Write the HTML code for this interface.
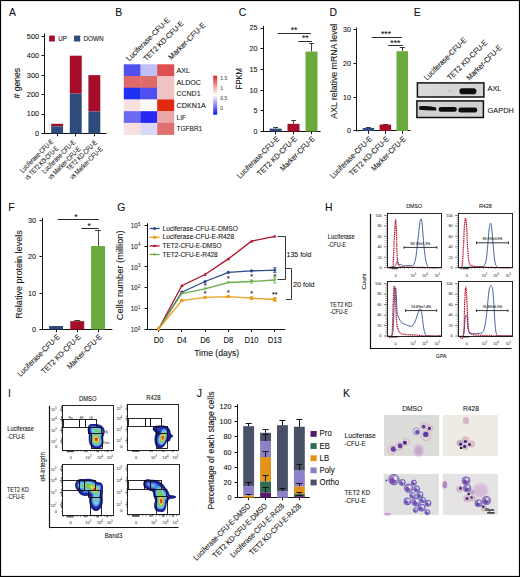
<!DOCTYPE html><html><head><meta charset="utf-8"><style>html,body{margin:0;padding:0;background:#fff;}svg{display:block;font-family:"Liberation Sans",sans-serif;}</style></head><body><svg width="520" height="577" viewBox="0 0 520 577" font-family='"Liberation Sans", sans-serif' fill="#111">
<rect x="0.00" y="0.00" width="520.00" height="577.00" fill="#ffffff"/>
<text x="8.96" y="15.70" font-size="11.2" textLength="6.95" lengthAdjust="spacingAndGlyphs" stroke="#111" stroke-width="0.1">A</text>
<line x1="44.50" y1="33.50" x2="44.50" y2="134.00" stroke="#111" stroke-width="1"/>
<line x1="41.50" y1="133.50" x2="44.50" y2="133.50" stroke="#111" stroke-width="1"/>
<text x="39.00" y="135.90" font-size="7.5" text-anchor="end" textLength="4.05" lengthAdjust="spacingAndGlyphs" stroke="#111" stroke-width="0.08">0</text>
<line x1="41.50" y1="114.50" x2="44.50" y2="114.50" stroke="#111" stroke-width="1"/>
<text x="39.00" y="116.45" font-size="7.5" text-anchor="end" textLength="12.15" lengthAdjust="spacingAndGlyphs" stroke="#111" stroke-width="0.08">100</text>
<line x1="41.50" y1="94.50" x2="44.50" y2="94.50" stroke="#111" stroke-width="1"/>
<text x="39.00" y="97.00" font-size="7.5" text-anchor="end" textLength="12.15" lengthAdjust="spacingAndGlyphs" stroke="#111" stroke-width="0.08">200</text>
<line x1="41.50" y1="75.50" x2="44.50" y2="75.50" stroke="#111" stroke-width="1"/>
<text x="39.00" y="77.55" font-size="7.5" text-anchor="end" textLength="12.15" lengthAdjust="spacingAndGlyphs" stroke="#111" stroke-width="0.08">300</text>
<line x1="41.50" y1="55.50" x2="44.50" y2="55.50" stroke="#111" stroke-width="1"/>
<text x="39.00" y="58.10" font-size="7.5" text-anchor="end" textLength="12.15" lengthAdjust="spacingAndGlyphs" stroke="#111" stroke-width="0.08">400</text>
<line x1="41.50" y1="36.50" x2="44.50" y2="36.50" stroke="#111" stroke-width="1"/>
<text x="39.00" y="38.65" font-size="7.5" text-anchor="end" textLength="12.15" lengthAdjust="spacingAndGlyphs" stroke="#111" stroke-width="0.08">500</text>
<line x1="41.80" y1="133.50" x2="106.50" y2="133.50" stroke="#111" stroke-width="1"/>
<text x="19.60" y="83.20" font-size="8.6" text-anchor="middle" transform="rotate(-90 19.60 83.20)" textLength="30.50" lengthAdjust="spacingAndGlyphs" stroke="#111" stroke-width="0.08"># genes</text>
<rect x="51.20" y="123.78" width="11.90" height="2.53" fill="#a50d2a"/>
<rect x="51.20" y="126.30" width="11.90" height="7.20" fill="#2d4b7b"/>
<line x1="57.50" y1="133.50" x2="57.50" y2="136.30" stroke="#111" stroke-width="1"/>
<rect x="69.80" y="55.70" width="11.90" height="37.93" fill="#a50d2a"/>
<rect x="69.80" y="93.63" width="11.90" height="39.87" fill="#2d4b7b"/>
<line x1="75.50" y1="133.50" x2="75.50" y2="136.30" stroke="#111" stroke-width="1"/>
<rect x="88.40" y="75.15" width="11.90" height="36.37" fill="#a50d2a"/>
<rect x="88.40" y="111.52" width="11.90" height="21.98" fill="#2d4b7b"/>
<line x1="94.50" y1="133.50" x2="94.50" y2="136.30" stroke="#111" stroke-width="1"/>
<rect x="49.10" y="35.60" width="5.70" height="5.90" fill="#a50d2a"/>
<text x="58.30" y="41.10" font-size="7.0" textLength="8.60" lengthAdjust="spacingAndGlyphs" stroke="#111" stroke-width="0.08">UP</text>
<rect x="74.10" y="35.60" width="6.10" height="5.90" fill="#2d4b7b"/>
<text x="83.40" y="41.10" font-size="7.0" textLength="20.30" lengthAdjust="spacingAndGlyphs" stroke="#111" stroke-width="0.08">DOWN</text>
<text x="53.80" y="142.10" font-size="7.2" text-anchor="end" transform="rotate(-45 53.80 142.10)" textLength="44.00" lengthAdjust="spacingAndGlyphs" stroke="#111" stroke-width="0.08">Luciferase-CFU-E</text>
<text x="59.00" y="149.00" font-size="7.2" text-anchor="end" transform="rotate(-45 59.00 149.00)" textLength="44.50" lengthAdjust="spacingAndGlyphs" stroke="#111" stroke-width="0.08">vs TET2 KD-CFU-E</text>
<text x="75.80" y="142.90" font-size="7.2" text-anchor="end" transform="rotate(-45 75.80 142.90)" textLength="44.00" lengthAdjust="spacingAndGlyphs" stroke="#111" stroke-width="0.08">Luciferase-CFU-E</text>
<text x="81.10" y="149.60" font-size="7.2" text-anchor="end" transform="rotate(-45 81.10 149.60)" textLength="43.00" lengthAdjust="spacingAndGlyphs" stroke="#111" stroke-width="0.08">vs Marker-CFU-E</text>
<text x="97.50" y="143.30" font-size="7.2" text-anchor="end" transform="rotate(-45 97.50 143.30)" textLength="39.50" lengthAdjust="spacingAndGlyphs" stroke="#111" stroke-width="0.08">TET2 KD-CFU-E</text>
<text x="103.00" y="149.60" font-size="7.2" text-anchor="end" transform="rotate(-45 103.00 149.60)" textLength="43.00" lengthAdjust="spacingAndGlyphs" stroke="#111" stroke-width="0.08">vs Marker-CFU-E</text>
<text x="115.34" y="15.70" font-size="11.2" textLength="6.95" lengthAdjust="spacingAndGlyphs" stroke="#111" stroke-width="0.1">B</text>
<rect x="123.80" y="64.30" width="17.00" height="12.02" fill="#5050f0"/>
<rect x="140.50" y="64.30" width="17.00" height="12.02" fill="#c0c0f8"/>
<rect x="157.20" y="64.30" width="17.00" height="12.02" fill="#e05050"/>
<text x="176.60" y="72.86" font-size="8.0" textLength="13.40" lengthAdjust="spacingAndGlyphs" stroke="#111" stroke-width="0.08">AXL</text>
<rect x="123.80" y="76.02" width="17.00" height="12.02" fill="#e06a6a"/>
<rect x="140.50" y="76.02" width="17.00" height="12.02" fill="#e06a6a"/>
<rect x="157.20" y="76.02" width="17.00" height="12.02" fill="#f0c4c4"/>
<text x="176.60" y="84.58" font-size="8.0" textLength="24.30" lengthAdjust="spacingAndGlyphs" stroke="#111" stroke-width="0.08">ALDOC</text>
<rect x="123.80" y="87.74" width="17.00" height="12.02" fill="#2030f2"/>
<rect x="140.50" y="87.74" width="17.00" height="12.02" fill="#5050f0"/>
<rect x="157.20" y="87.74" width="17.00" height="12.02" fill="#f0c4c4"/>
<text x="176.60" y="96.30" font-size="8.0" textLength="23.90" lengthAdjust="spacingAndGlyphs" stroke="#111" stroke-width="0.08">CCND1</text>
<rect x="123.80" y="99.46" width="17.00" height="12.02" fill="#f8e0e0"/>
<rect x="140.50" y="99.46" width="17.00" height="12.02" fill="#fafafe"/>
<rect x="157.20" y="99.46" width="17.00" height="12.02" fill="#e02a10"/>
<text x="176.60" y="108.02" font-size="8.0" textLength="29.20" lengthAdjust="spacingAndGlyphs" stroke="#111" stroke-width="0.08">CDKN1A</text>
<rect x="123.80" y="111.18" width="17.00" height="12.02" fill="#6a6af0"/>
<rect x="140.50" y="111.18" width="17.00" height="12.02" fill="#2828f0"/>
<rect x="157.20" y="111.18" width="17.00" height="12.02" fill="#eaa8a8"/>
<text x="176.60" y="119.74" font-size="8.0" textLength="9.40" lengthAdjust="spacingAndGlyphs" stroke="#111" stroke-width="0.08">LIF</text>
<rect x="123.80" y="122.90" width="17.00" height="12.02" fill="#f8e0e0"/>
<rect x="140.50" y="122.90" width="17.00" height="12.02" fill="#d8d8f8"/>
<rect x="157.20" y="122.90" width="17.00" height="12.02" fill="#e07070"/>
<text x="176.60" y="131.46" font-size="8.0" textLength="25.60" lengthAdjust="spacingAndGlyphs" stroke="#111" stroke-width="0.08">TGFBR1</text>
<text x="129.30" y="61.60" font-size="7.6" transform="rotate(-45 129.30 61.60)" textLength="58.00" lengthAdjust="spacingAndGlyphs" stroke="#111" stroke-width="0.08">Luciferase-CFU-E</text>
<text x="146.40" y="61.60" font-size="7.6" transform="rotate(-45 146.40 61.60)" textLength="53.50" lengthAdjust="spacingAndGlyphs" stroke="#111" stroke-width="0.08">TET2 KD-CFU-E</text>
<text x="171.30" y="60.30" font-size="7.6" transform="rotate(-45 171.30 60.30)" textLength="49.00" lengthAdjust="spacingAndGlyphs" stroke="#111" stroke-width="0.08">Marker-CFU-E</text>
<defs><linearGradient id="cb" x1="0" y1="0" x2="0" y2="1"><stop offset="0" stop-color="#e02820"/><stop offset="0.5" stop-color="#ffffff"/><stop offset="1" stop-color="#1010f0"/></linearGradient></defs>
<rect x="213.20" y="75.60" width="4.00" height="39.10" fill="url(#cb)"/>
<text x="220.30" y="79.70" font-size="5.2" fill="#444" textLength="6.87" lengthAdjust="spacingAndGlyphs" stroke="#444" stroke-width="0.06">1.5</text>
<text x="220.30" y="89.60" font-size="5.2" fill="#444" textLength="2.75" lengthAdjust="spacingAndGlyphs" stroke="#444" stroke-width="0.06">1</text>
<text x="220.30" y="99.60" font-size="5.2" fill="#444" textLength="6.87" lengthAdjust="spacingAndGlyphs" stroke="#444" stroke-width="0.06">0.5</text>
<text x="220.30" y="109.70" font-size="5.2" fill="#444" textLength="2.75" lengthAdjust="spacingAndGlyphs" stroke="#444" stroke-width="0.06">0</text>
<text x="238.78" y="15.90" font-size="11.2" textLength="7.52" lengthAdjust="spacingAndGlyphs" stroke="#111" stroke-width="0.1">C</text>
<line x1="263.50" y1="25.90" x2="263.50" y2="132.00" stroke="#111" stroke-width="1"/>
<line x1="260.50" y1="131.50" x2="263.50" y2="131.50" stroke="#111" stroke-width="1"/>
<text x="257.40" y="133.90" font-size="7.4" text-anchor="end" textLength="4.00" lengthAdjust="spacingAndGlyphs" stroke="#111" stroke-width="0.08">0</text>
<line x1="260.50" y1="110.50" x2="263.50" y2="110.50" stroke="#111" stroke-width="1"/>
<text x="257.40" y="113.20" font-size="7.4" text-anchor="end" textLength="4.00" lengthAdjust="spacingAndGlyphs" stroke="#111" stroke-width="0.08">5</text>
<line x1="260.50" y1="90.50" x2="263.50" y2="90.50" stroke="#111" stroke-width="1"/>
<text x="257.40" y="92.50" font-size="7.4" text-anchor="end" textLength="8.00" lengthAdjust="spacingAndGlyphs" stroke="#111" stroke-width="0.08">10</text>
<line x1="260.50" y1="69.50" x2="263.50" y2="69.50" stroke="#111" stroke-width="1"/>
<text x="257.40" y="71.80" font-size="7.4" text-anchor="end" textLength="8.00" lengthAdjust="spacingAndGlyphs" stroke="#111" stroke-width="0.08">15</text>
<line x1="260.50" y1="48.50" x2="263.50" y2="48.50" stroke="#111" stroke-width="1"/>
<text x="257.40" y="51.10" font-size="7.4" text-anchor="end" textLength="8.00" lengthAdjust="spacingAndGlyphs" stroke="#111" stroke-width="0.08">20</text>
<line x1="260.50" y1="28.50" x2="263.50" y2="28.50" stroke="#111" stroke-width="1"/>
<text x="257.40" y="30.40" font-size="7.4" text-anchor="end" textLength="8.00" lengthAdjust="spacingAndGlyphs" stroke="#111" stroke-width="0.08">25</text>
<line x1="263.00" y1="131.50" x2="320.60" y2="131.50" stroke="#111" stroke-width="1"/>
<text x="242.00" y="78.70" font-size="8.2" text-anchor="middle" transform="rotate(-90 242.00 78.70)" textLength="20.96" lengthAdjust="spacingAndGlyphs" stroke="#111" stroke-width="0.08">FPKM</text>
<line x1="275.50" y1="128.60" x2="275.50" y2="127.57" stroke="#111" stroke-width="0.8"/>
<line x1="273.10" y1="127.50" x2="278.10" y2="127.50" stroke="#111" stroke-width="0.8"/>
<rect x="269.60" y="128.60" width="12.00" height="2.90" fill="#2d4b7b"/>
<line x1="275.50" y1="131.50" x2="275.50" y2="134.30" stroke="#111" stroke-width="1"/>
<line x1="293.50" y1="123.84" x2="293.50" y2="120.74" stroke="#111" stroke-width="0.8"/>
<line x1="291.00" y1="120.50" x2="296.00" y2="120.50" stroke="#111" stroke-width="0.8"/>
<rect x="287.50" y="123.84" width="12.00" height="7.66" fill="#a50d2a"/>
<line x1="293.50" y1="131.50" x2="293.50" y2="134.30" stroke="#111" stroke-width="1"/>
<line x1="311.50" y1="51.60" x2="311.50" y2="43.32" stroke="#111" stroke-width="0.8"/>
<line x1="309.00" y1="43.50" x2="314.00" y2="43.50" stroke="#111" stroke-width="0.8"/>
<rect x="305.50" y="51.60" width="12.00" height="79.90" fill="#6aaa3c"/>
<line x1="311.50" y1="131.50" x2="311.50" y2="134.30" stroke="#111" stroke-width="1"/>
<line x1="277.70" y1="33.50" x2="310.80" y2="33.50" stroke="#111" stroke-width="0.9"/>
<text x="294.00" y="33.00" font-size="8.5" text-anchor="middle" stroke="#111" stroke-width="0.08">**</text>
<line x1="298.40" y1="41.50" x2="312.00" y2="41.50" stroke="#111" stroke-width="0.9"/>
<text x="305.30" y="41.20" font-size="8.5" text-anchor="middle" stroke="#111" stroke-width="0.08">**</text>
<text x="279.70" y="139.40" font-size="7.8" text-anchor="end" transform="rotate(-45 279.70 139.40)" textLength="56.08" lengthAdjust="spacingAndGlyphs" stroke="#111" stroke-width="0.08">Luciferase-CFU-E</text>
<text x="297.40" y="139.40" font-size="7.8" text-anchor="end" transform="rotate(-45 297.40 139.40)" textLength="52.56" lengthAdjust="spacingAndGlyphs" stroke="#111" stroke-width="0.08">TET2 KD-CFU-E</text>
<text x="315.30" y="139.40" font-size="7.8" text-anchor="end" transform="rotate(-45 315.30 139.40)" textLength="45.55" lengthAdjust="spacingAndGlyphs" stroke="#111" stroke-width="0.08">Marker-CFU-E</text>
<text x="329.48" y="15.70" font-size="11.2" textLength="7.52" lengthAdjust="spacingAndGlyphs" stroke="#111" stroke-width="0.1">D</text>
<line x1="356.50" y1="27.50" x2="356.50" y2="131.50" stroke="#111" stroke-width="1"/>
<line x1="353.50" y1="130.50" x2="356.50" y2="130.50" stroke="#111" stroke-width="1"/>
<text x="351.00" y="133.40" font-size="7.4" text-anchor="end" textLength="4.00" lengthAdjust="spacingAndGlyphs" stroke="#111" stroke-width="0.08">0</text>
<line x1="353.50" y1="97.50" x2="356.50" y2="97.50" stroke="#111" stroke-width="1"/>
<text x="351.00" y="99.60" font-size="7.4" text-anchor="end" textLength="8.00" lengthAdjust="spacingAndGlyphs" stroke="#111" stroke-width="0.08">10</text>
<line x1="353.50" y1="63.50" x2="356.50" y2="63.50" stroke="#111" stroke-width="1"/>
<text x="351.00" y="65.80" font-size="7.4" text-anchor="end" textLength="8.00" lengthAdjust="spacingAndGlyphs" stroke="#111" stroke-width="0.08">20</text>
<line x1="353.50" y1="29.50" x2="356.50" y2="29.50" stroke="#111" stroke-width="1"/>
<text x="351.00" y="32.00" font-size="7.4" text-anchor="end" textLength="8.00" lengthAdjust="spacingAndGlyphs" stroke="#111" stroke-width="0.08">30</text>
<line x1="356.00" y1="130.50" x2="410.40" y2="130.50" stroke="#111" stroke-width="1"/>
<text x="337.00" y="71.20" font-size="8.4" text-anchor="middle" transform="rotate(-90 337.00 71.20)" textLength="95.00" lengthAdjust="spacingAndGlyphs" stroke="#111" stroke-width="0.08">AXL relative mRNA level</text>
<line x1="368.50" y1="127.96" x2="368.50" y2="127.79" stroke="#111" stroke-width="0.8"/>
<line x1="365.95" y1="127.50" x2="370.95" y2="127.50" stroke="#111" stroke-width="0.8"/>
<rect x="362.70" y="127.96" width="11.50" height="3.04" fill="#2d4b7b"/>
<line x1="368.50" y1="131.00" x2="368.50" y2="133.80" stroke="#111" stroke-width="1"/>
<line x1="385.50" y1="124.58" x2="385.50" y2="124.24" stroke="#111" stroke-width="0.8"/>
<line x1="382.85" y1="124.50" x2="387.85" y2="124.50" stroke="#111" stroke-width="0.8"/>
<rect x="379.60" y="124.58" width="11.50" height="6.42" fill="#a50d2a"/>
<line x1="385.50" y1="131.00" x2="385.50" y2="133.80" stroke="#111" stroke-width="1"/>
<line x1="402.50" y1="51.23" x2="402.50" y2="47.18" stroke="#111" stroke-width="0.8"/>
<line x1="399.75" y1="47.50" x2="404.75" y2="47.50" stroke="#111" stroke-width="0.8"/>
<rect x="396.50" y="51.23" width="11.50" height="79.77" fill="#6aaa3c"/>
<line x1="402.50" y1="131.00" x2="402.50" y2="133.80" stroke="#111" stroke-width="1"/>
<line x1="371.80" y1="37.50" x2="401.80" y2="37.50" stroke="#111" stroke-width="0.9"/>
<text x="386.00" y="37.30" font-size="8.5" text-anchor="middle" stroke="#111" stroke-width="0.08">***</text>
<line x1="388.20" y1="45.50" x2="402.90" y2="45.50" stroke="#111" stroke-width="0.9"/>
<text x="395.30" y="46.00" font-size="8.5" text-anchor="middle" stroke="#111" stroke-width="0.08">***</text>
<text x="372.60" y="139.40" font-size="7.8" text-anchor="end" transform="rotate(-45 372.60 139.40)" textLength="56.08" lengthAdjust="spacingAndGlyphs" stroke="#111" stroke-width="0.08">Luciferase-CFU-E</text>
<text x="389.50" y="139.40" font-size="7.8" text-anchor="end" transform="rotate(-45 389.50 139.40)" textLength="52.56" lengthAdjust="spacingAndGlyphs" stroke="#111" stroke-width="0.08">TET2 KD-CFU-E</text>
<text x="406.40" y="139.40" font-size="7.8" text-anchor="end" transform="rotate(-45 406.40 139.40)" textLength="45.55" lengthAdjust="spacingAndGlyphs" stroke="#111" stroke-width="0.08">Marker-CFU-E</text>
<text x="413.68" y="15.70" font-size="11.2" textLength="6.95" lengthAdjust="spacingAndGlyphs" stroke="#111" stroke-width="0.1">E</text>
<text x="427.00" y="80.80" font-size="7.8" transform="rotate(-45 427.00 80.80)" textLength="56.85" lengthAdjust="spacingAndGlyphs" stroke="#111" stroke-width="0.08">Luciferase-CFU-E</text>
<text x="450.30" y="80.80" font-size="7.8" transform="rotate(-45 450.30 80.80)" textLength="53.28" lengthAdjust="spacingAndGlyphs" stroke="#111" stroke-width="0.08">TET2 KD-CFU-E</text>
<text x="469.60" y="80.80" font-size="7.8" transform="rotate(-45 469.60 80.80)" textLength="46.17" lengthAdjust="spacingAndGlyphs" stroke="#111" stroke-width="0.08">Marker-CFU-E</text>
<defs><filter id="bl1" x="-20%" y="-50%" width="140%" height="200%"><feGaussianBlur stdDeviation="0.55"/></filter><linearGradient id="eg1" x1="0" y1="0" x2="1" y2="0"><stop offset="0" stop-color="#dadada"/><stop offset="1" stop-color="#d2d2d2"/></linearGradient></defs>
<rect x="417.4" y="82.9" width="66.5" height="14.1" fill="url(#eg1)" stroke="#111" stroke-width="1.5"/>
<rect x="459.4" y="88.2" width="17" height="6.0" rx="2.8" fill="#111" filter="url(#bl1)"/>
<ellipse cx="450" cy="91" rx="2.5" ry="1.5" fill="#c8c8c8" filter="url(#bl1)"/>
<rect x="416.9" y="100.9" width="66.5" height="16.6" fill="#d0d0d0" stroke="#111" stroke-width="1.5"/>
<path d="M419.2,106.3 Q427,105.6 436.2,107.4 L436.2,110.4 Q427,110.6 419.2,109.8 Z" fill="#111" filter="url(#bl1)"/>
<rect x="438.6" y="107.0" width="18.2" height="4.8" rx="2.2" fill="#111" filter="url(#bl1)"/>
<rect x="458.4" y="107.4" width="18.8" height="5.0" rx="2.2" fill="#111" filter="url(#bl1)"/>
<text x="487.60" y="91.20" font-size="8.0" textLength="13.80" lengthAdjust="spacingAndGlyphs" stroke="#111" stroke-width="0.08">AXL</text>
<text x="487.60" y="112.80" font-size="8.0" textLength="26.20" lengthAdjust="spacingAndGlyphs" stroke="#111" stroke-width="0.08">GAPDH</text>
<text x="8.26" y="211.20" font-size="11.2" textLength="6.36" lengthAdjust="spacingAndGlyphs" stroke="#111" stroke-width="0.1">F</text>
<line x1="42.50" y1="218.10" x2="42.50" y2="330.00" stroke="#111" stroke-width="1"/>
<line x1="39.50" y1="329.50" x2="42.50" y2="329.50" stroke="#111" stroke-width="1"/>
<text x="36.00" y="331.90" font-size="7.4" text-anchor="end" textLength="4.00" lengthAdjust="spacingAndGlyphs" stroke="#111" stroke-width="0.08">0</text>
<line x1="39.50" y1="293.50" x2="42.50" y2="293.50" stroke="#111" stroke-width="1"/>
<text x="36.00" y="295.60" font-size="7.4" text-anchor="end" textLength="8.00" lengthAdjust="spacingAndGlyphs" stroke="#111" stroke-width="0.08">10</text>
<line x1="39.50" y1="256.50" x2="42.50" y2="256.50" stroke="#111" stroke-width="1"/>
<text x="36.00" y="259.30" font-size="7.4" text-anchor="end" textLength="8.00" lengthAdjust="spacingAndGlyphs" stroke="#111" stroke-width="0.08">20</text>
<line x1="39.50" y1="220.50" x2="42.50" y2="220.50" stroke="#111" stroke-width="1"/>
<text x="36.00" y="223.00" font-size="7.4" text-anchor="end" textLength="8.00" lengthAdjust="spacingAndGlyphs" stroke="#111" stroke-width="0.08">30</text>
<line x1="42.00" y1="329.50" x2="112.40" y2="329.50" stroke="#111" stroke-width="1"/>
<text x="21.60" y="274.50" font-size="8.2" text-anchor="middle" transform="rotate(-90 21.60 274.50)" textLength="88.40" lengthAdjust="spacingAndGlyphs" stroke="#111" stroke-width="0.08">Relative protein levels</text>
<line x1="56.50" y1="326.50" x2="56.50" y2="326.50" stroke="#111" stroke-width="0.8"/>
<line x1="53.05" y1="326.50" x2="59.05" y2="326.50" stroke="#111" stroke-width="0.8"/>
<rect x="49.10" y="326.05" width="13.90" height="3.45" fill="#2d4b7b"/>
<line x1="56.50" y1="329.50" x2="56.50" y2="332.30" stroke="#111" stroke-width="1"/>
<line x1="77.50" y1="321.15" x2="77.50" y2="320.43" stroke="#111" stroke-width="0.8"/>
<line x1="74.25" y1="320.50" x2="80.25" y2="320.50" stroke="#111" stroke-width="0.8"/>
<rect x="70.30" y="321.15" width="13.90" height="8.35" fill="#a50d2a"/>
<line x1="77.50" y1="329.50" x2="77.50" y2="332.30" stroke="#111" stroke-width="1"/>
<line x1="98.50" y1="246.01" x2="98.50" y2="230.76" stroke="#111" stroke-width="0.8"/>
<line x1="95.05" y1="230.50" x2="101.05" y2="230.50" stroke="#111" stroke-width="0.8"/>
<rect x="91.10" y="246.01" width="13.90" height="83.49" fill="#6aaa3c"/>
<line x1="98.50" y1="329.50" x2="98.50" y2="332.30" stroke="#111" stroke-width="1"/>
<line x1="57.70" y1="219.50" x2="98.80" y2="219.50" stroke="#111" stroke-width="0.9"/>
<text x="75.90" y="220.30" font-size="8.5" text-anchor="middle" stroke="#111" stroke-width="0.08">*</text>
<line x1="81.40" y1="228.50" x2="98.80" y2="228.50" stroke="#111" stroke-width="0.9"/>
<text x="89.20" y="229.40" font-size="8.5" text-anchor="middle" stroke="#111" stroke-width="0.08">*</text>
<text x="60.20" y="337.40" font-size="7.8" text-anchor="end" transform="rotate(-45 60.20 337.40)" textLength="56.08" lengthAdjust="spacingAndGlyphs" stroke="#111" stroke-width="0.08">Luciferase-CFU-E</text>
<text x="81.40" y="337.40" font-size="7.8" text-anchor="end" transform="rotate(-45 81.40 337.40)" textLength="52.56" lengthAdjust="spacingAndGlyphs" stroke="#111" stroke-width="0.08">TET2 KD-CFU-E</text>
<text x="102.20" y="337.40" font-size="7.8" text-anchor="end" transform="rotate(-45 102.20 337.40)" textLength="45.55" lengthAdjust="spacingAndGlyphs" stroke="#111" stroke-width="0.08">Marker-CFU-E</text>
<text x="117.30" y="211.00" font-size="11.2" textLength="8.10" lengthAdjust="spacingAndGlyphs" stroke="#111" stroke-width="0.1">G</text>
<line x1="147.50" y1="223.30" x2="147.50" y2="330.00" stroke="#111" stroke-width="1"/>
<line x1="144.50" y1="329.50" x2="147.50" y2="329.50" stroke="#111" stroke-width="1"/>
<text x="137.70" y="332.10" font-size="7.4" text-anchor="end" textLength="6.90" lengthAdjust="spacingAndGlyphs" stroke="#111" stroke-width="0.08">10</text>
<text x="137.90" y="329.80" font-size="4.6" textLength="2.35" lengthAdjust="spacingAndGlyphs" stroke="#111" stroke-width="0.06">0</text>
<line x1="144.50" y1="308.50" x2="147.50" y2="308.50" stroke="#111" stroke-width="1"/>
<text x="137.70" y="311.25" font-size="7.4" text-anchor="end" textLength="6.90" lengthAdjust="spacingAndGlyphs" stroke="#111" stroke-width="0.08">10</text>
<text x="137.90" y="308.95" font-size="4.6" textLength="2.35" lengthAdjust="spacingAndGlyphs" stroke="#111" stroke-width="0.06">1</text>
<line x1="144.50" y1="287.50" x2="147.50" y2="287.50" stroke="#111" stroke-width="1"/>
<text x="137.70" y="290.40" font-size="7.4" text-anchor="end" textLength="6.90" lengthAdjust="spacingAndGlyphs" stroke="#111" stroke-width="0.08">10</text>
<text x="137.90" y="288.10" font-size="4.6" textLength="2.35" lengthAdjust="spacingAndGlyphs" stroke="#111" stroke-width="0.06">2</text>
<line x1="144.50" y1="266.50" x2="147.50" y2="266.50" stroke="#111" stroke-width="1"/>
<text x="137.70" y="269.55" font-size="7.4" text-anchor="end" textLength="6.90" lengthAdjust="spacingAndGlyphs" stroke="#111" stroke-width="0.08">10</text>
<text x="137.90" y="267.25" font-size="4.6" textLength="2.35" lengthAdjust="spacingAndGlyphs" stroke="#111" stroke-width="0.06">3</text>
<line x1="144.50" y1="246.50" x2="147.50" y2="246.50" stroke="#111" stroke-width="1"/>
<text x="137.70" y="248.70" font-size="7.4" text-anchor="end" textLength="6.90" lengthAdjust="spacingAndGlyphs" stroke="#111" stroke-width="0.08">10</text>
<text x="137.90" y="246.40" font-size="4.6" textLength="2.35" lengthAdjust="spacingAndGlyphs" stroke="#111" stroke-width="0.06">4</text>
<line x1="144.50" y1="225.50" x2="147.50" y2="225.50" stroke="#111" stroke-width="1"/>
<text x="137.70" y="227.85" font-size="7.4" text-anchor="end" textLength="6.90" lengthAdjust="spacingAndGlyphs" stroke="#111" stroke-width="0.08">10</text>
<text x="137.90" y="225.55" font-size="4.6" textLength="2.35" lengthAdjust="spacingAndGlyphs" stroke="#111" stroke-width="0.06">5</text>
<line x1="147.00" y1="329.50" x2="285.30" y2="329.50" stroke="#111" stroke-width="1"/>
<line x1="158.50" y1="329.50" x2="158.50" y2="332.00" stroke="#111" stroke-width="1"/>
<text x="158.60" y="342.50" font-size="8.2" text-anchor="middle" textLength="9.75" lengthAdjust="spacingAndGlyphs" stroke="#111" stroke-width="0.08">D0</text>
<line x1="181.50" y1="329.50" x2="181.50" y2="332.00" stroke="#111" stroke-width="1"/>
<text x="181.80" y="342.50" font-size="8.2" text-anchor="middle" textLength="9.75" lengthAdjust="spacingAndGlyphs" stroke="#111" stroke-width="0.08">D4</text>
<line x1="205.50" y1="329.50" x2="205.50" y2="332.00" stroke="#111" stroke-width="1"/>
<text x="205.10" y="342.50" font-size="8.2" text-anchor="middle" textLength="9.75" lengthAdjust="spacingAndGlyphs" stroke="#111" stroke-width="0.08">D6</text>
<line x1="228.50" y1="329.50" x2="228.50" y2="332.00" stroke="#111" stroke-width="1"/>
<text x="228.30" y="342.50" font-size="8.2" text-anchor="middle" textLength="9.75" lengthAdjust="spacingAndGlyphs" stroke="#111" stroke-width="0.08">D8</text>
<line x1="251.50" y1="329.50" x2="251.50" y2="332.00" stroke="#111" stroke-width="1"/>
<text x="251.50" y="342.50" font-size="8.2" text-anchor="middle" textLength="13.99" lengthAdjust="spacingAndGlyphs" stroke="#111" stroke-width="0.08">D10</text>
<line x1="274.50" y1="329.50" x2="274.50" y2="332.00" stroke="#111" stroke-width="1"/>
<text x="274.80" y="342.50" font-size="8.2" text-anchor="middle" textLength="13.99" lengthAdjust="spacingAndGlyphs" stroke="#111" stroke-width="0.08">D13</text>
<text x="216.70" y="355.60" font-size="9.2" text-anchor="middle" textLength="45.00" lengthAdjust="spacingAndGlyphs" stroke="#111" stroke-width="0.08">Time (days)</text>
<text x="123.20" y="275.30" font-size="8.8" text-anchor="middle" transform="rotate(-90 123.20 275.30)" textLength="89.70" lengthAdjust="spacingAndGlyphs" stroke="#111" stroke-width="0.08">Cells number (million)</text>
<polyline points="158.6,329.0 181.8,285.7 205.1,274.5 228.3,258.9 251.5,241.2 274.8,236.3" fill="none" stroke="#b0122a" stroke-width="1.3"/>
<polygon points="156.8,330.3 160.4,330.3 158.6,327.2" fill="#b0122a"/>
<polygon points="180.0,287.0 183.6,287.0 181.8,283.9" fill="#b0122a"/>
<polygon points="203.3,275.8 206.9,275.8 205.1,272.7" fill="#b0122a"/>
<polygon points="226.5,260.2 230.1,260.2 228.3,257.1" fill="#b0122a"/>
<polygon points="249.7,242.5 253.3,242.5 251.5,239.4" fill="#b0122a"/>
<polygon points="273.0,237.6 276.6,237.6 274.8,234.5" fill="#b0122a"/>
<polyline points="158.6,329.0 181.8,292.2 205.1,281.5 228.3,272.4 251.5,270.9 274.8,270.1" fill="none" stroke="#2c4a8c" stroke-width="1.3"/>
<circle cx="158.6" cy="329.0" r="1.6" fill="#2c4a8c"/>
<circle cx="181.8" cy="292.2" r="1.6" fill="#2c4a8c"/>
<circle cx="205.1" cy="281.5" r="1.6" fill="#2c4a8c"/>
<circle cx="228.3" cy="272.4" r="1.6" fill="#2c4a8c"/>
<circle cx="251.5" cy="270.9" r="1.6" fill="#2c4a8c"/>
<circle cx="274.8" cy="270.1" r="1.6" fill="#2c4a8c"/>
<polyline points="158.6,329.0 181.8,293.5 205.1,288.8 228.3,282.5 251.5,281.5 274.8,280.0" fill="none" stroke="#6ab04c" stroke-width="1.3"/>
<polygon points="157.0,327.8 160.2,327.8 158.6,330.6" fill="#6ab04c"/>
<polygon points="180.2,292.3 183.4,292.3 181.8,295.1" fill="#6ab04c"/>
<polygon points="203.5,287.6 206.7,287.6 205.1,290.4" fill="#6ab04c"/>
<polygon points="226.7,281.3 229.9,281.3 228.3,284.1" fill="#6ab04c"/>
<polygon points="249.9,280.3 253.1,280.3 251.5,283.1" fill="#6ab04c"/>
<polygon points="273.2,278.8 276.4,278.8 274.8,281.6" fill="#6ab04c"/>
<polyline points="158.6,329.0 181.8,300.5 205.1,297.4 228.3,296.6 251.5,298.2 274.8,299.5" fill="none" stroke="#e8a020" stroke-width="1.3"/>
<rect x="157.00" y="327.40" width="3.20" height="3.20" fill="#e8a020"/>
<rect x="180.20" y="298.90" width="3.20" height="3.20" fill="#e8a020"/>
<rect x="203.50" y="295.80" width="3.20" height="3.20" fill="#e8a020"/>
<rect x="226.70" y="295.00" width="3.20" height="3.20" fill="#e8a020"/>
<rect x="249.90" y="296.60" width="3.20" height="3.20" fill="#e8a020"/>
<rect x="273.20" y="297.90" width="3.20" height="3.20" fill="#e8a020"/>
<line x1="274.80" y1="267.60" x2="274.80" y2="272.60" stroke="#2c4a8c" stroke-width="0.8"/>
<line x1="273.00" y1="267.60" x2="276.60" y2="267.60" stroke="#2c4a8c" stroke-width="0.8"/>
<line x1="273.00" y1="272.60" x2="276.60" y2="272.60" stroke="#2c4a8c" stroke-width="0.8"/>
<line x1="274.80" y1="277.00" x2="274.80" y2="283.00" stroke="#6ab04c" stroke-width="0.8"/>
<line x1="273.00" y1="277.00" x2="276.60" y2="277.00" stroke="#6ab04c" stroke-width="0.8"/>
<line x1="273.00" y1="283.00" x2="276.60" y2="283.00" stroke="#6ab04c" stroke-width="0.8"/>
<line x1="274.80" y1="297.50" x2="274.80" y2="301.50" stroke="#e8a020" stroke-width="0.8"/>
<line x1="273.00" y1="297.50" x2="276.60" y2="297.50" stroke="#e8a020" stroke-width="0.8"/>
<line x1="273.00" y1="301.50" x2="276.60" y2="301.50" stroke="#e8a020" stroke-width="0.8"/>
<line x1="251.50" y1="279.90" x2="251.50" y2="283.10" stroke="#6ab04c" stroke-width="0.8"/>
<line x1="249.70" y1="279.90" x2="253.30" y2="279.90" stroke="#6ab04c" stroke-width="0.8"/>
<line x1="249.70" y1="283.10" x2="253.30" y2="283.10" stroke="#6ab04c" stroke-width="0.8"/>
<line x1="251.50" y1="296.80" x2="251.50" y2="299.60" stroke="#e8a020" stroke-width="0.8"/>
<line x1="249.70" y1="296.80" x2="253.30" y2="296.80" stroke="#e8a020" stroke-width="0.8"/>
<line x1="249.70" y1="299.60" x2="253.30" y2="299.60" stroke="#e8a020" stroke-width="0.8"/>
<text x="205.10" y="288.00" font-size="7.0" text-anchor="middle" fill="#222" stroke="#222" stroke-width="0.1">*</text>
<text x="205.10" y="296.30" font-size="7.0" text-anchor="middle" fill="#222" stroke="#222" stroke-width="0.1">*</text>
<text x="228.30" y="280.80" font-size="7.0" text-anchor="middle" fill="#222" stroke="#222" stroke-width="0.1">*</text>
<text x="228.30" y="295.30" font-size="7.0" text-anchor="middle" fill="#222" stroke="#222" stroke-width="0.1">*</text>
<text x="251.50" y="279.00" font-size="7.0" text-anchor="middle" fill="#222" stroke="#222" stroke-width="0.1">*</text>
<text x="251.50" y="295.80" font-size="7.0" text-anchor="middle" fill="#222" stroke="#222" stroke-width="0.1">*</text>
<text x="274.80" y="279.00" font-size="7.0" text-anchor="middle" fill="#222" stroke="#222" stroke-width="0.1">*</text>
<text x="274.80" y="296.60" font-size="7.0" text-anchor="middle" fill="#222" stroke="#222" stroke-width="0.1">**</text>
<line x1="149.70" y1="228.50" x2="159.60" y2="228.50" stroke="#2c4a8c" stroke-width="1.3"/>
<circle cx="154.6" cy="228.5" r="1.5" fill="#2c4a8c"/>
<text x="162.50" y="230.60" font-size="7.8" textLength="75.40" lengthAdjust="spacingAndGlyphs" stroke="#111" stroke-width="0.08">Luciferase-CFU-E-DMSO</text>
<line x1="149.70" y1="237.30" x2="159.60" y2="237.30" stroke="#e8a020" stroke-width="1.3"/>
<rect x="153.10" y="235.80" width="3.00" height="3.00" fill="#e8a020"/>
<text x="162.50" y="239.40" font-size="7.8" textLength="71.80" lengthAdjust="spacingAndGlyphs" stroke="#111" stroke-width="0.08">Luciferase-CFU-E-R428</text>
<line x1="149.70" y1="245.90" x2="159.60" y2="245.90" stroke="#b0122a" stroke-width="1.3"/>
<polygon points="152.9,247.1 156.3,247.1 154.6,244.2" fill="#b0122a"/>
<text x="162.50" y="248.00" font-size="7.8" textLength="59.00" lengthAdjust="spacingAndGlyphs" stroke="#111" stroke-width="0.08">TET2-CFU-E-DMSO</text>
<line x1="149.70" y1="254.50" x2="159.60" y2="254.50" stroke="#6ab04c" stroke-width="1.3"/>
<polygon points="153.1,253.4 156.1,253.4 154.6,256.0" fill="#6ab04c"/>
<text x="162.50" y="256.60" font-size="7.8" textLength="55.20" lengthAdjust="spacingAndGlyphs" stroke="#111" stroke-width="0.08">TET2-CFU-E-R428</text>
<polyline points="277.5,236.5 285.5,236.5 285.5,279.5 277.5,279.5" fill="none" stroke="#222" stroke-width="0.9"/>
<text x="286.60" y="257.00" font-size="7.6" textLength="24.80" lengthAdjust="spacingAndGlyphs" stroke="#111" stroke-width="0.08">135 fold</text>
<polyline points="285.8,268.5 291.5,268.5 291.5,299.5 285.8,299.5" fill="none" stroke="#222" stroke-width="0.9"/>
<text x="293.10" y="287.00" font-size="7.6" textLength="21.40" lengthAdjust="spacingAndGlyphs" stroke="#111" stroke-width="0.08">20 fold</text>
<text x="324.96" y="210.80" font-size="11.2" textLength="7.52" lengthAdjust="spacingAndGlyphs" stroke="#111" stroke-width="0.1">H</text>
<text x="414.20" y="208.40" font-size="5.8" text-anchor="middle" textLength="16.01" lengthAdjust="spacingAndGlyphs" stroke="#111" stroke-width="0.08">DMSO</text>
<text x="485.40" y="208.40" font-size="5.8" text-anchor="middle" textLength="12.76" lengthAdjust="spacingAndGlyphs" stroke="#111" stroke-width="0.08">R428</text>
<text x="327.80" y="238.80" font-size="6.6" textLength="27.00" lengthAdjust="spacingAndGlyphs" stroke="#111" stroke-width="0.08">Luciferase</text>
<text x="327.80" y="246.50" font-size="6.6" textLength="18.30" lengthAdjust="spacingAndGlyphs" stroke="#111" stroke-width="0.08">-CFU-E</text>
<text x="330.00" y="306.70" font-size="6.6" textLength="22.30" lengthAdjust="spacingAndGlyphs" stroke="#111" stroke-width="0.08">TET2 KD</text>
<text x="330.00" y="314.40" font-size="6.6" textLength="18.00" lengthAdjust="spacingAndGlyphs" stroke="#111" stroke-width="0.08">-CFU-E</text>
<text x="366.00" y="281.50" font-size="6.2" text-anchor="middle" transform="rotate(-90 366.00 281.50)" textLength="16.00" lengthAdjust="spacingAndGlyphs" stroke="#111" stroke-width="0.08">Count</text>
<text x="441.20" y="358.20" font-size="5.8" text-anchor="middle" textLength="10.87" lengthAdjust="spacingAndGlyphs" stroke="#111" stroke-width="0.08">GPA</text>
<line x1="370.50" y1="213.80" x2="370.50" y2="349.30" stroke="#111" stroke-width="1.2"/>
<line x1="370.00" y1="348.50" x2="511.50" y2="348.50" stroke="#111" stroke-width="1.2"/>
<line x1="384.10" y1="215.40" x2="387.30" y2="215.40" stroke="#222" stroke-width="0.6"/>
<text x="381.70" y="216.70" font-size="3.8" text-anchor="end" fill="#444" textLength="6.45" lengthAdjust="spacingAndGlyphs" stroke="#444" stroke-width="0.06">100</text>
<line x1="385.70" y1="217.49" x2="387.30" y2="217.49" stroke="#222" stroke-width="0.5"/>
<line x1="385.70" y1="219.58" x2="387.30" y2="219.58" stroke="#222" stroke-width="0.5"/>
<line x1="385.70" y1="221.68" x2="387.30" y2="221.68" stroke="#222" stroke-width="0.5"/>
<line x1="385.70" y1="223.77" x2="387.30" y2="223.77" stroke="#222" stroke-width="0.5"/>
<line x1="384.10" y1="225.86" x2="387.30" y2="225.86" stroke="#222" stroke-width="0.6"/>
<text x="381.70" y="227.16" font-size="3.8" text-anchor="end" fill="#444" textLength="4.30" lengthAdjust="spacingAndGlyphs" stroke="#444" stroke-width="0.06">80</text>
<line x1="385.70" y1="227.95" x2="387.30" y2="227.95" stroke="#222" stroke-width="0.5"/>
<line x1="385.70" y1="230.04" x2="387.30" y2="230.04" stroke="#222" stroke-width="0.5"/>
<line x1="385.70" y1="232.14" x2="387.30" y2="232.14" stroke="#222" stroke-width="0.5"/>
<line x1="385.70" y1="234.23" x2="387.30" y2="234.23" stroke="#222" stroke-width="0.5"/>
<line x1="384.10" y1="236.32" x2="387.30" y2="236.32" stroke="#222" stroke-width="0.6"/>
<text x="381.70" y="237.62" font-size="3.8" text-anchor="end" fill="#444" textLength="4.30" lengthAdjust="spacingAndGlyphs" stroke="#444" stroke-width="0.06">60</text>
<line x1="385.70" y1="238.41" x2="387.30" y2="238.41" stroke="#222" stroke-width="0.5"/>
<line x1="385.70" y1="240.50" x2="387.30" y2="240.50" stroke="#222" stroke-width="0.5"/>
<line x1="385.70" y1="242.60" x2="387.30" y2="242.60" stroke="#222" stroke-width="0.5"/>
<line x1="385.70" y1="244.69" x2="387.30" y2="244.69" stroke="#222" stroke-width="0.5"/>
<line x1="384.10" y1="246.78" x2="387.30" y2="246.78" stroke="#222" stroke-width="0.6"/>
<text x="381.70" y="248.08" font-size="3.8" text-anchor="end" fill="#444" textLength="4.30" lengthAdjust="spacingAndGlyphs" stroke="#444" stroke-width="0.06">40</text>
<line x1="385.70" y1="248.87" x2="387.30" y2="248.87" stroke="#222" stroke-width="0.5"/>
<line x1="385.70" y1="250.96" x2="387.30" y2="250.96" stroke="#222" stroke-width="0.5"/>
<line x1="385.70" y1="253.06" x2="387.30" y2="253.06" stroke="#222" stroke-width="0.5"/>
<line x1="385.70" y1="255.15" x2="387.30" y2="255.15" stroke="#222" stroke-width="0.5"/>
<line x1="384.10" y1="257.24" x2="387.30" y2="257.24" stroke="#222" stroke-width="0.6"/>
<text x="381.70" y="258.54" font-size="3.8" text-anchor="end" fill="#444" textLength="4.30" lengthAdjust="spacingAndGlyphs" stroke="#444" stroke-width="0.06">20</text>
<line x1="385.70" y1="259.33" x2="387.30" y2="259.33" stroke="#222" stroke-width="0.5"/>
<line x1="385.70" y1="261.42" x2="387.30" y2="261.42" stroke="#222" stroke-width="0.5"/>
<line x1="385.70" y1="263.52" x2="387.30" y2="263.52" stroke="#222" stroke-width="0.5"/>
<line x1="385.70" y1="265.61" x2="387.30" y2="265.61" stroke="#222" stroke-width="0.5"/>
<line x1="384.10" y1="267.70" x2="387.30" y2="267.70" stroke="#222" stroke-width="0.6"/>
<text x="381.70" y="269.00" font-size="3.8" text-anchor="end" fill="#444" textLength="2.15" lengthAdjust="spacingAndGlyphs" stroke="#444" stroke-width="0.06">0</text>
<text x="395.60" y="276.60" font-size="3.8" text-anchor="middle" fill="#444" textLength="1.94" lengthAdjust="spacingAndGlyphs" stroke="#444" stroke-width="0.06">0</text>
<text x="412.70" y="276.60" font-size="3.8" text-anchor="middle" fill="#444" textLength="3.89" lengthAdjust="spacingAndGlyphs" stroke="#444" stroke-width="0.06">10</text>
<text x="424.30" y="276.60" font-size="3.8" text-anchor="middle" fill="#444" textLength="3.89" lengthAdjust="spacingAndGlyphs" stroke="#444" stroke-width="0.06">10</text>
<text x="436.60" y="276.60" font-size="3.8" text-anchor="middle" fill="#444" textLength="3.89" lengthAdjust="spacingAndGlyphs" stroke="#444" stroke-width="0.06">10</text>
<text x="414.80" y="274.80" font-size="2.6" fill="#444" textLength="1.33" lengthAdjust="spacingAndGlyphs" stroke="#444" stroke-width="0.05">3</text>
<text x="426.40" y="274.80" font-size="2.6" fill="#444" textLength="1.33" lengthAdjust="spacingAndGlyphs" stroke="#444" stroke-width="0.05">4</text>
<text x="438.70" y="274.80" font-size="2.6" fill="#444" textLength="1.33" lengthAdjust="spacingAndGlyphs" stroke="#444" stroke-width="0.05">5</text>
<line x1="390.30" y1="267.70" x2="390.30" y2="268.90" stroke="#111" stroke-width="0.4"/>
<line x1="391.30" y1="267.70" x2="391.30" y2="268.90" stroke="#111" stroke-width="0.4"/>
<line x1="392.30" y1="267.70" x2="392.30" y2="268.90" stroke="#111" stroke-width="0.4"/>
<line x1="393.30" y1="267.70" x2="393.30" y2="268.90" stroke="#111" stroke-width="0.4"/>
<line x1="394.30" y1="267.70" x2="394.30" y2="268.90" stroke="#111" stroke-width="0.4"/>
<line x1="395.60" y1="267.70" x2="395.60" y2="268.90" stroke="#111" stroke-width="0.4"/>
<line x1="396.80" y1="267.70" x2="396.80" y2="268.90" stroke="#111" stroke-width="0.4"/>
<line x1="398.30" y1="267.70" x2="398.30" y2="268.90" stroke="#111" stroke-width="0.4"/>
<line x1="400.30" y1="267.70" x2="400.30" y2="268.90" stroke="#111" stroke-width="0.4"/>
<line x1="404.30" y1="267.70" x2="404.30" y2="268.90" stroke="#111" stroke-width="0.4"/>
<line x1="408.30" y1="267.70" x2="408.30" y2="268.90" stroke="#111" stroke-width="0.4"/>
<line x1="412.70" y1="267.70" x2="412.70" y2="268.90" stroke="#111" stroke-width="0.4"/>
<line x1="417.30" y1="267.70" x2="417.30" y2="268.90" stroke="#111" stroke-width="0.4"/>
<line x1="420.30" y1="267.70" x2="420.30" y2="268.90" stroke="#111" stroke-width="0.4"/>
<line x1="422.30" y1="267.70" x2="422.30" y2="268.90" stroke="#111" stroke-width="0.4"/>
<line x1="424.30" y1="267.70" x2="424.30" y2="268.90" stroke="#111" stroke-width="0.4"/>
<line x1="429.30" y1="267.70" x2="429.30" y2="268.90" stroke="#111" stroke-width="0.4"/>
<line x1="432.30" y1="267.70" x2="432.30" y2="268.90" stroke="#111" stroke-width="0.4"/>
<line x1="434.30" y1="267.70" x2="434.30" y2="268.90" stroke="#111" stroke-width="0.4"/>
<line x1="436.60" y1="267.70" x2="436.60" y2="268.90" stroke="#111" stroke-width="0.4"/>
<line x1="392.30" y1="267.70" x2="392.30" y2="269.30" stroke="#111" stroke-width="0.7"/>
<line x1="393.30" y1="267.70" x2="393.30" y2="269.30" stroke="#111" stroke-width="0.7"/>
<line x1="394.30" y1="267.70" x2="394.30" y2="269.30" stroke="#111" stroke-width="0.7"/>
<line x1="395.30" y1="267.70" x2="395.30" y2="269.30" stroke="#111" stroke-width="0.7"/>
<line x1="396.30" y1="267.70" x2="396.30" y2="269.30" stroke="#111" stroke-width="0.7"/>
<line x1="397.30" y1="267.70" x2="397.30" y2="269.30" stroke="#111" stroke-width="0.7"/>
<line x1="455.10" y1="215.40" x2="458.30" y2="215.40" stroke="#222" stroke-width="0.6"/>
<text x="452.70" y="216.70" font-size="3.8" text-anchor="end" fill="#444" textLength="6.45" lengthAdjust="spacingAndGlyphs" stroke="#444" stroke-width="0.06">100</text>
<line x1="456.70" y1="217.49" x2="458.30" y2="217.49" stroke="#222" stroke-width="0.5"/>
<line x1="456.70" y1="219.58" x2="458.30" y2="219.58" stroke="#222" stroke-width="0.5"/>
<line x1="456.70" y1="221.68" x2="458.30" y2="221.68" stroke="#222" stroke-width="0.5"/>
<line x1="456.70" y1="223.77" x2="458.30" y2="223.77" stroke="#222" stroke-width="0.5"/>
<line x1="455.10" y1="225.86" x2="458.30" y2="225.86" stroke="#222" stroke-width="0.6"/>
<text x="452.70" y="227.16" font-size="3.8" text-anchor="end" fill="#444" textLength="4.30" lengthAdjust="spacingAndGlyphs" stroke="#444" stroke-width="0.06">80</text>
<line x1="456.70" y1="227.95" x2="458.30" y2="227.95" stroke="#222" stroke-width="0.5"/>
<line x1="456.70" y1="230.04" x2="458.30" y2="230.04" stroke="#222" stroke-width="0.5"/>
<line x1="456.70" y1="232.14" x2="458.30" y2="232.14" stroke="#222" stroke-width="0.5"/>
<line x1="456.70" y1="234.23" x2="458.30" y2="234.23" stroke="#222" stroke-width="0.5"/>
<line x1="455.10" y1="236.32" x2="458.30" y2="236.32" stroke="#222" stroke-width="0.6"/>
<text x="452.70" y="237.62" font-size="3.8" text-anchor="end" fill="#444" textLength="4.30" lengthAdjust="spacingAndGlyphs" stroke="#444" stroke-width="0.06">60</text>
<line x1="456.70" y1="238.41" x2="458.30" y2="238.41" stroke="#222" stroke-width="0.5"/>
<line x1="456.70" y1="240.50" x2="458.30" y2="240.50" stroke="#222" stroke-width="0.5"/>
<line x1="456.70" y1="242.60" x2="458.30" y2="242.60" stroke="#222" stroke-width="0.5"/>
<line x1="456.70" y1="244.69" x2="458.30" y2="244.69" stroke="#222" stroke-width="0.5"/>
<line x1="455.10" y1="246.78" x2="458.30" y2="246.78" stroke="#222" stroke-width="0.6"/>
<text x="452.70" y="248.08" font-size="3.8" text-anchor="end" fill="#444" textLength="4.30" lengthAdjust="spacingAndGlyphs" stroke="#444" stroke-width="0.06">40</text>
<line x1="456.70" y1="248.87" x2="458.30" y2="248.87" stroke="#222" stroke-width="0.5"/>
<line x1="456.70" y1="250.96" x2="458.30" y2="250.96" stroke="#222" stroke-width="0.5"/>
<line x1="456.70" y1="253.06" x2="458.30" y2="253.06" stroke="#222" stroke-width="0.5"/>
<line x1="456.70" y1="255.15" x2="458.30" y2="255.15" stroke="#222" stroke-width="0.5"/>
<line x1="455.10" y1="257.24" x2="458.30" y2="257.24" stroke="#222" stroke-width="0.6"/>
<text x="452.70" y="258.54" font-size="3.8" text-anchor="end" fill="#444" textLength="4.30" lengthAdjust="spacingAndGlyphs" stroke="#444" stroke-width="0.06">20</text>
<line x1="456.70" y1="259.33" x2="458.30" y2="259.33" stroke="#222" stroke-width="0.5"/>
<line x1="456.70" y1="261.42" x2="458.30" y2="261.42" stroke="#222" stroke-width="0.5"/>
<line x1="456.70" y1="263.52" x2="458.30" y2="263.52" stroke="#222" stroke-width="0.5"/>
<line x1="456.70" y1="265.61" x2="458.30" y2="265.61" stroke="#222" stroke-width="0.5"/>
<line x1="455.10" y1="267.70" x2="458.30" y2="267.70" stroke="#222" stroke-width="0.6"/>
<text x="452.70" y="269.00" font-size="3.8" text-anchor="end" fill="#444" textLength="2.15" lengthAdjust="spacingAndGlyphs" stroke="#444" stroke-width="0.06">0</text>
<text x="466.60" y="276.60" font-size="3.8" text-anchor="middle" fill="#444" textLength="1.94" lengthAdjust="spacingAndGlyphs" stroke="#444" stroke-width="0.06">0</text>
<text x="483.70" y="276.60" font-size="3.8" text-anchor="middle" fill="#444" textLength="3.89" lengthAdjust="spacingAndGlyphs" stroke="#444" stroke-width="0.06">10</text>
<text x="495.30" y="276.60" font-size="3.8" text-anchor="middle" fill="#444" textLength="3.89" lengthAdjust="spacingAndGlyphs" stroke="#444" stroke-width="0.06">10</text>
<text x="507.60" y="276.60" font-size="3.8" text-anchor="middle" fill="#444" textLength="3.89" lengthAdjust="spacingAndGlyphs" stroke="#444" stroke-width="0.06">10</text>
<text x="485.80" y="274.80" font-size="2.6" fill="#444" textLength="1.33" lengthAdjust="spacingAndGlyphs" stroke="#444" stroke-width="0.05">3</text>
<text x="497.40" y="274.80" font-size="2.6" fill="#444" textLength="1.33" lengthAdjust="spacingAndGlyphs" stroke="#444" stroke-width="0.05">4</text>
<text x="509.70" y="274.80" font-size="2.6" fill="#444" textLength="1.33" lengthAdjust="spacingAndGlyphs" stroke="#444" stroke-width="0.05">5</text>
<line x1="461.30" y1="267.70" x2="461.30" y2="268.90" stroke="#111" stroke-width="0.4"/>
<line x1="462.30" y1="267.70" x2="462.30" y2="268.90" stroke="#111" stroke-width="0.4"/>
<line x1="463.30" y1="267.70" x2="463.30" y2="268.90" stroke="#111" stroke-width="0.4"/>
<line x1="464.30" y1="267.70" x2="464.30" y2="268.90" stroke="#111" stroke-width="0.4"/>
<line x1="465.30" y1="267.70" x2="465.30" y2="268.90" stroke="#111" stroke-width="0.4"/>
<line x1="466.60" y1="267.70" x2="466.60" y2="268.90" stroke="#111" stroke-width="0.4"/>
<line x1="467.80" y1="267.70" x2="467.80" y2="268.90" stroke="#111" stroke-width="0.4"/>
<line x1="469.30" y1="267.70" x2="469.30" y2="268.90" stroke="#111" stroke-width="0.4"/>
<line x1="471.30" y1="267.70" x2="471.30" y2="268.90" stroke="#111" stroke-width="0.4"/>
<line x1="475.30" y1="267.70" x2="475.30" y2="268.90" stroke="#111" stroke-width="0.4"/>
<line x1="479.30" y1="267.70" x2="479.30" y2="268.90" stroke="#111" stroke-width="0.4"/>
<line x1="483.70" y1="267.70" x2="483.70" y2="268.90" stroke="#111" stroke-width="0.4"/>
<line x1="488.30" y1="267.70" x2="488.30" y2="268.90" stroke="#111" stroke-width="0.4"/>
<line x1="491.30" y1="267.70" x2="491.30" y2="268.90" stroke="#111" stroke-width="0.4"/>
<line x1="493.30" y1="267.70" x2="493.30" y2="268.90" stroke="#111" stroke-width="0.4"/>
<line x1="495.30" y1="267.70" x2="495.30" y2="268.90" stroke="#111" stroke-width="0.4"/>
<line x1="500.30" y1="267.70" x2="500.30" y2="268.90" stroke="#111" stroke-width="0.4"/>
<line x1="503.30" y1="267.70" x2="503.30" y2="268.90" stroke="#111" stroke-width="0.4"/>
<line x1="505.30" y1="267.70" x2="505.30" y2="268.90" stroke="#111" stroke-width="0.4"/>
<line x1="507.60" y1="267.70" x2="507.60" y2="268.90" stroke="#111" stroke-width="0.4"/>
<line x1="463.30" y1="267.70" x2="463.30" y2="269.30" stroke="#111" stroke-width="0.7"/>
<line x1="464.30" y1="267.70" x2="464.30" y2="269.30" stroke="#111" stroke-width="0.7"/>
<line x1="465.30" y1="267.70" x2="465.30" y2="269.30" stroke="#111" stroke-width="0.7"/>
<line x1="466.30" y1="267.70" x2="466.30" y2="269.30" stroke="#111" stroke-width="0.7"/>
<line x1="467.30" y1="267.70" x2="467.30" y2="269.30" stroke="#111" stroke-width="0.7"/>
<line x1="468.30" y1="267.70" x2="468.30" y2="269.30" stroke="#111" stroke-width="0.7"/>
<line x1="383.90" y1="283.70" x2="387.10" y2="283.70" stroke="#222" stroke-width="0.6"/>
<text x="381.50" y="285.00" font-size="3.8" text-anchor="end" fill="#444" textLength="6.45" lengthAdjust="spacingAndGlyphs" stroke="#444" stroke-width="0.06">100</text>
<line x1="385.50" y1="285.79" x2="387.10" y2="285.79" stroke="#222" stroke-width="0.5"/>
<line x1="385.50" y1="287.88" x2="387.10" y2="287.88" stroke="#222" stroke-width="0.5"/>
<line x1="385.50" y1="289.98" x2="387.10" y2="289.98" stroke="#222" stroke-width="0.5"/>
<line x1="385.50" y1="292.07" x2="387.10" y2="292.07" stroke="#222" stroke-width="0.5"/>
<line x1="383.90" y1="294.16" x2="387.10" y2="294.16" stroke="#222" stroke-width="0.6"/>
<text x="381.50" y="295.46" font-size="3.8" text-anchor="end" fill="#444" textLength="4.30" lengthAdjust="spacingAndGlyphs" stroke="#444" stroke-width="0.06">80</text>
<line x1="385.50" y1="296.25" x2="387.10" y2="296.25" stroke="#222" stroke-width="0.5"/>
<line x1="385.50" y1="298.34" x2="387.10" y2="298.34" stroke="#222" stroke-width="0.5"/>
<line x1="385.50" y1="300.44" x2="387.10" y2="300.44" stroke="#222" stroke-width="0.5"/>
<line x1="385.50" y1="302.53" x2="387.10" y2="302.53" stroke="#222" stroke-width="0.5"/>
<line x1="383.90" y1="304.62" x2="387.10" y2="304.62" stroke="#222" stroke-width="0.6"/>
<text x="381.50" y="305.92" font-size="3.8" text-anchor="end" fill="#444" textLength="4.30" lengthAdjust="spacingAndGlyphs" stroke="#444" stroke-width="0.06">60</text>
<line x1="385.50" y1="306.71" x2="387.10" y2="306.71" stroke="#222" stroke-width="0.5"/>
<line x1="385.50" y1="308.80" x2="387.10" y2="308.80" stroke="#222" stroke-width="0.5"/>
<line x1="385.50" y1="310.90" x2="387.10" y2="310.90" stroke="#222" stroke-width="0.5"/>
<line x1="385.50" y1="312.99" x2="387.10" y2="312.99" stroke="#222" stroke-width="0.5"/>
<line x1="383.90" y1="315.08" x2="387.10" y2="315.08" stroke="#222" stroke-width="0.6"/>
<text x="381.50" y="316.38" font-size="3.8" text-anchor="end" fill="#444" textLength="4.30" lengthAdjust="spacingAndGlyphs" stroke="#444" stroke-width="0.06">40</text>
<line x1="385.50" y1="317.17" x2="387.10" y2="317.17" stroke="#222" stroke-width="0.5"/>
<line x1="385.50" y1="319.26" x2="387.10" y2="319.26" stroke="#222" stroke-width="0.5"/>
<line x1="385.50" y1="321.36" x2="387.10" y2="321.36" stroke="#222" stroke-width="0.5"/>
<line x1="385.50" y1="323.45" x2="387.10" y2="323.45" stroke="#222" stroke-width="0.5"/>
<line x1="383.90" y1="325.54" x2="387.10" y2="325.54" stroke="#222" stroke-width="0.6"/>
<text x="381.50" y="326.84" font-size="3.8" text-anchor="end" fill="#444" textLength="4.30" lengthAdjust="spacingAndGlyphs" stroke="#444" stroke-width="0.06">20</text>
<line x1="385.50" y1="327.63" x2="387.10" y2="327.63" stroke="#222" stroke-width="0.5"/>
<line x1="385.50" y1="329.72" x2="387.10" y2="329.72" stroke="#222" stroke-width="0.5"/>
<line x1="385.50" y1="331.82" x2="387.10" y2="331.82" stroke="#222" stroke-width="0.5"/>
<line x1="385.50" y1="333.91" x2="387.10" y2="333.91" stroke="#222" stroke-width="0.5"/>
<line x1="383.90" y1="336.00" x2="387.10" y2="336.00" stroke="#222" stroke-width="0.6"/>
<text x="381.50" y="337.30" font-size="3.8" text-anchor="end" fill="#444" textLength="2.15" lengthAdjust="spacingAndGlyphs" stroke="#444" stroke-width="0.06">0</text>
<text x="395.40" y="344.90" font-size="3.8" text-anchor="middle" fill="#444" textLength="1.94" lengthAdjust="spacingAndGlyphs" stroke="#444" stroke-width="0.06">0</text>
<text x="412.50" y="344.90" font-size="3.8" text-anchor="middle" fill="#444" textLength="3.89" lengthAdjust="spacingAndGlyphs" stroke="#444" stroke-width="0.06">10</text>
<text x="424.10" y="344.90" font-size="3.8" text-anchor="middle" fill="#444" textLength="3.89" lengthAdjust="spacingAndGlyphs" stroke="#444" stroke-width="0.06">10</text>
<text x="436.40" y="344.90" font-size="3.8" text-anchor="middle" fill="#444" textLength="3.89" lengthAdjust="spacingAndGlyphs" stroke="#444" stroke-width="0.06">10</text>
<text x="414.60" y="343.10" font-size="2.6" fill="#444" textLength="1.33" lengthAdjust="spacingAndGlyphs" stroke="#444" stroke-width="0.05">3</text>
<text x="426.20" y="343.10" font-size="2.6" fill="#444" textLength="1.33" lengthAdjust="spacingAndGlyphs" stroke="#444" stroke-width="0.05">4</text>
<text x="438.50" y="343.10" font-size="2.6" fill="#444" textLength="1.33" lengthAdjust="spacingAndGlyphs" stroke="#444" stroke-width="0.05">5</text>
<line x1="390.10" y1="336.00" x2="390.10" y2="337.20" stroke="#111" stroke-width="0.4"/>
<line x1="391.10" y1="336.00" x2="391.10" y2="337.20" stroke="#111" stroke-width="0.4"/>
<line x1="392.10" y1="336.00" x2="392.10" y2="337.20" stroke="#111" stroke-width="0.4"/>
<line x1="393.10" y1="336.00" x2="393.10" y2="337.20" stroke="#111" stroke-width="0.4"/>
<line x1="394.10" y1="336.00" x2="394.10" y2="337.20" stroke="#111" stroke-width="0.4"/>
<line x1="395.40" y1="336.00" x2="395.40" y2="337.20" stroke="#111" stroke-width="0.4"/>
<line x1="396.60" y1="336.00" x2="396.60" y2="337.20" stroke="#111" stroke-width="0.4"/>
<line x1="398.10" y1="336.00" x2="398.10" y2="337.20" stroke="#111" stroke-width="0.4"/>
<line x1="400.10" y1="336.00" x2="400.10" y2="337.20" stroke="#111" stroke-width="0.4"/>
<line x1="404.10" y1="336.00" x2="404.10" y2="337.20" stroke="#111" stroke-width="0.4"/>
<line x1="408.10" y1="336.00" x2="408.10" y2="337.20" stroke="#111" stroke-width="0.4"/>
<line x1="412.50" y1="336.00" x2="412.50" y2="337.20" stroke="#111" stroke-width="0.4"/>
<line x1="417.10" y1="336.00" x2="417.10" y2="337.20" stroke="#111" stroke-width="0.4"/>
<line x1="420.10" y1="336.00" x2="420.10" y2="337.20" stroke="#111" stroke-width="0.4"/>
<line x1="422.10" y1="336.00" x2="422.10" y2="337.20" stroke="#111" stroke-width="0.4"/>
<line x1="424.10" y1="336.00" x2="424.10" y2="337.20" stroke="#111" stroke-width="0.4"/>
<line x1="429.10" y1="336.00" x2="429.10" y2="337.20" stroke="#111" stroke-width="0.4"/>
<line x1="432.10" y1="336.00" x2="432.10" y2="337.20" stroke="#111" stroke-width="0.4"/>
<line x1="434.10" y1="336.00" x2="434.10" y2="337.20" stroke="#111" stroke-width="0.4"/>
<line x1="436.40" y1="336.00" x2="436.40" y2="337.20" stroke="#111" stroke-width="0.4"/>
<line x1="392.10" y1="336.00" x2="392.10" y2="337.60" stroke="#111" stroke-width="0.7"/>
<line x1="393.10" y1="336.00" x2="393.10" y2="337.60" stroke="#111" stroke-width="0.7"/>
<line x1="394.10" y1="336.00" x2="394.10" y2="337.60" stroke="#111" stroke-width="0.7"/>
<line x1="395.10" y1="336.00" x2="395.10" y2="337.60" stroke="#111" stroke-width="0.7"/>
<line x1="396.10" y1="336.00" x2="396.10" y2="337.60" stroke="#111" stroke-width="0.7"/>
<line x1="397.10" y1="336.00" x2="397.10" y2="337.60" stroke="#111" stroke-width="0.7"/>
<line x1="455.10" y1="283.70" x2="458.30" y2="283.70" stroke="#222" stroke-width="0.6"/>
<text x="452.70" y="285.00" font-size="3.8" text-anchor="end" fill="#444" textLength="6.45" lengthAdjust="spacingAndGlyphs" stroke="#444" stroke-width="0.06">100</text>
<line x1="456.70" y1="285.79" x2="458.30" y2="285.79" stroke="#222" stroke-width="0.5"/>
<line x1="456.70" y1="287.88" x2="458.30" y2="287.88" stroke="#222" stroke-width="0.5"/>
<line x1="456.70" y1="289.98" x2="458.30" y2="289.98" stroke="#222" stroke-width="0.5"/>
<line x1="456.70" y1="292.07" x2="458.30" y2="292.07" stroke="#222" stroke-width="0.5"/>
<line x1="455.10" y1="294.16" x2="458.30" y2="294.16" stroke="#222" stroke-width="0.6"/>
<text x="452.70" y="295.46" font-size="3.8" text-anchor="end" fill="#444" textLength="4.30" lengthAdjust="spacingAndGlyphs" stroke="#444" stroke-width="0.06">80</text>
<line x1="456.70" y1="296.25" x2="458.30" y2="296.25" stroke="#222" stroke-width="0.5"/>
<line x1="456.70" y1="298.34" x2="458.30" y2="298.34" stroke="#222" stroke-width="0.5"/>
<line x1="456.70" y1="300.44" x2="458.30" y2="300.44" stroke="#222" stroke-width="0.5"/>
<line x1="456.70" y1="302.53" x2="458.30" y2="302.53" stroke="#222" stroke-width="0.5"/>
<line x1="455.10" y1="304.62" x2="458.30" y2="304.62" stroke="#222" stroke-width="0.6"/>
<text x="452.70" y="305.92" font-size="3.8" text-anchor="end" fill="#444" textLength="4.30" lengthAdjust="spacingAndGlyphs" stroke="#444" stroke-width="0.06">60</text>
<line x1="456.70" y1="306.71" x2="458.30" y2="306.71" stroke="#222" stroke-width="0.5"/>
<line x1="456.70" y1="308.80" x2="458.30" y2="308.80" stroke="#222" stroke-width="0.5"/>
<line x1="456.70" y1="310.90" x2="458.30" y2="310.90" stroke="#222" stroke-width="0.5"/>
<line x1="456.70" y1="312.99" x2="458.30" y2="312.99" stroke="#222" stroke-width="0.5"/>
<line x1="455.10" y1="315.08" x2="458.30" y2="315.08" stroke="#222" stroke-width="0.6"/>
<text x="452.70" y="316.38" font-size="3.8" text-anchor="end" fill="#444" textLength="4.30" lengthAdjust="spacingAndGlyphs" stroke="#444" stroke-width="0.06">40</text>
<line x1="456.70" y1="317.17" x2="458.30" y2="317.17" stroke="#222" stroke-width="0.5"/>
<line x1="456.70" y1="319.26" x2="458.30" y2="319.26" stroke="#222" stroke-width="0.5"/>
<line x1="456.70" y1="321.36" x2="458.30" y2="321.36" stroke="#222" stroke-width="0.5"/>
<line x1="456.70" y1="323.45" x2="458.30" y2="323.45" stroke="#222" stroke-width="0.5"/>
<line x1="455.10" y1="325.54" x2="458.30" y2="325.54" stroke="#222" stroke-width="0.6"/>
<text x="452.70" y="326.84" font-size="3.8" text-anchor="end" fill="#444" textLength="4.30" lengthAdjust="spacingAndGlyphs" stroke="#444" stroke-width="0.06">20</text>
<line x1="456.70" y1="327.63" x2="458.30" y2="327.63" stroke="#222" stroke-width="0.5"/>
<line x1="456.70" y1="329.72" x2="458.30" y2="329.72" stroke="#222" stroke-width="0.5"/>
<line x1="456.70" y1="331.82" x2="458.30" y2="331.82" stroke="#222" stroke-width="0.5"/>
<line x1="456.70" y1="333.91" x2="458.30" y2="333.91" stroke="#222" stroke-width="0.5"/>
<line x1="455.10" y1="336.00" x2="458.30" y2="336.00" stroke="#222" stroke-width="0.6"/>
<text x="452.70" y="337.30" font-size="3.8" text-anchor="end" fill="#444" textLength="2.15" lengthAdjust="spacingAndGlyphs" stroke="#444" stroke-width="0.06">0</text>
<text x="466.60" y="344.90" font-size="3.8" text-anchor="middle" fill="#444" textLength="1.94" lengthAdjust="spacingAndGlyphs" stroke="#444" stroke-width="0.06">0</text>
<text x="483.70" y="344.90" font-size="3.8" text-anchor="middle" fill="#444" textLength="3.89" lengthAdjust="spacingAndGlyphs" stroke="#444" stroke-width="0.06">10</text>
<text x="495.30" y="344.90" font-size="3.8" text-anchor="middle" fill="#444" textLength="3.89" lengthAdjust="spacingAndGlyphs" stroke="#444" stroke-width="0.06">10</text>
<text x="507.60" y="344.90" font-size="3.8" text-anchor="middle" fill="#444" textLength="3.89" lengthAdjust="spacingAndGlyphs" stroke="#444" stroke-width="0.06">10</text>
<text x="485.80" y="343.10" font-size="2.6" fill="#444" textLength="1.33" lengthAdjust="spacingAndGlyphs" stroke="#444" stroke-width="0.05">3</text>
<text x="497.40" y="343.10" font-size="2.6" fill="#444" textLength="1.33" lengthAdjust="spacingAndGlyphs" stroke="#444" stroke-width="0.05">4</text>
<text x="509.70" y="343.10" font-size="2.6" fill="#444" textLength="1.33" lengthAdjust="spacingAndGlyphs" stroke="#444" stroke-width="0.05">5</text>
<line x1="461.30" y1="336.00" x2="461.30" y2="337.20" stroke="#111" stroke-width="0.4"/>
<line x1="462.30" y1="336.00" x2="462.30" y2="337.20" stroke="#111" stroke-width="0.4"/>
<line x1="463.30" y1="336.00" x2="463.30" y2="337.20" stroke="#111" stroke-width="0.4"/>
<line x1="464.30" y1="336.00" x2="464.30" y2="337.20" stroke="#111" stroke-width="0.4"/>
<line x1="465.30" y1="336.00" x2="465.30" y2="337.20" stroke="#111" stroke-width="0.4"/>
<line x1="466.60" y1="336.00" x2="466.60" y2="337.20" stroke="#111" stroke-width="0.4"/>
<line x1="467.80" y1="336.00" x2="467.80" y2="337.20" stroke="#111" stroke-width="0.4"/>
<line x1="469.30" y1="336.00" x2="469.30" y2="337.20" stroke="#111" stroke-width="0.4"/>
<line x1="471.30" y1="336.00" x2="471.30" y2="337.20" stroke="#111" stroke-width="0.4"/>
<line x1="475.30" y1="336.00" x2="475.30" y2="337.20" stroke="#111" stroke-width="0.4"/>
<line x1="479.30" y1="336.00" x2="479.30" y2="337.20" stroke="#111" stroke-width="0.4"/>
<line x1="483.70" y1="336.00" x2="483.70" y2="337.20" stroke="#111" stroke-width="0.4"/>
<line x1="488.30" y1="336.00" x2="488.30" y2="337.20" stroke="#111" stroke-width="0.4"/>
<line x1="491.30" y1="336.00" x2="491.30" y2="337.20" stroke="#111" stroke-width="0.4"/>
<line x1="493.30" y1="336.00" x2="493.30" y2="337.20" stroke="#111" stroke-width="0.4"/>
<line x1="495.30" y1="336.00" x2="495.30" y2="337.20" stroke="#111" stroke-width="0.4"/>
<line x1="500.30" y1="336.00" x2="500.30" y2="337.20" stroke="#111" stroke-width="0.4"/>
<line x1="503.30" y1="336.00" x2="503.30" y2="337.20" stroke="#111" stroke-width="0.4"/>
<line x1="505.30" y1="336.00" x2="505.30" y2="337.20" stroke="#111" stroke-width="0.4"/>
<line x1="507.60" y1="336.00" x2="507.60" y2="337.20" stroke="#111" stroke-width="0.4"/>
<line x1="463.30" y1="336.00" x2="463.30" y2="337.60" stroke="#111" stroke-width="0.7"/>
<line x1="464.30" y1="336.00" x2="464.30" y2="337.60" stroke="#111" stroke-width="0.7"/>
<line x1="465.30" y1="336.00" x2="465.30" y2="337.60" stroke="#111" stroke-width="0.7"/>
<line x1="466.30" y1="336.00" x2="466.30" y2="337.60" stroke="#111" stroke-width="0.7"/>
<line x1="467.30" y1="336.00" x2="467.30" y2="337.60" stroke="#111" stroke-width="0.7"/>
<line x1="468.30" y1="336.00" x2="468.30" y2="337.60" stroke="#111" stroke-width="0.7"/>
<path d="M387.50,267.70 C388.72,267.44 393.38,266.74 394.80,266.13 C396.22,265.52 395.62,264.82 396.00,264.04 C396.38,263.25 396.63,261.42 397.10,261.42 C397.57,261.42 398.33,263.52 398.80,264.04 C399.27,264.56 399.50,264.46 399.90,264.56 C400.30,264.67 400.60,264.46 401.20,264.67 C401.80,264.88 402.35,265.66 403.50,265.82 C404.65,265.97 406.57,265.64 408.10,265.61 C409.63,265.57 411.65,266.04 412.70,265.61 C413.75,265.17 413.82,264.74 414.40,262.99 C414.98,261.25 415.62,258.98 416.20,255.15 C416.78,251.31 417.33,245.04 417.90,239.98 C418.47,234.93 419.17,228.21 419.60,224.81 C420.03,221.41 420.15,220.37 420.50,219.58 C420.85,218.80 421.32,218.01 421.70,220.11 C422.08,222.20 422.38,227.34 422.80,232.14 C423.22,236.93 423.67,243.99 424.20,248.87 C424.73,253.75 425.42,258.46 426.00,261.42 C426.58,264.39 427.23,265.63 427.70,266.65 C428.17,267.67 426.45,267.37 428.80,267.54 C431.15,267.72 439.63,267.67 441.80,267.70" fill="none" stroke="#3d5a98" stroke-width="0.95"/>
<path d="M387.80,267.70 C388.63,267.67 391.88,268.59 392.80,267.54 C393.72,266.50 393.07,265.93 393.30,261.42 C393.53,256.92 393.82,247.45 394.20,240.50 C394.58,233.56 395.22,220.79 395.60,219.74 C395.98,218.69 396.25,228.33 396.50,234.23 C396.75,240.13 396.80,250.15 397.10,255.15 C397.40,260.14 397.43,262.23 398.30,264.20 C399.17,266.16 399.13,266.40 402.30,266.92 C405.47,267.43 413.13,267.17 417.30,267.28 C421.47,267.39 423.22,267.53 427.30,267.60 C431.38,267.67 439.38,267.68 441.80,267.70" fill="none" stroke="#b8102a" stroke-width="1.25" stroke-dasharray="1.2,0.6"/>
<line x1="404.00" y1="247.41" x2="436.90" y2="247.41" stroke="#222" stroke-width="0.9"/>
<line x1="404.00" y1="246.11" x2="404.00" y2="248.71" stroke="#222" stroke-width="0.9"/>
<line x1="436.90" y1="246.11" x2="436.90" y2="248.71" stroke="#222" stroke-width="0.9"/>
<text x="420.45" y="245.01" font-size="3.8" text-anchor="middle" fill="#333" textLength="19.80" lengthAdjust="spacingAndGlyphs" stroke="#333" stroke-width="0.1">88.1%±1.3%</text>
<path d="M458.50,267.44 C460.13,267.39 464.48,267.31 468.30,267.18 C472.12,267.05 478.73,266.99 481.40,266.65 C484.07,266.32 483.50,266.32 484.30,265.19 C485.10,264.06 485.63,263.08 486.20,259.86 C486.77,256.63 487.20,251.07 487.70,245.84 C488.20,240.61 488.75,232.20 489.20,228.47 C489.65,224.75 490.07,224.12 490.40,223.51 C490.73,222.90 490.88,222.94 491.20,224.81 C491.52,226.69 491.92,230.65 492.30,234.75 C492.68,238.85 493.05,244.82 493.50,249.39 C493.95,253.97 494.42,259.29 495.00,262.21 C495.58,265.13 496.28,266.03 497.00,266.92 C497.72,267.80 496.67,267.41 499.30,267.54 C501.93,267.67 510.55,267.67 512.80,267.70" fill="none" stroke="#3d5a98" stroke-width="0.95"/>
<path d="M458.80,267.70 C459.30,267.67 461.07,270.25 461.80,267.54 C462.53,264.84 462.78,258.00 463.20,251.49 C463.62,244.98 463.92,234.02 464.30,228.47 C464.68,222.93 465.12,218.63 465.50,218.22 C465.88,217.82 466.27,221.48 466.60,226.07 C466.93,230.65 467.15,240.10 467.50,245.73 C467.85,251.36 468.22,256.66 468.70,259.86 C469.18,263.05 469.43,263.79 470.40,264.88 C471.37,265.97 472.10,266.01 474.50,266.39 C476.90,266.78 480.77,266.98 484.80,267.18 C488.83,267.38 494.03,267.51 498.70,267.60 C503.37,267.68 510.45,267.68 512.80,267.70" fill="none" stroke="#b8102a" stroke-width="1.25" stroke-dasharray="1.2,0.6"/>
<line x1="476.50" y1="242.81" x2="508.50" y2="242.81" stroke="#222" stroke-width="0.9"/>
<line x1="476.50" y1="241.51" x2="476.50" y2="244.11" stroke="#222" stroke-width="0.9"/>
<line x1="508.50" y1="241.51" x2="508.50" y2="244.11" stroke="#222" stroke-width="0.9"/>
<text x="492.50" y="240.41" font-size="3.8" text-anchor="middle" fill="#333" textLength="19.80" lengthAdjust="spacingAndGlyphs" stroke="#333" stroke-width="0.1">98.5%±0.9%</text>
<path d="M387.30,336.00 C388.07,335.91 390.92,336.78 391.90,335.48 C392.88,334.17 392.82,333.30 393.20,328.15 C393.58,323.01 393.87,311.16 394.20,304.62 C394.53,298.08 394.90,291.37 395.20,288.93 C395.50,286.49 395.78,288.06 396.00,289.98 C396.22,291.89 396.32,296.77 396.50,300.44 C396.68,304.10 396.80,309.24 397.10,311.94 C397.40,314.64 397.82,315.25 398.30,316.65 C398.78,318.04 399.33,319.26 400.00,320.31 C400.67,321.36 401.33,322.19 402.30,322.93 C403.27,323.66 404.65,324.21 405.80,324.70 C406.95,325.20 408.33,325.63 409.20,325.91 C410.07,326.19 410.32,326.58 411.00,326.38 C411.68,326.18 412.53,325.71 413.30,324.70 C414.07,323.69 414.83,322.23 415.60,320.31 C416.37,318.39 417.23,315.06 417.90,313.20 C418.57,311.33 419.08,309.68 419.60,309.12 C420.12,308.56 420.57,308.57 421.00,309.85 C421.43,311.13 421.75,313.76 422.20,316.81 C422.65,319.86 423.20,325.30 423.70,328.15 C424.20,331.01 424.63,332.64 425.20,333.91 C425.77,335.17 424.38,335.39 427.10,335.74 C429.82,336.09 439.10,335.96 441.50,336.00" fill="none" stroke="#3d5a98" stroke-width="0.95"/>
<path d="M387.60,336.00 C388.32,335.83 390.98,340.18 391.90,334.95 C392.82,329.72 392.72,312.78 393.10,304.62 C393.48,296.46 393.82,287.27 394.20,286.00 C394.58,284.73 395.02,291.27 395.40,296.98 C395.78,302.70 396.12,315.11 396.50,320.31 C396.88,325.51 397.12,326.06 397.70,328.15 C398.28,330.25 398.85,331.82 400.00,332.86 C401.15,333.91 402.30,334.08 404.60,334.43 C406.90,334.78 410.33,334.71 413.80,334.95 C417.27,335.20 420.77,335.72 425.40,335.90 C430.03,336.07 438.90,335.98 441.60,336.00" fill="none" stroke="#b8102a" stroke-width="1.25" stroke-dasharray="1.2,0.6"/>
<line x1="405.50" y1="310.58" x2="436.70" y2="310.58" stroke="#222" stroke-width="0.9"/>
<line x1="405.50" y1="309.28" x2="405.50" y2="311.88" stroke="#222" stroke-width="0.9"/>
<line x1="436.70" y1="309.28" x2="436.70" y2="311.88" stroke="#222" stroke-width="0.9"/>
<text x="421.10" y="308.18" font-size="3.8" text-anchor="middle" fill="#333" textLength="19.80" lengthAdjust="spacingAndGlyphs" stroke="#333" stroke-width="0.1">53.6%±7.4%</text>
<path d="M458.50,336.00 C459.23,335.95 461.93,336.99 462.90,335.69 C463.87,334.38 463.92,331.14 464.30,328.15 C464.68,325.17 464.88,320.00 465.20,317.80 C465.52,315.59 465.88,314.92 466.20,314.92 C466.52,314.92 466.78,315.59 467.10,317.80 C467.42,320.00 467.73,325.76 468.10,328.15 C468.47,330.55 468.62,331.31 469.30,332.18 C469.98,333.05 470.57,333.18 472.20,333.38 C473.83,333.59 477.28,333.68 479.10,333.38 C480.92,333.09 482.05,333.25 483.10,331.61 C484.15,329.96 484.72,327.35 485.40,323.50 C486.08,319.65 486.62,313.88 487.20,308.49 C487.78,303.10 488.37,294.93 488.90,291.18 C489.43,287.43 489.93,286.81 490.40,286.00 C490.87,285.19 491.28,285.45 491.70,286.31 C492.12,287.18 492.50,287.48 492.90,291.18 C493.30,294.87 493.72,302.72 494.10,308.49 C494.48,314.26 494.82,321.57 495.20,325.80 C495.58,330.04 495.92,332.26 496.40,333.91 C496.88,335.56 495.37,335.34 498.10,335.69 C500.83,336.03 510.35,335.95 512.80,336.00" fill="none" stroke="#3d5a98" stroke-width="0.95"/>
<path d="M458.80,336.00 C459.58,335.97 462.52,341.38 463.50,335.84 C464.48,330.31 464.32,310.96 464.70,302.79 C465.08,294.62 465.42,286.84 465.80,286.84 C466.18,286.84 466.67,297.25 467.00,302.79 C467.33,308.33 467.52,315.48 467.80,320.10 C468.08,324.72 468.17,328.21 468.70,330.51 C469.23,332.81 469.40,333.12 471.00,333.91 C472.60,334.69 473.75,334.88 478.30,335.22 C482.85,335.55 492.55,335.76 498.30,335.90 C504.05,336.03 510.38,335.98 512.80,336.00" fill="none" stroke="#b8102a" stroke-width="1.25" stroke-dasharray="1.2,0.6"/>
<line x1="476.50" y1="310.58" x2="507.90" y2="310.58" stroke="#222" stroke-width="0.9"/>
<line x1="476.50" y1="309.28" x2="476.50" y2="311.88" stroke="#222" stroke-width="0.9"/>
<line x1="507.90" y1="309.28" x2="507.90" y2="311.88" stroke="#222" stroke-width="0.9"/>
<text x="492.20" y="308.18" font-size="3.8" text-anchor="middle" fill="#333" textLength="19.80" lengthAdjust="spacingAndGlyphs" stroke="#333" stroke-width="0.1">76.4%±6.5%</text>
<rect x="387.5" y="213.5" width="54.0" height="54.0" fill="none" stroke="#111" stroke-width="0.9"/>
<rect x="458.5" y="213.5" width="54.0" height="54.0" fill="none" stroke="#111" stroke-width="0.9"/>
<rect x="387.5" y="281.5" width="54.0" height="55.0" fill="none" stroke="#111" stroke-width="0.9"/>
<rect x="458.5" y="281.5" width="54.0" height="55.0" fill="none" stroke="#111" stroke-width="0.9"/>
<defs><filter id="sb" x="-20%" y="-20%" width="140%" height="140%"><feGaussianBlur stdDeviation="0.35"/></filter></defs>
<text x="7.92" y="396.70" font-size="11.2" textLength="2.89" lengthAdjust="spacingAndGlyphs" stroke="#111" stroke-width="0.1">I</text>
<text x="87.70" y="401.20" font-size="6.6" text-anchor="middle" textLength="17.50" lengthAdjust="spacingAndGlyphs" stroke="#111" stroke-width="0.08">DMSO</text>
<text x="153.40" y="399.80" font-size="6.6" text-anchor="middle" textLength="14.20" lengthAdjust="spacingAndGlyphs" stroke="#111" stroke-width="0.08">R428</text>
<text x="7.30" y="430.60" font-size="6.4" textLength="26.60" lengthAdjust="spacingAndGlyphs" stroke="#111" stroke-width="0.08">Luciferase</text>
<text x="7.30" y="439.20" font-size="6.4" textLength="17.80" lengthAdjust="spacingAndGlyphs" stroke="#111" stroke-width="0.08">-CFU-E</text>
<text x="6.90" y="491.90" font-size="6.4" textLength="21.90" lengthAdjust="spacingAndGlyphs" stroke="#111" stroke-width="0.08">TET2 KD</text>
<text x="6.90" y="499.40" font-size="6.4" textLength="17.80" lengthAdjust="spacingAndGlyphs" stroke="#111" stroke-width="0.08">-CFU-E</text>
<text x="45.40" y="466.80" font-size="6.6" text-anchor="middle" transform="rotate(-90 45.40 466.80)" textLength="29.50" lengthAdjust="spacingAndGlyphs" stroke="#111" stroke-width="0.08">α4-integrin</text>
<text x="113.50" y="537.80" font-size="6.6" text-anchor="middle" textLength="17.56" lengthAdjust="spacingAndGlyphs" stroke="#111" stroke-width="0.08">Band3</text>
<line x1="49.50" y1="405.80" x2="49.50" y2="528.20" stroke="#111" stroke-width="1.2"/>
<line x1="49.00" y1="527.50" x2="178.50" y2="527.50" stroke="#111" stroke-width="1.2"/>
<text x="55.00" y="410.80" font-size="4.3" text-anchor="end" fill="#444" textLength="4.00" lengthAdjust="spacingAndGlyphs" stroke="#444" stroke-width="0.06">10</text>
<text x="55.20" y="408.70" font-size="2.9" fill="#444" textLength="1.48" lengthAdjust="spacingAndGlyphs" stroke="#444" stroke-width="0.05">5</text>
<line x1="60.10" y1="409.30" x2="62.30" y2="409.30" stroke="#111" stroke-width="0.7"/>
<line x1="61.10" y1="408.10" x2="62.30" y2="408.10" stroke="#222" stroke-width="0.5"/>
<line x1="61.10" y1="407.20" x2="62.30" y2="407.20" stroke="#222" stroke-width="0.5"/>
<line x1="61.10" y1="406.50" x2="62.30" y2="406.50" stroke="#222" stroke-width="0.5"/>
<line x1="61.10" y1="410.50" x2="62.30" y2="410.50" stroke="#222" stroke-width="0.5"/>
<line x1="61.10" y1="411.40" x2="62.30" y2="411.40" stroke="#222" stroke-width="0.5"/>
<text x="55.00" y="421.00" font-size="4.3" text-anchor="end" fill="#444" textLength="4.00" lengthAdjust="spacingAndGlyphs" stroke="#444" stroke-width="0.06">10</text>
<text x="55.20" y="418.90" font-size="2.9" fill="#444" textLength="1.48" lengthAdjust="spacingAndGlyphs" stroke="#444" stroke-width="0.05">4</text>
<line x1="60.10" y1="419.50" x2="62.30" y2="419.50" stroke="#111" stroke-width="0.7"/>
<line x1="61.10" y1="418.30" x2="62.30" y2="418.30" stroke="#222" stroke-width="0.5"/>
<line x1="61.10" y1="417.40" x2="62.30" y2="417.40" stroke="#222" stroke-width="0.5"/>
<line x1="61.10" y1="416.70" x2="62.30" y2="416.70" stroke="#222" stroke-width="0.5"/>
<line x1="61.10" y1="420.70" x2="62.30" y2="420.70" stroke="#222" stroke-width="0.5"/>
<line x1="61.10" y1="421.60" x2="62.30" y2="421.60" stroke="#222" stroke-width="0.5"/>
<text x="55.00" y="431.80" font-size="4.3" text-anchor="end" fill="#444" textLength="4.00" lengthAdjust="spacingAndGlyphs" stroke="#444" stroke-width="0.06">10</text>
<text x="55.20" y="429.70" font-size="2.9" fill="#444" textLength="1.48" lengthAdjust="spacingAndGlyphs" stroke="#444" stroke-width="0.05">3</text>
<line x1="60.10" y1="430.30" x2="62.30" y2="430.30" stroke="#111" stroke-width="0.7"/>
<line x1="61.10" y1="429.10" x2="62.30" y2="429.10" stroke="#222" stroke-width="0.5"/>
<line x1="61.10" y1="428.20" x2="62.30" y2="428.20" stroke="#222" stroke-width="0.5"/>
<line x1="61.10" y1="427.50" x2="62.30" y2="427.50" stroke="#222" stroke-width="0.5"/>
<line x1="61.10" y1="431.50" x2="62.30" y2="431.50" stroke="#222" stroke-width="0.5"/>
<line x1="61.10" y1="432.40" x2="62.30" y2="432.40" stroke="#222" stroke-width="0.5"/>
<text x="55.00" y="442.70" font-size="4.3" text-anchor="end" fill="#444" textLength="4.00" lengthAdjust="spacingAndGlyphs" stroke="#444" stroke-width="0.06">10</text>
<text x="55.20" y="440.60" font-size="2.9" fill="#444" textLength="1.48" lengthAdjust="spacingAndGlyphs" stroke="#444" stroke-width="0.05">2</text>
<line x1="60.10" y1="441.20" x2="62.30" y2="441.20" stroke="#111" stroke-width="0.7"/>
<line x1="61.10" y1="440.00" x2="62.30" y2="440.00" stroke="#222" stroke-width="0.5"/>
<line x1="61.10" y1="439.10" x2="62.30" y2="439.10" stroke="#222" stroke-width="0.5"/>
<line x1="61.10" y1="438.40" x2="62.30" y2="438.40" stroke="#222" stroke-width="0.5"/>
<line x1="61.10" y1="442.40" x2="62.30" y2="442.40" stroke="#222" stroke-width="0.5"/>
<line x1="61.10" y1="443.30" x2="62.30" y2="443.30" stroke="#222" stroke-width="0.5"/>
<text x="57.10" y="448.00" font-size="4.3" text-anchor="end" fill="#444" textLength="2.20" lengthAdjust="spacingAndGlyphs" stroke="#444" stroke-width="0.06">0</text>
<line x1="61.30" y1="407.30" x2="62.30" y2="407.30" stroke="#111" stroke-width="0.45"/>
<line x1="61.30" y1="410.60" x2="62.30" y2="410.60" stroke="#111" stroke-width="0.45"/>
<line x1="61.30" y1="413.90" x2="62.30" y2="413.90" stroke="#111" stroke-width="0.45"/>
<line x1="61.30" y1="417.20" x2="62.30" y2="417.20" stroke="#111" stroke-width="0.45"/>
<line x1="61.30" y1="420.50" x2="62.30" y2="420.50" stroke="#111" stroke-width="0.45"/>
<line x1="61.30" y1="423.80" x2="62.30" y2="423.80" stroke="#111" stroke-width="0.45"/>
<line x1="61.30" y1="427.10" x2="62.30" y2="427.10" stroke="#111" stroke-width="0.45"/>
<line x1="61.30" y1="430.40" x2="62.30" y2="430.40" stroke="#111" stroke-width="0.45"/>
<line x1="61.30" y1="433.70" x2="62.30" y2="433.70" stroke="#111" stroke-width="0.45"/>
<line x1="61.30" y1="437.00" x2="62.30" y2="437.00" stroke="#111" stroke-width="0.45"/>
<line x1="61.30" y1="440.30" x2="62.30" y2="440.30" stroke="#111" stroke-width="0.45"/>
<line x1="61.30" y1="443.60" x2="62.30" y2="443.60" stroke="#111" stroke-width="0.45"/>
<line x1="61.30" y1="446.90" x2="62.30" y2="446.90" stroke="#111" stroke-width="0.45"/>
<text x="70.80" y="459.20" font-size="4.3" text-anchor="middle" fill="#444" textLength="2.20" lengthAdjust="spacingAndGlyphs" stroke="#444" stroke-width="0.06">0</text>
<text x="87.70" y="459.20" font-size="4.3" text-anchor="middle" fill="#444" textLength="4.40" lengthAdjust="spacingAndGlyphs" stroke="#444" stroke-width="0.06">10</text>
<text x="99.30" y="459.20" font-size="4.3" text-anchor="middle" fill="#444" textLength="4.40" lengthAdjust="spacingAndGlyphs" stroke="#444" stroke-width="0.06">10</text>
<text x="109.30" y="459.20" font-size="4.3" text-anchor="middle" fill="#444" textLength="4.40" lengthAdjust="spacingAndGlyphs" stroke="#444" stroke-width="0.06">10</text>
<text x="89.90" y="457.10" font-size="2.9" fill="#444" textLength="1.48" lengthAdjust="spacingAndGlyphs" stroke="#444" stroke-width="0.05">3</text>
<text x="101.50" y="457.10" font-size="2.9" fill="#444" textLength="1.48" lengthAdjust="spacingAndGlyphs" stroke="#444" stroke-width="0.05">4</text>
<text x="111.50" y="457.10" font-size="2.9" fill="#444" textLength="1.48" lengthAdjust="spacingAndGlyphs" stroke="#444" stroke-width="0.05">5</text>
<line x1="63.80" y1="450.40" x2="63.80" y2="451.70" stroke="#222" stroke-width="0.55"/>
<line x1="67.20" y1="450.40" x2="67.20" y2="451.70" stroke="#222" stroke-width="0.55"/>
<line x1="70.60" y1="450.40" x2="70.60" y2="451.70" stroke="#222" stroke-width="0.55"/>
<line x1="74.00" y1="450.40" x2="74.00" y2="451.70" stroke="#222" stroke-width="0.55"/>
<line x1="77.40" y1="450.40" x2="77.40" y2="451.70" stroke="#222" stroke-width="0.55"/>
<line x1="80.80" y1="450.40" x2="80.80" y2="451.70" stroke="#222" stroke-width="0.55"/>
<line x1="84.20" y1="450.40" x2="84.20" y2="451.70" stroke="#222" stroke-width="0.55"/>
<line x1="87.60" y1="450.40" x2="87.60" y2="451.70" stroke="#222" stroke-width="0.55"/>
<line x1="91.00" y1="450.40" x2="91.00" y2="451.70" stroke="#222" stroke-width="0.55"/>
<line x1="94.40" y1="450.40" x2="94.40" y2="451.70" stroke="#222" stroke-width="0.55"/>
<line x1="97.80" y1="450.40" x2="97.80" y2="451.70" stroke="#222" stroke-width="0.55"/>
<line x1="101.20" y1="450.40" x2="101.20" y2="451.70" stroke="#222" stroke-width="0.55"/>
<line x1="104.60" y1="450.40" x2="104.60" y2="451.70" stroke="#222" stroke-width="0.55"/>
<line x1="108.00" y1="450.40" x2="108.00" y2="451.70" stroke="#222" stroke-width="0.55"/>
<line x1="111.40" y1="450.40" x2="111.40" y2="451.70" stroke="#222" stroke-width="0.55"/>
<line x1="67.30" y1="450.40" x2="67.30" y2="452.20" stroke="#111" stroke-width="0.8"/>
<line x1="68.30" y1="450.40" x2="68.30" y2="452.20" stroke="#111" stroke-width="0.8"/>
<line x1="69.30" y1="450.40" x2="69.30" y2="452.20" stroke="#111" stroke-width="0.8"/>
<line x1="70.30" y1="450.40" x2="70.30" y2="452.20" stroke="#111" stroke-width="0.8"/>
<line x1="71.30" y1="450.40" x2="71.30" y2="452.20" stroke="#111" stroke-width="0.8"/>
<line x1="72.30" y1="450.40" x2="72.30" y2="452.20" stroke="#111" stroke-width="0.8"/>
<line x1="73.30" y1="450.40" x2="73.30" y2="452.20" stroke="#111" stroke-width="0.8"/>
<line x1="84.80" y1="450.40" x2="84.80" y2="452.20" stroke="#222" stroke-width="0.55"/>
<line x1="85.90" y1="450.40" x2="85.90" y2="452.20" stroke="#222" stroke-width="0.55"/>
<line x1="86.80" y1="450.40" x2="86.80" y2="452.20" stroke="#222" stroke-width="0.55"/>
<line x1="96.80" y1="450.40" x2="96.80" y2="452.20" stroke="#222" stroke-width="0.55"/>
<line x1="97.90" y1="450.40" x2="97.90" y2="452.20" stroke="#222" stroke-width="0.55"/>
<line x1="98.70" y1="450.40" x2="98.70" y2="452.20" stroke="#222" stroke-width="0.55"/>
<line x1="106.80" y1="450.40" x2="106.80" y2="452.20" stroke="#222" stroke-width="0.55"/>
<line x1="107.90" y1="450.40" x2="107.90" y2="452.20" stroke="#222" stroke-width="0.55"/>
<text x="120.40" y="409.77" font-size="4.3" text-anchor="end" fill="#444" textLength="4.00" lengthAdjust="spacingAndGlyphs" stroke="#444" stroke-width="0.06">10</text>
<text x="120.60" y="407.67" font-size="2.9" fill="#444" textLength="1.48" lengthAdjust="spacingAndGlyphs" stroke="#444" stroke-width="0.05">5</text>
<line x1="125.50" y1="408.27" x2="127.70" y2="408.27" stroke="#111" stroke-width="0.7"/>
<line x1="126.50" y1="407.05" x2="127.70" y2="407.05" stroke="#222" stroke-width="0.5"/>
<line x1="126.50" y1="406.13" x2="127.70" y2="406.13" stroke="#222" stroke-width="0.5"/>
<line x1="126.50" y1="405.42" x2="127.70" y2="405.42" stroke="#222" stroke-width="0.5"/>
<line x1="126.50" y1="409.49" x2="127.70" y2="409.49" stroke="#222" stroke-width="0.5"/>
<line x1="126.50" y1="410.41" x2="127.70" y2="410.41" stroke="#222" stroke-width="0.5"/>
<text x="120.40" y="420.15" font-size="4.3" text-anchor="end" fill="#444" textLength="4.00" lengthAdjust="spacingAndGlyphs" stroke="#444" stroke-width="0.06">10</text>
<text x="120.60" y="418.05" font-size="2.9" fill="#444" textLength="1.48" lengthAdjust="spacingAndGlyphs" stroke="#444" stroke-width="0.05">4</text>
<line x1="125.50" y1="418.65" x2="127.70" y2="418.65" stroke="#111" stroke-width="0.7"/>
<line x1="126.50" y1="417.43" x2="127.70" y2="417.43" stroke="#222" stroke-width="0.5"/>
<line x1="126.50" y1="416.51" x2="127.70" y2="416.51" stroke="#222" stroke-width="0.5"/>
<line x1="126.50" y1="415.80" x2="127.70" y2="415.80" stroke="#222" stroke-width="0.5"/>
<line x1="126.50" y1="419.87" x2="127.70" y2="419.87" stroke="#222" stroke-width="0.5"/>
<line x1="126.50" y1="420.79" x2="127.70" y2="420.79" stroke="#222" stroke-width="0.5"/>
<text x="120.40" y="431.14" font-size="4.3" text-anchor="end" fill="#444" textLength="4.00" lengthAdjust="spacingAndGlyphs" stroke="#444" stroke-width="0.06">10</text>
<text x="120.60" y="429.04" font-size="2.9" fill="#444" textLength="1.48" lengthAdjust="spacingAndGlyphs" stroke="#444" stroke-width="0.05">3</text>
<line x1="125.50" y1="429.64" x2="127.70" y2="429.64" stroke="#111" stroke-width="0.7"/>
<line x1="126.50" y1="428.42" x2="127.70" y2="428.42" stroke="#222" stroke-width="0.5"/>
<line x1="126.50" y1="427.51" x2="127.70" y2="427.51" stroke="#222" stroke-width="0.5"/>
<line x1="126.50" y1="426.79" x2="127.70" y2="426.79" stroke="#222" stroke-width="0.5"/>
<line x1="126.50" y1="430.86" x2="127.70" y2="430.86" stroke="#222" stroke-width="0.5"/>
<line x1="126.50" y1="431.78" x2="127.70" y2="431.78" stroke="#222" stroke-width="0.5"/>
<text x="120.40" y="442.24" font-size="4.3" text-anchor="end" fill="#444" textLength="4.00" lengthAdjust="spacingAndGlyphs" stroke="#444" stroke-width="0.06">10</text>
<text x="120.60" y="440.14" font-size="2.9" fill="#444" textLength="1.48" lengthAdjust="spacingAndGlyphs" stroke="#444" stroke-width="0.05">2</text>
<line x1="125.50" y1="440.74" x2="127.70" y2="440.74" stroke="#111" stroke-width="0.7"/>
<line x1="126.50" y1="439.52" x2="127.70" y2="439.52" stroke="#222" stroke-width="0.5"/>
<line x1="126.50" y1="438.60" x2="127.70" y2="438.60" stroke="#222" stroke-width="0.5"/>
<line x1="126.50" y1="437.89" x2="127.70" y2="437.89" stroke="#222" stroke-width="0.5"/>
<line x1="126.50" y1="441.96" x2="127.70" y2="441.96" stroke="#222" stroke-width="0.5"/>
<line x1="126.50" y1="442.87" x2="127.70" y2="442.87" stroke="#222" stroke-width="0.5"/>
<text x="122.50" y="447.63" font-size="4.3" text-anchor="end" fill="#444" textLength="2.20" lengthAdjust="spacingAndGlyphs" stroke="#444" stroke-width="0.06">0</text>
<line x1="126.70" y1="406.20" x2="127.70" y2="406.20" stroke="#111" stroke-width="0.45"/>
<line x1="126.70" y1="409.56" x2="127.70" y2="409.56" stroke="#111" stroke-width="0.45"/>
<line x1="126.70" y1="412.92" x2="127.70" y2="412.92" stroke="#111" stroke-width="0.45"/>
<line x1="126.70" y1="416.28" x2="127.70" y2="416.28" stroke="#111" stroke-width="0.45"/>
<line x1="126.70" y1="419.63" x2="127.70" y2="419.63" stroke="#111" stroke-width="0.45"/>
<line x1="126.70" y1="422.99" x2="127.70" y2="422.99" stroke="#111" stroke-width="0.45"/>
<line x1="126.70" y1="426.35" x2="127.70" y2="426.35" stroke="#111" stroke-width="0.45"/>
<line x1="126.70" y1="429.71" x2="127.70" y2="429.71" stroke="#111" stroke-width="0.45"/>
<line x1="126.70" y1="433.07" x2="127.70" y2="433.07" stroke="#111" stroke-width="0.45"/>
<line x1="126.70" y1="436.43" x2="127.70" y2="436.43" stroke="#111" stroke-width="0.45"/>
<line x1="126.70" y1="439.79" x2="127.70" y2="439.79" stroke="#111" stroke-width="0.45"/>
<line x1="126.70" y1="443.14" x2="127.70" y2="443.14" stroke="#111" stroke-width="0.45"/>
<line x1="126.70" y1="446.50" x2="127.70" y2="446.50" stroke="#111" stroke-width="0.45"/>
<text x="136.20" y="458.90" font-size="4.3" text-anchor="middle" fill="#444" textLength="2.20" lengthAdjust="spacingAndGlyphs" stroke="#444" stroke-width="0.06">0</text>
<text x="153.10" y="458.90" font-size="4.3" text-anchor="middle" fill="#444" textLength="4.40" lengthAdjust="spacingAndGlyphs" stroke="#444" stroke-width="0.06">10</text>
<text x="164.70" y="458.90" font-size="4.3" text-anchor="middle" fill="#444" textLength="4.40" lengthAdjust="spacingAndGlyphs" stroke="#444" stroke-width="0.06">10</text>
<text x="174.70" y="458.90" font-size="4.3" text-anchor="middle" fill="#444" textLength="4.40" lengthAdjust="spacingAndGlyphs" stroke="#444" stroke-width="0.06">10</text>
<text x="155.30" y="456.80" font-size="2.9" fill="#444" textLength="1.48" lengthAdjust="spacingAndGlyphs" stroke="#444" stroke-width="0.05">3</text>
<text x="166.90" y="456.80" font-size="2.9" fill="#444" textLength="1.48" lengthAdjust="spacingAndGlyphs" stroke="#444" stroke-width="0.05">4</text>
<text x="176.90" y="456.80" font-size="2.9" fill="#444" textLength="1.48" lengthAdjust="spacingAndGlyphs" stroke="#444" stroke-width="0.05">5</text>
<line x1="129.20" y1="450.10" x2="129.20" y2="451.40" stroke="#222" stroke-width="0.55"/>
<line x1="132.60" y1="450.10" x2="132.60" y2="451.40" stroke="#222" stroke-width="0.55"/>
<line x1="136.00" y1="450.10" x2="136.00" y2="451.40" stroke="#222" stroke-width="0.55"/>
<line x1="139.40" y1="450.10" x2="139.40" y2="451.40" stroke="#222" stroke-width="0.55"/>
<line x1="142.80" y1="450.10" x2="142.80" y2="451.40" stroke="#222" stroke-width="0.55"/>
<line x1="146.20" y1="450.10" x2="146.20" y2="451.40" stroke="#222" stroke-width="0.55"/>
<line x1="149.60" y1="450.10" x2="149.60" y2="451.40" stroke="#222" stroke-width="0.55"/>
<line x1="153.00" y1="450.10" x2="153.00" y2="451.40" stroke="#222" stroke-width="0.55"/>
<line x1="156.40" y1="450.10" x2="156.40" y2="451.40" stroke="#222" stroke-width="0.55"/>
<line x1="159.80" y1="450.10" x2="159.80" y2="451.40" stroke="#222" stroke-width="0.55"/>
<line x1="163.20" y1="450.10" x2="163.20" y2="451.40" stroke="#222" stroke-width="0.55"/>
<line x1="166.60" y1="450.10" x2="166.60" y2="451.40" stroke="#222" stroke-width="0.55"/>
<line x1="170.00" y1="450.10" x2="170.00" y2="451.40" stroke="#222" stroke-width="0.55"/>
<line x1="173.40" y1="450.10" x2="173.40" y2="451.40" stroke="#222" stroke-width="0.55"/>
<line x1="176.80" y1="450.10" x2="176.80" y2="451.40" stroke="#222" stroke-width="0.55"/>
<line x1="132.70" y1="450.10" x2="132.70" y2="451.90" stroke="#111" stroke-width="0.8"/>
<line x1="133.70" y1="450.10" x2="133.70" y2="451.90" stroke="#111" stroke-width="0.8"/>
<line x1="134.70" y1="450.10" x2="134.70" y2="451.90" stroke="#111" stroke-width="0.8"/>
<line x1="135.70" y1="450.10" x2="135.70" y2="451.90" stroke="#111" stroke-width="0.8"/>
<line x1="136.70" y1="450.10" x2="136.70" y2="451.90" stroke="#111" stroke-width="0.8"/>
<line x1="137.70" y1="450.10" x2="137.70" y2="451.90" stroke="#111" stroke-width="0.8"/>
<line x1="138.70" y1="450.10" x2="138.70" y2="451.90" stroke="#111" stroke-width="0.8"/>
<line x1="150.20" y1="450.10" x2="150.20" y2="451.90" stroke="#222" stroke-width="0.55"/>
<line x1="151.30" y1="450.10" x2="151.30" y2="451.90" stroke="#222" stroke-width="0.55"/>
<line x1="152.20" y1="450.10" x2="152.20" y2="451.90" stroke="#222" stroke-width="0.55"/>
<line x1="162.20" y1="450.10" x2="162.20" y2="451.90" stroke="#222" stroke-width="0.55"/>
<line x1="163.30" y1="450.10" x2="163.30" y2="451.90" stroke="#222" stroke-width="0.55"/>
<line x1="164.10" y1="450.10" x2="164.10" y2="451.90" stroke="#222" stroke-width="0.55"/>
<line x1="172.20" y1="450.10" x2="172.20" y2="451.90" stroke="#222" stroke-width="0.55"/>
<line x1="173.30" y1="450.10" x2="173.30" y2="451.90" stroke="#222" stroke-width="0.55"/>
<text x="54.80" y="470.62" font-size="4.3" text-anchor="end" fill="#444" textLength="4.00" lengthAdjust="spacingAndGlyphs" stroke="#444" stroke-width="0.06">10</text>
<text x="55.00" y="468.52" font-size="2.9" fill="#444" textLength="1.48" lengthAdjust="spacingAndGlyphs" stroke="#444" stroke-width="0.05">5</text>
<line x1="59.90" y1="469.12" x2="62.10" y2="469.12" stroke="#111" stroke-width="0.7"/>
<line x1="60.90" y1="467.77" x2="62.10" y2="467.77" stroke="#222" stroke-width="0.5"/>
<line x1="60.90" y1="466.75" x2="62.10" y2="466.75" stroke="#222" stroke-width="0.5"/>
<line x1="60.90" y1="465.96" x2="62.10" y2="465.96" stroke="#222" stroke-width="0.5"/>
<line x1="60.90" y1="470.48" x2="62.10" y2="470.48" stroke="#222" stroke-width="0.5"/>
<line x1="60.90" y1="471.50" x2="62.10" y2="471.50" stroke="#222" stroke-width="0.5"/>
<text x="54.80" y="482.16" font-size="4.3" text-anchor="end" fill="#444" textLength="4.00" lengthAdjust="spacingAndGlyphs" stroke="#444" stroke-width="0.06">10</text>
<text x="55.00" y="480.06" font-size="2.9" fill="#444" textLength="1.48" lengthAdjust="spacingAndGlyphs" stroke="#444" stroke-width="0.05">4</text>
<line x1="59.90" y1="480.66" x2="62.10" y2="480.66" stroke="#111" stroke-width="0.7"/>
<line x1="60.90" y1="479.30" x2="62.10" y2="479.30" stroke="#222" stroke-width="0.5"/>
<line x1="60.90" y1="478.28" x2="62.10" y2="478.28" stroke="#222" stroke-width="0.5"/>
<line x1="60.90" y1="477.49" x2="62.10" y2="477.49" stroke="#222" stroke-width="0.5"/>
<line x1="60.90" y1="482.01" x2="62.10" y2="482.01" stroke="#222" stroke-width="0.5"/>
<line x1="60.90" y1="483.03" x2="62.10" y2="483.03" stroke="#222" stroke-width="0.5"/>
<text x="54.80" y="494.37" font-size="4.3" text-anchor="end" fill="#444" textLength="4.00" lengthAdjust="spacingAndGlyphs" stroke="#444" stroke-width="0.06">10</text>
<text x="55.00" y="492.27" font-size="2.9" fill="#444" textLength="1.48" lengthAdjust="spacingAndGlyphs" stroke="#444" stroke-width="0.05">3</text>
<line x1="59.90" y1="492.87" x2="62.10" y2="492.87" stroke="#111" stroke-width="0.7"/>
<line x1="60.90" y1="491.51" x2="62.10" y2="491.51" stroke="#222" stroke-width="0.5"/>
<line x1="60.90" y1="490.50" x2="62.10" y2="490.50" stroke="#222" stroke-width="0.5"/>
<line x1="60.90" y1="489.70" x2="62.10" y2="489.70" stroke="#222" stroke-width="0.5"/>
<line x1="60.90" y1="494.23" x2="62.10" y2="494.23" stroke="#222" stroke-width="0.5"/>
<line x1="60.90" y1="495.25" x2="62.10" y2="495.25" stroke="#222" stroke-width="0.5"/>
<text x="54.80" y="506.70" font-size="4.3" text-anchor="end" fill="#444" textLength="4.00" lengthAdjust="spacingAndGlyphs" stroke="#444" stroke-width="0.06">10</text>
<text x="55.00" y="504.60" font-size="2.9" fill="#444" textLength="1.48" lengthAdjust="spacingAndGlyphs" stroke="#444" stroke-width="0.05">2</text>
<line x1="59.90" y1="505.20" x2="62.10" y2="505.20" stroke="#111" stroke-width="0.7"/>
<line x1="60.90" y1="503.84" x2="62.10" y2="503.84" stroke="#222" stroke-width="0.5"/>
<line x1="60.90" y1="502.82" x2="62.10" y2="502.82" stroke="#222" stroke-width="0.5"/>
<line x1="60.90" y1="502.03" x2="62.10" y2="502.03" stroke="#222" stroke-width="0.5"/>
<line x1="60.90" y1="506.55" x2="62.10" y2="506.55" stroke="#222" stroke-width="0.5"/>
<line x1="60.90" y1="507.57" x2="62.10" y2="507.57" stroke="#222" stroke-width="0.5"/>
<text x="56.90" y="512.69" font-size="4.3" text-anchor="end" fill="#444" textLength="2.20" lengthAdjust="spacingAndGlyphs" stroke="#444" stroke-width="0.06">0</text>
<line x1="61.10" y1="466.60" x2="62.10" y2="466.60" stroke="#111" stroke-width="0.45"/>
<line x1="61.10" y1="470.33" x2="62.10" y2="470.33" stroke="#111" stroke-width="0.45"/>
<line x1="61.10" y1="474.06" x2="62.10" y2="474.06" stroke="#111" stroke-width="0.45"/>
<line x1="61.10" y1="477.80" x2="62.10" y2="477.80" stroke="#111" stroke-width="0.45"/>
<line x1="61.10" y1="481.53" x2="62.10" y2="481.53" stroke="#111" stroke-width="0.45"/>
<line x1="61.10" y1="485.26" x2="62.10" y2="485.26" stroke="#111" stroke-width="0.45"/>
<line x1="61.10" y1="488.99" x2="62.10" y2="488.99" stroke="#111" stroke-width="0.45"/>
<line x1="61.10" y1="492.72" x2="62.10" y2="492.72" stroke="#111" stroke-width="0.45"/>
<line x1="61.10" y1="496.45" x2="62.10" y2="496.45" stroke="#111" stroke-width="0.45"/>
<line x1="61.10" y1="500.19" x2="62.10" y2="500.19" stroke="#111" stroke-width="0.45"/>
<line x1="61.10" y1="503.92" x2="62.10" y2="503.92" stroke="#111" stroke-width="0.45"/>
<line x1="61.10" y1="507.65" x2="62.10" y2="507.65" stroke="#111" stroke-width="0.45"/>
<line x1="61.10" y1="511.38" x2="62.10" y2="511.38" stroke="#111" stroke-width="0.45"/>
<text x="70.60" y="524.40" font-size="4.3" text-anchor="middle" fill="#444" textLength="2.20" lengthAdjust="spacingAndGlyphs" stroke="#444" stroke-width="0.06">0</text>
<text x="87.50" y="524.40" font-size="4.3" text-anchor="middle" fill="#444" textLength="4.40" lengthAdjust="spacingAndGlyphs" stroke="#444" stroke-width="0.06">10</text>
<text x="99.10" y="524.40" font-size="4.3" text-anchor="middle" fill="#444" textLength="4.40" lengthAdjust="spacingAndGlyphs" stroke="#444" stroke-width="0.06">10</text>
<text x="109.10" y="524.40" font-size="4.3" text-anchor="middle" fill="#444" textLength="4.40" lengthAdjust="spacingAndGlyphs" stroke="#444" stroke-width="0.06">10</text>
<text x="89.70" y="522.30" font-size="2.9" fill="#444" textLength="1.48" lengthAdjust="spacingAndGlyphs" stroke="#444" stroke-width="0.05">3</text>
<text x="101.30" y="522.30" font-size="2.9" fill="#444" textLength="1.48" lengthAdjust="spacingAndGlyphs" stroke="#444" stroke-width="0.05">4</text>
<text x="111.30" y="522.30" font-size="2.9" fill="#444" textLength="1.48" lengthAdjust="spacingAndGlyphs" stroke="#444" stroke-width="0.05">5</text>
<line x1="63.60" y1="515.60" x2="63.60" y2="516.90" stroke="#222" stroke-width="0.55"/>
<line x1="67.00" y1="515.60" x2="67.00" y2="516.90" stroke="#222" stroke-width="0.55"/>
<line x1="70.40" y1="515.60" x2="70.40" y2="516.90" stroke="#222" stroke-width="0.55"/>
<line x1="73.80" y1="515.60" x2="73.80" y2="516.90" stroke="#222" stroke-width="0.55"/>
<line x1="77.20" y1="515.60" x2="77.20" y2="516.90" stroke="#222" stroke-width="0.55"/>
<line x1="80.60" y1="515.60" x2="80.60" y2="516.90" stroke="#222" stroke-width="0.55"/>
<line x1="84.00" y1="515.60" x2="84.00" y2="516.90" stroke="#222" stroke-width="0.55"/>
<line x1="87.40" y1="515.60" x2="87.40" y2="516.90" stroke="#222" stroke-width="0.55"/>
<line x1="90.80" y1="515.60" x2="90.80" y2="516.90" stroke="#222" stroke-width="0.55"/>
<line x1="94.20" y1="515.60" x2="94.20" y2="516.90" stroke="#222" stroke-width="0.55"/>
<line x1="97.60" y1="515.60" x2="97.60" y2="516.90" stroke="#222" stroke-width="0.55"/>
<line x1="101.00" y1="515.60" x2="101.00" y2="516.90" stroke="#222" stroke-width="0.55"/>
<line x1="104.40" y1="515.60" x2="104.40" y2="516.90" stroke="#222" stroke-width="0.55"/>
<line x1="107.80" y1="515.60" x2="107.80" y2="516.90" stroke="#222" stroke-width="0.55"/>
<line x1="111.20" y1="515.60" x2="111.20" y2="516.90" stroke="#222" stroke-width="0.55"/>
<line x1="67.10" y1="515.60" x2="67.10" y2="517.40" stroke="#111" stroke-width="0.8"/>
<line x1="68.10" y1="515.60" x2="68.10" y2="517.40" stroke="#111" stroke-width="0.8"/>
<line x1="69.10" y1="515.60" x2="69.10" y2="517.40" stroke="#111" stroke-width="0.8"/>
<line x1="70.10" y1="515.60" x2="70.10" y2="517.40" stroke="#111" stroke-width="0.8"/>
<line x1="71.10" y1="515.60" x2="71.10" y2="517.40" stroke="#111" stroke-width="0.8"/>
<line x1="72.10" y1="515.60" x2="72.10" y2="517.40" stroke="#111" stroke-width="0.8"/>
<line x1="73.10" y1="515.60" x2="73.10" y2="517.40" stroke="#111" stroke-width="0.8"/>
<line x1="84.60" y1="515.60" x2="84.60" y2="517.40" stroke="#222" stroke-width="0.55"/>
<line x1="85.70" y1="515.60" x2="85.70" y2="517.40" stroke="#222" stroke-width="0.55"/>
<line x1="86.60" y1="515.60" x2="86.60" y2="517.40" stroke="#222" stroke-width="0.55"/>
<line x1="96.60" y1="515.60" x2="96.60" y2="517.40" stroke="#222" stroke-width="0.55"/>
<line x1="97.70" y1="515.60" x2="97.70" y2="517.40" stroke="#222" stroke-width="0.55"/>
<line x1="98.50" y1="515.60" x2="98.50" y2="517.40" stroke="#222" stroke-width="0.55"/>
<line x1="106.60" y1="515.60" x2="106.60" y2="517.40" stroke="#222" stroke-width="0.55"/>
<line x1="107.70" y1="515.60" x2="107.70" y2="517.40" stroke="#222" stroke-width="0.55"/>
<text x="120.40" y="470.30" font-size="4.3" text-anchor="end" fill="#444" textLength="4.00" lengthAdjust="spacingAndGlyphs" stroke="#444" stroke-width="0.06">10</text>
<text x="120.60" y="468.20" font-size="2.9" fill="#444" textLength="1.48" lengthAdjust="spacingAndGlyphs" stroke="#444" stroke-width="0.05">5</text>
<line x1="125.50" y1="468.80" x2="127.70" y2="468.80" stroke="#111" stroke-width="0.7"/>
<line x1="126.50" y1="467.45" x2="127.70" y2="467.45" stroke="#222" stroke-width="0.5"/>
<line x1="126.50" y1="466.44" x2="127.70" y2="466.44" stroke="#222" stroke-width="0.5"/>
<line x1="126.50" y1="465.65" x2="127.70" y2="465.65" stroke="#222" stroke-width="0.5"/>
<line x1="126.50" y1="470.15" x2="127.70" y2="470.15" stroke="#222" stroke-width="0.5"/>
<line x1="126.50" y1="471.16" x2="127.70" y2="471.16" stroke="#222" stroke-width="0.5"/>
<text x="120.40" y="481.76" font-size="4.3" text-anchor="end" fill="#444" textLength="4.00" lengthAdjust="spacingAndGlyphs" stroke="#444" stroke-width="0.06">10</text>
<text x="120.60" y="479.66" font-size="2.9" fill="#444" textLength="1.48" lengthAdjust="spacingAndGlyphs" stroke="#444" stroke-width="0.05">4</text>
<line x1="125.50" y1="480.26" x2="127.70" y2="480.26" stroke="#111" stroke-width="0.7"/>
<line x1="126.50" y1="478.91" x2="127.70" y2="478.91" stroke="#222" stroke-width="0.5"/>
<line x1="126.50" y1="477.90" x2="127.70" y2="477.90" stroke="#222" stroke-width="0.5"/>
<line x1="126.50" y1="477.12" x2="127.70" y2="477.12" stroke="#222" stroke-width="0.5"/>
<line x1="126.50" y1="481.61" x2="127.70" y2="481.61" stroke="#222" stroke-width="0.5"/>
<line x1="126.50" y1="482.62" x2="127.70" y2="482.62" stroke="#222" stroke-width="0.5"/>
<text x="120.40" y="493.90" font-size="4.3" text-anchor="end" fill="#444" textLength="4.00" lengthAdjust="spacingAndGlyphs" stroke="#444" stroke-width="0.06">10</text>
<text x="120.60" y="491.80" font-size="2.9" fill="#444" textLength="1.48" lengthAdjust="spacingAndGlyphs" stroke="#444" stroke-width="0.05">3</text>
<line x1="125.50" y1="492.40" x2="127.70" y2="492.40" stroke="#111" stroke-width="0.7"/>
<line x1="126.50" y1="491.06" x2="127.70" y2="491.06" stroke="#222" stroke-width="0.5"/>
<line x1="126.50" y1="490.04" x2="127.70" y2="490.04" stroke="#222" stroke-width="0.5"/>
<line x1="126.50" y1="489.26" x2="127.70" y2="489.26" stroke="#222" stroke-width="0.5"/>
<line x1="126.50" y1="493.75" x2="127.70" y2="493.75" stroke="#222" stroke-width="0.5"/>
<line x1="126.50" y1="494.76" x2="127.70" y2="494.76" stroke="#222" stroke-width="0.5"/>
<text x="120.40" y="506.16" font-size="4.3" text-anchor="end" fill="#444" textLength="4.00" lengthAdjust="spacingAndGlyphs" stroke="#444" stroke-width="0.06">10</text>
<text x="120.60" y="504.06" font-size="2.9" fill="#444" textLength="1.48" lengthAdjust="spacingAndGlyphs" stroke="#444" stroke-width="0.05">2</text>
<line x1="125.50" y1="504.66" x2="127.70" y2="504.66" stroke="#111" stroke-width="0.7"/>
<line x1="126.50" y1="503.31" x2="127.70" y2="503.31" stroke="#222" stroke-width="0.5"/>
<line x1="126.50" y1="502.30" x2="127.70" y2="502.30" stroke="#222" stroke-width="0.5"/>
<line x1="126.50" y1="501.51" x2="127.70" y2="501.51" stroke="#222" stroke-width="0.5"/>
<line x1="126.50" y1="506.01" x2="127.70" y2="506.01" stroke="#222" stroke-width="0.5"/>
<line x1="126.50" y1="507.02" x2="127.70" y2="507.02" stroke="#222" stroke-width="0.5"/>
<text x="122.50" y="512.12" font-size="4.3" text-anchor="end" fill="#444" textLength="2.20" lengthAdjust="spacingAndGlyphs" stroke="#444" stroke-width="0.06">0</text>
<line x1="126.70" y1="466.30" x2="127.70" y2="466.30" stroke="#111" stroke-width="0.45"/>
<line x1="126.70" y1="470.01" x2="127.70" y2="470.01" stroke="#111" stroke-width="0.45"/>
<line x1="126.70" y1="473.72" x2="127.70" y2="473.72" stroke="#111" stroke-width="0.45"/>
<line x1="126.70" y1="477.43" x2="127.70" y2="477.43" stroke="#111" stroke-width="0.45"/>
<line x1="126.70" y1="481.14" x2="127.70" y2="481.14" stroke="#111" stroke-width="0.45"/>
<line x1="126.70" y1="484.85" x2="127.70" y2="484.85" stroke="#111" stroke-width="0.45"/>
<line x1="126.70" y1="488.56" x2="127.70" y2="488.56" stroke="#111" stroke-width="0.45"/>
<line x1="126.70" y1="492.27" x2="127.70" y2="492.27" stroke="#111" stroke-width="0.45"/>
<line x1="126.70" y1="495.98" x2="127.70" y2="495.98" stroke="#111" stroke-width="0.45"/>
<line x1="126.70" y1="499.69" x2="127.70" y2="499.69" stroke="#111" stroke-width="0.45"/>
<line x1="126.70" y1="503.40" x2="127.70" y2="503.40" stroke="#111" stroke-width="0.45"/>
<line x1="126.70" y1="507.11" x2="127.70" y2="507.11" stroke="#111" stroke-width="0.45"/>
<line x1="126.70" y1="510.82" x2="127.70" y2="510.82" stroke="#111" stroke-width="0.45"/>
<text x="136.20" y="523.80" font-size="4.3" text-anchor="middle" fill="#444" textLength="2.20" lengthAdjust="spacingAndGlyphs" stroke="#444" stroke-width="0.06">0</text>
<text x="153.10" y="523.80" font-size="4.3" text-anchor="middle" fill="#444" textLength="4.40" lengthAdjust="spacingAndGlyphs" stroke="#444" stroke-width="0.06">10</text>
<text x="164.70" y="523.80" font-size="4.3" text-anchor="middle" fill="#444" textLength="4.40" lengthAdjust="spacingAndGlyphs" stroke="#444" stroke-width="0.06">10</text>
<text x="174.70" y="523.80" font-size="4.3" text-anchor="middle" fill="#444" textLength="4.40" lengthAdjust="spacingAndGlyphs" stroke="#444" stroke-width="0.06">10</text>
<text x="155.30" y="521.70" font-size="2.9" fill="#444" textLength="1.48" lengthAdjust="spacingAndGlyphs" stroke="#444" stroke-width="0.05">3</text>
<text x="166.90" y="521.70" font-size="2.9" fill="#444" textLength="1.48" lengthAdjust="spacingAndGlyphs" stroke="#444" stroke-width="0.05">4</text>
<text x="176.90" y="521.70" font-size="2.9" fill="#444" textLength="1.48" lengthAdjust="spacingAndGlyphs" stroke="#444" stroke-width="0.05">5</text>
<line x1="129.20" y1="515.00" x2="129.20" y2="516.30" stroke="#222" stroke-width="0.55"/>
<line x1="132.60" y1="515.00" x2="132.60" y2="516.30" stroke="#222" stroke-width="0.55"/>
<line x1="136.00" y1="515.00" x2="136.00" y2="516.30" stroke="#222" stroke-width="0.55"/>
<line x1="139.40" y1="515.00" x2="139.40" y2="516.30" stroke="#222" stroke-width="0.55"/>
<line x1="142.80" y1="515.00" x2="142.80" y2="516.30" stroke="#222" stroke-width="0.55"/>
<line x1="146.20" y1="515.00" x2="146.20" y2="516.30" stroke="#222" stroke-width="0.55"/>
<line x1="149.60" y1="515.00" x2="149.60" y2="516.30" stroke="#222" stroke-width="0.55"/>
<line x1="153.00" y1="515.00" x2="153.00" y2="516.30" stroke="#222" stroke-width="0.55"/>
<line x1="156.40" y1="515.00" x2="156.40" y2="516.30" stroke="#222" stroke-width="0.55"/>
<line x1="159.80" y1="515.00" x2="159.80" y2="516.30" stroke="#222" stroke-width="0.55"/>
<line x1="163.20" y1="515.00" x2="163.20" y2="516.30" stroke="#222" stroke-width="0.55"/>
<line x1="166.60" y1="515.00" x2="166.60" y2="516.30" stroke="#222" stroke-width="0.55"/>
<line x1="170.00" y1="515.00" x2="170.00" y2="516.30" stroke="#222" stroke-width="0.55"/>
<line x1="173.40" y1="515.00" x2="173.40" y2="516.30" stroke="#222" stroke-width="0.55"/>
<line x1="176.80" y1="515.00" x2="176.80" y2="516.30" stroke="#222" stroke-width="0.55"/>
<line x1="132.70" y1="515.00" x2="132.70" y2="516.80" stroke="#111" stroke-width="0.8"/>
<line x1="133.70" y1="515.00" x2="133.70" y2="516.80" stroke="#111" stroke-width="0.8"/>
<line x1="134.70" y1="515.00" x2="134.70" y2="516.80" stroke="#111" stroke-width="0.8"/>
<line x1="135.70" y1="515.00" x2="135.70" y2="516.80" stroke="#111" stroke-width="0.8"/>
<line x1="136.70" y1="515.00" x2="136.70" y2="516.80" stroke="#111" stroke-width="0.8"/>
<line x1="137.70" y1="515.00" x2="137.70" y2="516.80" stroke="#111" stroke-width="0.8"/>
<line x1="138.70" y1="515.00" x2="138.70" y2="516.80" stroke="#111" stroke-width="0.8"/>
<line x1="150.20" y1="515.00" x2="150.20" y2="516.80" stroke="#222" stroke-width="0.55"/>
<line x1="151.30" y1="515.00" x2="151.30" y2="516.80" stroke="#222" stroke-width="0.55"/>
<line x1="152.20" y1="515.00" x2="152.20" y2="516.80" stroke="#222" stroke-width="0.55"/>
<line x1="162.20" y1="515.00" x2="162.20" y2="516.80" stroke="#222" stroke-width="0.55"/>
<line x1="163.30" y1="515.00" x2="163.30" y2="516.80" stroke="#222" stroke-width="0.55"/>
<line x1="164.10" y1="515.00" x2="164.10" y2="516.80" stroke="#222" stroke-width="0.55"/>
<line x1="172.20" y1="515.00" x2="172.20" y2="516.80" stroke="#222" stroke-width="0.55"/>
<line x1="173.30" y1="515.00" x2="173.30" y2="516.80" stroke="#222" stroke-width="0.55"/>
<g filter="url(#sb)">
<path d="M97.50,449.01 L97.00,449.09 L96.50,449.13 L96.00,449.12 L95.50,449.07 L95.16,449.00 L94.75,448.90 L94.33,448.75 L94.00,448.62 L93.75,448.50 L93.29,448.25 L93.00,448.07 L92.75,447.91 L92.50,447.73 L92.20,447.50 L91.90,447.25 L91.63,447.00 L91.38,446.75 L91.16,446.50 L90.95,446.25 L90.75,445.98 L90.50,445.61 L90.28,445.25 L90.14,445.00 L90.00,444.71 L89.79,444.25 L89.68,444.00 L89.51,443.50 L89.42,443.25 L89.27,442.75 L89.20,442.50 L89.08,442.00 L89.00,441.55 L88.94,441.25 L88.86,440.75 L88.80,440.25 L88.76,439.75 L88.75,439.50 L88.72,439.00 L88.70,438.50 L88.70,438.00 L88.71,437.50 L88.73,437.00 L88.75,436.62 L88.77,436.25 L88.79,435.75 L88.80,435.25 L88.79,434.75 L88.76,434.25 L88.72,434.00 L88.60,433.50 L88.50,433.15 L88.35,432.75 L88.25,432.47 L88.07,432.00 L87.99,431.75 L87.84,431.25 L87.75,430.75 L87.72,430.50 L87.68,430.00 L87.69,429.50 L87.73,429.00 L87.76,428.75 L87.81,428.25 L87.88,427.75 L87.98,427.25 L88.04,427.00 L88.19,426.50 L88.28,426.25 L88.50,425.82 L88.70,425.50 L88.89,425.25 L89.12,425.00 L89.41,424.75 L89.75,424.52 L90.00,424.38 L90.34,424.25 L90.75,424.12 L91.25,424.04 L91.75,424.01 L92.25,424.03 L92.75,424.05 L93.25,424.08 L93.75,424.08 L94.25,424.06 L94.75,424.04 L95.25,424.03 L95.75,424.03 L96.25,424.05 L96.75,424.10 L97.25,424.17 L97.64,424.25 L98.00,424.32 L98.50,424.46 L98.75,424.53 L99.25,424.69 L99.50,424.78 L100.00,424.98 L100.25,425.09 L100.59,425.25 L101.00,425.46 L101.25,425.60 L101.50,425.75 L101.87,426.00 L102.20,426.25 L102.49,426.50 L102.75,426.75 L102.99,427.00 L103.20,427.25 L103.39,427.50 L103.56,427.75 L103.75,428.07 L103.98,428.50 L104.09,428.75 L104.25,429.18 L104.36,429.50 L104.48,430.00 L104.53,430.25 L104.61,430.75 L104.65,431.25 L104.65,431.75 L104.63,432.25 L104.57,432.75 L104.50,433.15 L104.43,433.50 L104.30,434.00 L104.22,434.25 L104.04,434.75 L103.95,435.00 L103.75,435.46 L103.64,435.75 L103.50,436.08 L103.36,436.50 L103.25,436.93 L103.21,437.25 L103.18,437.75 L103.20,438.25 L103.23,438.75 L103.25,439.00 L103.31,439.50 L103.37,440.00 L103.41,440.50 L103.44,441.00 L103.45,441.50 L103.45,442.00 L103.42,442.50 L103.37,443.00 L103.29,443.50 L103.24,443.75 L103.12,444.25 L103.00,444.62 L102.87,445.00 L102.75,445.26 L102.51,445.75 L102.37,446.00 L102.20,446.25 L102.00,446.53 L101.75,446.83 L101.50,447.10 L101.25,447.33 L101.00,447.54 L100.71,447.75 L100.31,448.00 L100.00,448.17 L99.75,448.29 L99.26,448.50 L99.00,448.60 L98.54,448.75 L98.25,448.84 L97.75,448.96 L97.50,449.01Z" fill="#1c1c86" />
<path d="M97.75,447.05 L97.25,447.13 L96.75,447.17 L96.25,447.17 L95.75,447.12 L95.25,447.02 L95.00,446.95 L94.50,446.75 L94.25,446.63 L94.00,446.50 L93.61,446.25 L93.26,446.00 L93.00,445.80 L92.75,445.58 L92.50,445.35 L92.25,445.09 L92.00,444.81 L91.75,444.50 L91.56,444.25 L91.39,444.00 L91.24,443.75 L91.00,443.32 L90.84,443.00 L90.74,442.75 L90.54,442.25 L90.46,442.00 L90.31,441.50 L90.25,441.25 L90.13,440.75 L90.05,440.25 L90.00,439.87 L89.96,439.50 L89.92,439.00 L89.90,438.50 L89.89,438.00 L89.91,437.50 L89.94,437.00 L89.99,436.50 L90.01,436.25 L90.07,435.75 L90.14,435.25 L90.20,434.75 L90.25,434.27 L90.26,434.00 L90.26,433.50 L90.24,433.25 L90.17,432.75 L90.07,432.25 L90.00,431.91 L89.90,431.50 L89.81,431.00 L89.75,430.59 L89.71,430.25 L89.66,429.75 L89.60,429.25 L89.53,428.75 L89.49,428.50 L89.42,428.00 L89.39,427.50 L89.45,427.00 L89.52,426.75 L89.75,426.25 L89.94,426.00 L90.20,425.75 L90.50,425.56 L90.75,425.44 L91.25,425.33 L91.75,425.32 L92.25,425.40 L92.68,425.50 L93.00,425.58 L93.50,425.67 L94.00,425.71 L94.50,425.70 L95.00,425.68 L95.50,425.67 L96.00,425.69 L96.50,425.75 L96.75,425.78 L97.25,425.87 L97.75,426.00 L98.00,426.07 L98.50,426.23 L98.75,426.32 L99.21,426.50 L99.50,426.62 L99.79,426.75 L100.25,426.97 L100.50,427.10 L100.76,427.25 L101.15,427.50 L101.48,427.75 L101.75,427.99 L102.00,428.24 L102.22,428.50 L102.41,428.75 L102.57,429.00 L102.75,429.32 L102.95,429.75 L103.04,430.00 L103.18,430.50 L103.25,430.87 L103.30,431.25 L103.33,431.75 L103.31,432.25 L103.25,432.67 L103.19,433.00 L103.06,433.50 L102.97,433.75 L102.77,434.25 L102.65,434.50 L102.50,434.79 L102.25,435.25 L102.13,435.50 L102.00,435.76 L101.83,436.25 L101.75,436.64 L101.72,437.00 L101.73,437.50 L101.75,437.82 L101.80,438.25 L101.88,438.75 L101.95,439.25 L102.00,439.61 L102.06,440.00 L102.12,440.50 L102.16,441.00 L102.19,441.50 L102.18,442.00 L102.15,442.50 L102.08,443.00 L102.00,443.36 L101.90,443.75 L101.75,444.16 L101.60,444.50 L101.47,444.75 L101.25,445.09 L101.00,445.42 L100.75,445.69 L100.50,445.92 L100.25,446.11 L100.00,446.27 L99.56,446.50 L99.25,446.64 L98.93,446.75 L98.50,446.88 L98.00,447.00 L97.75,447.05Z" fill="#2c38c0" />
<path d="M97.25,446.25 L96.75,446.29 L96.25,446.29 L95.91,446.25 L95.50,446.18 L95.00,446.03 L94.75,445.93 L94.39,445.75 L94.00,445.51 L93.75,445.34 L93.50,445.15 L93.25,444.94 L93.00,444.70 L92.75,444.45 L92.50,444.17 L92.25,443.86 L92.00,443.52 L91.82,443.25 L91.67,443.00 L91.50,442.69 L91.29,442.25 L91.18,442.00 L91.00,441.50 L90.92,441.25 L90.79,440.75 L90.73,440.50 L90.64,440.00 L90.57,439.50 L90.53,439.00 L90.51,438.50 L90.51,438.00 L90.53,437.50 L90.57,437.00 L90.63,436.50 L90.72,436.00 L90.77,435.75 L90.87,435.25 L90.99,434.75 L91.04,434.50 L91.13,434.00 L91.17,433.50 L91.16,433.00 L91.09,432.50 L91.00,432.07 L90.93,431.75 L90.83,431.25 L90.75,430.76 L90.72,430.50 L90.67,430.00 L90.61,429.50 L90.52,429.00 L90.45,428.75 L90.32,428.25 L90.25,427.95 L90.20,427.50 L90.25,427.09 L90.38,426.75 L90.56,426.50 L90.88,426.25 L91.25,426.12 L91.75,426.10 L92.25,426.21 L92.50,426.29 L93.00,426.45 L93.25,426.50 L93.75,426.56 L94.25,426.55 L94.75,426.52 L95.17,426.50 L95.50,426.50 L95.75,426.50 L96.25,426.54 L96.75,426.61 L97.25,426.73 L97.50,426.79 L98.00,426.95 L98.25,427.04 L98.75,427.23 L99.00,427.33 L99.40,427.50 L99.75,427.65 L100.00,427.78 L100.42,428.00 L100.75,428.20 L101.00,428.38 L101.25,428.58 L101.50,428.82 L101.75,429.11 L102.00,429.46 L102.17,429.75 L102.29,430.00 L102.48,430.50 L102.55,430.75 L102.64,431.25 L102.67,431.75 L102.65,432.25 L102.57,432.75 L102.50,433.02 L102.34,433.50 L102.23,433.75 L102.00,434.20 L101.83,434.50 L101.67,434.75 L101.50,435.02 L101.25,435.49 L101.15,435.75 L101.03,436.25 L101.00,436.57 L101.00,436.88 L101.02,437.25 L101.09,437.75 L101.16,438.25 L101.24,438.75 L101.28,439.00 L101.37,439.50 L101.44,440.00 L101.50,440.45 L101.53,440.75 L101.57,441.25 L101.58,441.75 L101.55,442.25 L101.50,442.62 L101.43,443.00 L101.29,443.50 L101.20,443.75 L101.00,444.16 L100.80,444.50 L100.61,444.75 L100.38,445.00 L100.10,445.25 L99.75,445.50 L99.50,445.64 L99.25,445.76 L98.75,445.95 L98.50,446.02 L98.00,446.14 L97.50,446.22 L97.25,446.25Z" fill="#4a90e0" />
<path d="M98.25,445.27 L97.75,445.38 L97.25,445.45 L96.75,445.49 L96.25,445.48 L95.75,445.41 L95.25,445.27 L95.00,445.18 L94.64,445.00 L94.25,444.77 L94.00,444.59 L93.75,444.38 L93.50,444.16 L93.25,443.90 L93.00,443.62 L92.75,443.31 L92.52,443.00 L92.36,442.75 L92.21,442.50 L92.00,442.12 L91.82,441.75 L91.72,441.50 L91.54,441.00 L91.46,440.75 L91.33,440.25 L91.25,439.80 L91.20,439.50 L91.15,439.00 L91.13,438.50 L91.14,438.00 L91.18,437.50 L91.25,437.00 L91.29,436.75 L91.41,436.25 L91.50,435.95 L91.66,435.50 L91.76,435.25 L91.99,434.75 L92.11,434.50 L92.25,434.17 L92.40,433.75 L92.46,433.25 L92.39,432.75 L92.25,432.31 L92.14,432.00 L92.00,431.57 L91.91,431.25 L91.81,430.75 L91.76,430.25 L91.75,430.00 L91.75,429.50 L91.75,429.25 L91.75,428.75 L91.74,428.50 L91.75,428.04 L91.89,427.75 L92.25,427.64 L92.75,427.63 L93.25,427.60 L93.75,427.53 L94.00,427.49 L94.50,427.41 L95.00,427.36 L95.50,427.34 L96.00,427.36 L96.50,427.43 L96.82,427.50 L97.25,427.62 L97.64,427.75 L98.00,427.88 L98.29,428.00 L98.75,428.19 L99.00,428.29 L99.50,428.50 L99.75,428.61 L100.02,428.75 L100.45,429.00 L100.75,429.22 L101.00,429.44 L101.25,429.71 L101.46,430.00 L101.60,430.25 L101.75,430.58 L101.88,431.00 L101.96,431.50 L101.97,432.00 L101.91,432.50 L101.76,433.00 L101.66,433.25 L101.50,433.56 L101.25,433.95 L101.03,434.25 L100.83,434.50 L100.65,434.75 L100.50,435.00 L100.31,435.50 L100.25,436.00 L100.27,436.50 L100.34,437.00 L100.42,437.50 L100.50,437.95 L100.56,438.25 L100.65,438.75 L100.74,439.25 L100.78,439.50 L100.86,440.00 L100.92,440.50 L100.96,441.00 L100.98,441.50 L100.96,442.00 L100.89,442.50 L100.77,443.00 L100.68,443.25 L100.50,443.64 L100.27,444.00 L100.07,444.25 L99.81,444.50 L99.50,444.74 L99.25,444.89 L99.00,445.01 L98.50,445.20 L98.25,445.27Z" fill="#70c8e8" />
<path d="M100.00,432.52 L99.50,432.72 L99.00,432.65 L98.69,432.50 L98.33,432.25 L98.00,432.04 L97.75,431.94 L97.25,431.92 L96.75,432.00 L96.50,432.04 L96.00,432.04 L95.75,431.98 L95.25,431.77 L95.00,431.62 L94.75,431.43 L94.50,431.18 L94.25,430.82 L94.13,430.50 L94.13,430.00 L94.25,429.72 L94.50,429.43 L94.78,429.25 L95.25,429.10 L95.75,429.07 L96.25,429.16 L96.52,429.25 L97.00,429.49 L97.25,429.65 L97.50,429.82 L97.77,430.00 L98.24,430.25 L98.50,430.34 L99.00,430.45 L99.25,430.51 L99.75,430.71 L100.00,430.91 L100.25,431.24 L100.34,431.50 L100.33,432.00 L100.24,432.25 L100.00,432.52Z M97.25,444.26 L96.75,444.30 L96.25,444.29 L95.96,444.25 L95.50,444.14 L95.17,444.00 L94.75,443.77 L94.50,443.60 L94.25,443.39 L94.00,443.15 L93.75,442.88 L93.50,442.56 L93.29,442.25 L93.13,442.00 L93.00,441.75 L92.76,441.25 L92.65,441.00 L92.50,440.54 L92.42,440.25 L92.31,439.75 L92.25,439.29 L92.23,439.00 L92.23,438.50 L92.25,438.20 L92.31,437.75 L92.44,437.25 L92.53,437.00 L92.75,436.53 L92.92,436.25 L93.09,436.00 L93.28,435.75 L93.50,435.50 L93.75,435.24 L94.00,434.99 L94.25,434.75 L94.53,434.50 L94.83,434.25 L95.16,434.00 L95.50,433.77 L95.75,433.63 L96.25,433.50 L96.75,433.54 L97.25,433.71 L97.50,433.84 L97.75,434.02 L98.00,434.25 L98.25,434.53 L98.50,434.91 L98.68,435.25 L98.79,435.50 L99.00,436.00 L99.10,436.25 L99.25,436.70 L99.35,437.00 L99.49,437.50 L99.55,437.75 L99.67,438.25 L99.75,438.65 L99.82,439.00 L99.90,439.50 L99.96,440.00 L100.00,440.41 L100.02,440.75 L100.02,441.25 L100.00,441.55 L99.93,442.00 L99.79,442.50 L99.68,442.75 L99.50,443.05 L99.25,443.35 L99.00,443.58 L98.75,443.75 L98.25,443.99 L98.00,444.08 L97.50,444.21 L97.25,444.26Z" fill="#7cc660" />
<path d="M97.00,442.78 L96.50,442.84 L96.00,442.79 L95.75,442.72 L95.28,442.50 L95.00,442.30 L94.75,442.08 L94.50,441.80 L94.29,441.50 L94.14,441.25 L94.00,440.96 L93.82,440.50 L93.75,440.25 L93.65,439.75 L93.60,439.25 L93.62,438.75 L93.70,438.25 L93.77,438.00 L93.97,437.50 L94.10,437.25 L94.26,437.00 L94.50,436.68 L94.75,436.42 L95.00,436.21 L95.35,436.00 L95.75,435.84 L96.25,435.77 L96.75,435.86 L97.06,436.00 L97.42,436.25 L97.67,436.50 L97.87,436.75 L98.04,437.00 L98.25,437.40 L98.40,437.75 L98.50,438.05 L98.62,438.50 L98.72,439.00 L98.76,439.25 L98.81,439.75 L98.81,440.25 L98.77,440.75 L98.73,441.00 L98.57,441.50 L98.45,441.75 L98.25,442.04 L98.00,442.29 L97.70,442.50 L97.25,442.71 L97.00,442.78Z" fill="#ece43c" />
<path d="M97.00,441.82 L96.50,441.94 L96.00,441.89 L95.64,441.75 L95.27,441.50 L95.02,441.25 L94.84,441.00 L94.69,440.75 L94.50,440.29 L94.42,440.00 L94.34,439.50 L94.34,439.00 L94.42,438.50 L94.50,438.22 L94.71,437.75 L94.87,437.50 L95.08,437.25 L95.38,437.00 L95.75,436.80 L96.00,436.74 L96.42,436.75 L96.75,436.85 L97.01,437.00 L97.29,437.25 L97.50,437.51 L97.75,437.95 L97.87,438.25 L98.00,438.68 L98.07,439.00 L98.12,439.50 L98.11,440.00 L98.04,440.50 L97.96,440.75 L97.75,441.19 L97.50,441.49 L97.25,441.69 L97.00,441.82Z" fill="#f2a02a" />
<path d="M96.75,441.02 L96.25,441.11 L95.87,441.00 L95.51,440.75 L95.31,440.50 L95.17,440.25 L95.00,439.75 L94.97,439.50 L94.97,439.00 L95.02,438.75 L95.21,438.25 L95.39,438.00 L95.66,437.75 L96.00,437.59 L96.50,437.63 L96.75,437.75 L97.01,438.00 L97.25,438.37 L97.40,438.75 L97.50,439.25 L97.51,439.50 L97.50,439.75 L97.39,440.25 L97.25,440.55 L97.00,440.85 L96.75,441.02Z" fill="#e03020" />
<path d="M160.50,448.28 L160.00,448.34 L159.50,448.35 L159.00,448.30 L158.75,448.25 L158.25,448.11 L158.00,448.00 L157.54,447.75 L157.25,447.55 L157.00,447.34 L156.75,447.09 L156.50,446.80 L156.27,446.50 L156.11,446.25 L155.95,446.00 L155.75,445.62 L155.57,445.25 L155.47,445.00 L155.28,444.50 L155.19,444.25 L155.04,443.75 L154.97,443.50 L154.85,443.00 L154.76,442.50 L154.71,442.25 L154.64,441.75 L154.58,441.25 L154.54,440.75 L154.51,440.25 L154.50,439.78 L154.50,439.50 L154.50,439.24 L154.51,438.75 L154.54,438.25 L154.58,437.75 L154.64,437.25 L154.72,436.75 L154.76,436.50 L154.86,436.00 L154.98,435.50 L155.04,435.25 L155.18,434.75 L155.25,434.50 L155.38,434.00 L155.47,433.50 L155.46,433.00 L155.27,432.50 L155.09,432.25 L154.84,432.00 L154.56,431.75 L154.25,431.50 L154.00,431.29 L153.75,431.05 L153.50,430.78 L153.28,430.50 L153.11,430.25 L152.99,430.00 L152.80,429.50 L152.75,429.25 L152.70,428.75 L152.75,428.25 L152.80,428.00 L152.99,427.50 L153.12,427.25 L153.29,427.00 L153.50,426.75 L153.76,426.50 L154.10,426.25 L154.50,426.03 L154.75,425.93 L155.25,425.78 L155.50,425.74 L156.00,425.68 L156.50,425.66 L157.00,425.67 L157.50,425.67 L158.00,425.65 L158.50,425.62 L159.00,425.57 L159.50,425.53 L160.00,425.50 L160.25,425.49 L160.75,425.47 L161.25,425.48 L161.75,425.50 L162.00,425.51 L162.50,425.54 L163.00,425.58 L163.50,425.62 L164.00,425.68 L164.44,425.75 L164.75,425.80 L165.25,425.90 L165.58,426.00 L166.00,426.14 L166.27,426.25 L166.75,426.47 L167.00,426.60 L167.25,426.76 L167.62,427.00 L167.96,427.25 L168.25,427.49 L168.50,427.71 L168.75,427.96 L169.00,428.24 L169.20,428.50 L169.38,428.75 L169.53,429.00 L169.75,429.42 L169.90,429.75 L170.00,430.02 L170.16,430.50 L170.25,430.81 L170.37,431.25 L170.48,431.75 L170.53,432.00 L170.64,432.50 L170.73,433.00 L170.78,433.25 L170.91,433.75 L171.03,434.00 L171.25,434.26 L171.63,434.50 L172.00,434.68 L172.25,434.82 L172.50,435.02 L172.75,435.30 L172.95,435.75 L172.95,436.25 L172.75,436.70 L172.50,436.98 L172.25,437.17 L172.00,437.31 L171.59,437.50 L171.25,437.70 L171.00,437.93 L170.82,438.25 L170.72,438.50 L170.57,439.00 L170.49,439.25 L170.32,439.75 L170.22,440.00 L170.00,440.44 L169.80,440.75 L169.61,441.00 L169.36,441.25 L169.00,441.49 L168.75,441.58 L168.25,441.62 L167.75,441.59 L167.25,441.71 L167.00,441.91 L166.75,442.19 L166.53,442.50 L166.38,442.75 L166.21,443.00 L166.00,443.35 L165.76,443.75 L165.61,444.00 L165.45,444.25 L165.25,444.56 L165.00,444.93 L164.76,445.25 L164.58,445.50 L164.38,445.75 L164.16,446.00 L163.93,446.25 L163.69,446.50 L163.43,446.75 L163.14,447.00 L162.82,447.25 L162.50,447.47 L162.25,447.63 L162.00,447.76 L161.50,447.99 L161.25,448.09 L160.75,448.23 L160.50,448.28Z" fill="#1c1c86" />
<path d="M161.25,446.00 L160.75,446.05 L160.25,446.00 L160.00,445.95 L159.50,445.78 L159.25,445.66 L158.98,445.50 L158.62,445.25 L158.32,445.00 L158.06,444.75 L157.83,444.50 L157.63,444.25 L157.45,444.00 L157.25,443.69 L157.01,443.25 L156.90,443.00 L156.75,442.63 L156.62,442.25 L156.50,441.82 L156.43,441.50 L156.34,441.00 L156.28,440.50 L156.25,440.11 L156.24,439.75 L156.24,439.25 L156.26,439.00 L156.30,438.50 L156.38,438.00 L156.49,437.50 L156.56,437.25 L156.74,436.75 L156.85,436.50 L157.00,436.21 L157.25,435.84 L157.50,435.55 L157.75,435.33 L158.00,435.14 L158.25,434.96 L158.54,434.75 L158.82,434.50 L159.06,434.25 L159.26,434.00 L159.50,433.64 L159.71,433.25 L159.82,433.00 L159.96,432.50 L159.97,432.00 L159.75,431.57 L159.50,431.37 L159.25,431.22 L158.75,431.00 L158.50,430.89 L158.18,430.75 L157.75,430.54 L157.50,430.42 L157.12,430.25 L156.75,430.10 L156.48,430.00 L156.00,429.80 L155.75,429.65 L155.50,429.47 L155.25,429.16 L155.13,428.75 L155.25,428.30 L155.50,428.05 L155.75,427.93 L156.25,427.85 L156.75,427.88 L157.25,427.94 L157.75,427.96 L158.25,427.92 L158.75,427.84 L159.17,427.75 L159.50,427.69 L160.00,427.61 L160.50,427.56 L161.00,427.54 L161.50,427.54 L162.00,427.55 L162.50,427.58 L163.00,427.61 L163.50,427.64 L164.00,427.69 L164.42,427.75 L164.75,427.81 L165.25,427.94 L165.50,428.02 L166.00,428.25 L166.25,428.38 L166.50,428.54 L166.77,428.75 L167.05,429.00 L167.29,429.25 L167.50,429.52 L167.75,429.92 L167.92,430.25 L168.01,430.50 L168.15,431.00 L168.23,431.50 L168.26,431.75 L168.28,432.25 L168.29,432.75 L168.30,433.25 L168.32,433.75 L168.37,434.25 L168.41,434.75 L168.43,435.25 L168.39,435.75 L168.25,436.19 L168.10,436.50 L167.95,436.75 L167.75,437.06 L167.50,437.49 L167.38,437.75 L167.24,438.00 L167.01,438.50 L166.91,438.75 L166.75,439.09 L166.58,439.50 L166.47,439.75 L166.25,440.25 L166.15,440.50 L166.00,440.82 L165.80,441.25 L165.68,441.50 L165.50,441.86 L165.29,442.25 L165.15,442.50 L165.00,442.75 L164.75,443.15 L164.51,443.50 L164.33,443.75 L164.14,444.00 L163.93,444.25 L163.70,444.50 L163.45,444.75 L163.18,445.00 L162.87,445.25 L162.50,445.50 L162.25,445.65 L162.00,445.77 L161.50,445.95 L161.25,446.00Z" fill="#2c38c0" />
<path d="M161.50,445.02 L161.00,445.06 L160.57,445.00 L160.25,444.91 L159.92,444.75 L159.53,444.50 L159.25,444.26 L159.00,444.00 L158.79,443.75 L158.60,443.50 L158.44,443.25 L158.25,442.93 L158.03,442.50 L157.92,442.25 L157.75,441.78 L157.66,441.50 L157.55,441.00 L157.50,440.71 L157.45,440.25 L157.44,439.75 L157.47,439.25 L157.50,439.00 L157.61,438.50 L157.75,438.09 L157.89,437.75 L158.02,437.50 L158.25,437.13 L158.50,436.75 L158.66,436.50 L158.83,436.25 L159.00,435.99 L159.25,435.59 L159.45,435.25 L159.59,435.00 L159.75,434.74 L160.00,434.28 L160.15,434.00 L160.28,433.75 L160.50,433.33 L160.66,433.00 L160.79,432.75 L161.00,432.27 L161.10,432.00 L161.25,431.57 L161.33,431.25 L161.43,430.75 L161.50,430.29 L161.56,430.00 L161.75,429.65 L162.00,429.42 L162.28,429.25 L162.75,429.07 L163.02,429.00 L163.50,428.91 L164.00,428.87 L164.50,428.88 L165.00,428.96 L165.25,429.03 L165.75,429.25 L166.00,429.40 L166.25,429.59 L166.50,429.84 L166.75,430.17 L166.93,430.50 L167.02,430.75 L167.14,431.25 L167.18,431.75 L167.17,432.25 L167.13,432.75 L167.10,433.25 L167.07,433.75 L167.05,434.25 L167.03,434.75 L167.00,435.23 L166.98,435.50 L166.93,436.00 L166.85,436.50 L166.75,436.94 L166.69,437.25 L166.56,437.75 L166.49,438.00 L166.34,438.50 L166.25,438.76 L166.09,439.25 L165.99,439.50 L165.81,440.00 L165.70,440.25 L165.50,440.71 L165.37,441.00 L165.24,441.25 L165.00,441.72 L164.85,442.00 L164.70,442.25 L164.50,442.56 L164.25,442.92 L164.00,443.25 L163.79,443.50 L163.56,443.75 L163.31,444.00 L163.02,444.25 L162.75,444.46 L162.50,444.62 L162.25,444.76 L161.75,444.96 L161.50,445.02Z" fill="#4a90e0" />
<path d="M162.00,444.04 L161.50,444.15 L161.00,444.13 L160.57,444.00 L160.25,443.83 L160.00,443.63 L159.75,443.38 L159.50,443.06 L159.31,442.75 L159.18,442.50 L159.00,442.07 L158.89,441.75 L158.76,441.25 L158.72,441.00 L158.66,440.50 L158.64,440.00 L158.67,439.50 L158.75,439.00 L158.79,438.75 L158.91,438.25 L159.00,437.98 L159.15,437.50 L159.25,437.25 L159.44,436.75 L159.55,436.50 L159.75,436.05 L159.88,435.75 L160.00,435.50 L160.24,435.00 L160.36,434.75 L160.50,434.49 L160.75,434.02 L160.89,433.75 L161.04,433.50 L161.25,433.13 L161.48,432.75 L161.64,432.50 L161.80,432.25 L162.00,431.94 L162.25,431.58 L162.50,431.25 L162.72,431.00 L162.97,430.75 L163.25,430.52 L163.50,430.37 L163.76,430.25 L164.25,430.12 L164.75,430.13 L165.18,430.25 L165.50,430.43 L165.75,430.66 L165.98,431.00 L166.09,431.25 L166.23,431.75 L166.26,432.00 L166.31,432.50 L166.34,433.00 L166.37,433.50 L166.39,434.00 L166.40,434.50 L166.40,435.00 L166.38,435.50 L166.35,436.00 L166.28,436.50 L166.24,436.75 L166.16,437.25 L166.05,437.75 L165.98,438.00 L165.85,438.50 L165.75,438.81 L165.61,439.25 L165.50,439.54 L165.32,440.00 L165.22,440.25 L165.00,440.72 L164.86,441.00 L164.73,441.25 L164.50,441.65 L164.28,442.00 L164.11,442.25 L163.92,442.50 L163.71,442.75 L163.49,443.00 L163.24,443.25 L162.95,443.50 L162.59,443.75 L162.25,443.94 L162.00,444.04Z" fill="#70c8e8" />
<path d="M162.00,442.82 L161.50,442.86 L161.11,442.75 L160.75,442.54 L160.50,442.29 L160.29,442.00 L160.16,441.75 L160.00,441.36 L159.89,441.00 L159.80,440.50 L159.76,440.00 L159.75,439.50 L159.79,439.00 L159.85,438.50 L159.94,438.00 L160.00,437.75 L160.13,437.25 L160.25,436.89 L160.38,436.50 L160.50,436.19 L160.68,435.75 L160.79,435.50 L161.00,435.07 L161.16,434.75 L161.31,434.50 L161.50,434.18 L161.75,433.80 L161.98,433.50 L162.18,433.25 L162.41,433.00 L162.67,432.75 L162.97,432.50 L163.25,432.31 L163.50,432.19 L164.00,432.07 L164.50,432.17 L164.75,432.33 L165.00,432.62 L165.20,433.00 L165.30,433.25 L165.44,433.75 L165.50,434.03 L165.57,434.50 L165.62,435.00 L165.64,435.50 L165.63,436.00 L165.59,436.50 L165.52,437.00 L165.48,437.25 L165.38,437.75 L165.25,438.25 L165.19,438.50 L165.02,439.00 L164.93,439.25 L164.75,439.70 L164.62,440.00 L164.50,440.25 L164.25,440.71 L164.08,441.00 L163.91,441.25 L163.73,441.50 L163.50,441.78 L163.25,442.05 L163.00,442.28 L162.70,442.50 L162.25,442.74 L162.00,442.82Z" fill="#7cc660" />
<path d="M162.25,441.26 L161.75,441.25 L161.50,441.13 L161.25,440.91 L161.00,440.50 L160.91,440.25 L160.80,439.75 L160.75,439.25 L160.75,439.00 L160.76,438.75 L160.80,438.25 L160.89,437.75 L161.00,437.28 L161.08,437.00 L161.25,436.51 L161.35,436.25 L161.50,435.92 L161.72,435.50 L161.87,435.25 L162.04,435.00 L162.25,434.72 L162.50,434.45 L162.75,434.23 L163.15,434.00 L163.50,433.90 L163.95,434.00 L164.25,434.24 L164.42,434.50 L164.54,434.75 L164.68,435.25 L164.75,435.69 L164.77,436.00 L164.77,436.50 L164.75,436.75 L164.69,437.25 L164.59,437.75 L164.50,438.11 L164.38,438.50 L164.25,438.86 L164.09,439.25 L163.97,439.50 L163.75,439.89 L163.51,440.25 L163.32,440.50 L163.08,440.75 L162.78,441.00 L162.50,441.17 L162.25,441.26Z" fill="#ece43c" />
<path d="M162.50,440.29 L162.00,440.31 L161.75,440.16 L161.50,439.81 L161.39,439.50 L161.30,439.00 L161.29,438.50 L161.34,438.00 L161.44,437.50 L161.50,437.25 L161.67,436.75 L161.77,436.50 L162.00,436.03 L162.18,435.75 L162.37,435.50 L162.60,435.25 L162.93,435.00 L163.25,434.88 L163.74,435.00 L163.96,435.25 L164.09,435.50 L164.22,436.00 L164.25,436.25 L164.26,436.75 L164.24,437.00 L164.17,437.50 L164.06,438.00 L163.98,438.25 L163.79,438.75 L163.67,439.00 L163.50,439.31 L163.25,439.68 L163.00,439.95 L162.75,440.16 L162.50,440.29Z" fill="#f2a02a" />
<path d="M162.75,439.35 L162.25,439.44 L162.00,439.25 L161.81,438.75 L161.78,438.25 L161.83,437.75 L161.95,437.25 L162.04,437.00 L162.25,436.54 L162.44,436.25 L162.67,436.00 L163.00,435.78 L163.50,435.89 L163.70,436.25 L163.76,436.50 L163.79,437.00 L163.75,437.42 L163.68,437.75 L163.53,438.25 L163.41,438.50 L163.25,438.81 L163.00,439.14 L162.75,439.35Z" fill="#e03020" />
<path d="M97.25,510.79 L96.75,510.91 L96.25,510.97 L95.75,510.97 L95.25,510.91 L94.75,510.79 L94.50,510.71 L94.02,510.50 L93.75,510.36 L93.50,510.21 L93.20,510.00 L92.88,509.75 L92.59,509.50 L92.34,509.25 L92.11,509.00 L91.89,508.75 L91.70,508.50 L91.50,508.23 L91.25,507.85 L91.04,507.50 L90.89,507.25 L90.75,506.97 L90.52,506.50 L90.41,506.25 L90.25,505.85 L90.11,505.50 L90.00,505.15 L89.87,504.75 L89.75,504.31 L89.67,504.00 L89.56,503.50 L89.50,503.20 L89.42,502.75 L89.34,502.25 L89.29,501.75 L89.25,501.26 L89.23,501.00 L89.21,500.50 L89.20,500.00 L89.21,499.50 L89.23,499.00 L89.25,498.59 L89.27,498.25 L89.30,497.75 L89.32,497.25 L89.31,496.75 L89.25,496.42 L89.02,496.00 L88.75,495.84 L88.33,495.75 L88.00,495.74 L87.75,495.75 L87.25,495.80 L86.75,495.84 L86.25,495.88 L85.75,495.89 L85.25,495.89 L84.75,495.86 L84.25,495.81 L83.91,495.75 L83.50,495.68 L83.00,495.56 L82.75,495.48 L82.25,495.31 L82.00,495.21 L81.54,495.00 L81.25,494.85 L81.00,494.71 L80.69,494.50 L80.35,494.25 L80.05,494.00 L79.79,493.75 L79.56,493.50 L79.35,493.25 L79.17,493.00 L79.00,492.75 L78.75,492.36 L78.53,492.00 L78.37,491.75 L78.21,491.50 L78.00,491.20 L77.75,490.87 L77.50,490.56 L77.25,490.26 L77.03,490.00 L76.83,489.75 L76.63,489.50 L76.45,489.25 L76.25,488.96 L76.00,488.55 L75.83,488.25 L75.71,488.00 L75.50,487.50 L75.41,487.25 L75.27,486.75 L75.21,486.50 L75.12,486.00 L75.08,485.50 L75.08,485.00 L75.11,484.50 L75.19,484.00 L75.25,483.73 L75.38,483.25 L75.50,482.92 L75.67,482.50 L75.80,482.25 L76.00,481.89 L76.25,481.51 L76.44,481.25 L76.65,481.00 L76.89,480.75 L77.15,480.50 L77.45,480.25 L77.75,480.03 L78.00,479.86 L78.25,479.72 L78.69,479.50 L79.00,479.37 L79.35,479.25 L79.75,479.13 L80.25,479.03 L80.50,479.00 L81.00,478.95 L81.50,478.94 L82.00,478.95 L82.50,478.99 L82.75,479.00 L83.25,479.04 L83.75,479.06 L84.25,479.06 L84.75,479.04 L85.25,479.00 L85.50,478.98 L86.00,478.92 L86.50,478.87 L87.00,478.84 L87.50,478.82 L88.00,478.81 L88.50,478.83 L89.00,478.86 L89.50,478.91 L90.00,478.98 L90.25,479.01 L90.75,479.09 L91.25,479.18 L91.55,479.25 L92.00,479.34 L92.50,479.47 L92.75,479.54 L93.25,479.69 L93.50,479.78 L94.00,479.97 L94.25,480.07 L94.62,480.25 L95.00,480.45 L95.25,480.59 L95.50,480.76 L95.86,481.00 L96.19,481.25 L96.50,481.49 L96.75,481.69 L97.00,481.87 L97.25,482.03 L97.75,482.24 L98.00,482.29 L98.50,482.33 L99.00,482.34 L99.50,482.37 L100.00,482.45 L100.25,482.52 L100.75,482.73 L101.00,482.86 L101.25,483.03 L101.51,483.25 L101.76,483.50 L102.00,483.78 L102.25,484.15 L102.45,484.50 L102.56,484.75 L102.73,485.25 L102.80,485.50 L102.90,486.00 L102.96,486.50 L102.98,487.00 L102.97,487.50 L102.95,488.00 L102.93,488.50 L102.91,489.00 L102.92,489.50 L102.95,490.00 L102.98,490.50 L103.00,490.82 L103.03,491.25 L103.04,491.75 L103.02,492.25 L103.00,492.62 L102.97,493.00 L102.92,493.50 L102.85,494.00 L102.78,494.50 L102.75,494.75 L102.70,495.25 L102.66,495.75 L102.65,496.25 L102.66,496.75 L102.68,497.25 L102.71,497.75 L102.74,498.25 L102.76,498.50 L102.78,499.00 L102.80,499.50 L102.80,500.00 L102.79,500.50 L102.77,501.00 L102.75,501.27 L102.71,501.75 L102.66,502.25 L102.58,502.75 L102.50,503.20 L102.44,503.50 L102.33,504.00 L102.25,504.31 L102.13,504.75 L102.00,505.15 L101.89,505.50 L101.75,505.85 L101.59,506.25 L101.48,506.50 L101.25,506.97 L101.11,507.25 L100.96,507.50 L100.75,507.85 L100.50,508.23 L100.30,508.50 L100.11,508.75 L99.89,509.00 L99.66,509.25 L99.41,509.50 L99.12,509.75 L98.80,510.00 L98.50,510.21 L98.25,510.36 L97.98,510.50 L97.50,510.71 L97.25,510.79Z" fill="#1c1c86" />
<path d="M97.00,507.82 L96.50,507.94 L96.00,507.98 L95.50,507.94 L95.00,507.82 L94.75,507.72 L94.31,507.50 L94.00,507.30 L93.75,507.11 L93.50,506.89 L93.25,506.63 L93.00,506.34 L92.75,506.01 L92.57,505.75 L92.42,505.50 L92.25,505.20 L92.03,504.75 L91.92,504.50 L91.75,504.07 L91.64,503.75 L91.50,503.29 L91.42,503.00 L91.31,502.50 L91.25,502.19 L91.18,501.75 L91.12,501.25 L91.08,500.75 L91.06,500.25 L91.06,499.75 L91.08,499.25 L91.11,498.75 L91.17,498.25 L91.24,497.75 L91.28,497.50 L91.36,497.00 L91.46,496.50 L91.50,496.25 L91.56,495.75 L91.58,495.25 L91.51,494.75 L91.42,494.50 L91.25,494.15 L91.00,493.80 L90.75,493.56 L90.50,493.38 L90.25,493.24 L89.75,493.13 L89.25,493.17 L88.94,493.25 L88.50,493.40 L88.23,493.50 L87.75,493.67 L87.49,493.75 L87.00,493.88 L86.50,493.97 L86.25,494.00 L85.75,494.04 L85.25,494.03 L84.87,494.00 L84.50,493.95 L84.00,493.83 L83.75,493.75 L83.25,493.55 L83.00,493.42 L82.71,493.25 L82.37,493.00 L82.10,492.75 L81.87,492.50 L81.67,492.25 L81.50,491.99 L81.25,491.56 L81.07,491.25 L80.91,491.00 L80.73,490.75 L80.50,490.49 L80.24,490.25 L79.93,490.00 L79.59,489.75 L79.25,489.51 L79.00,489.32 L78.75,489.12 L78.50,488.91 L78.25,488.67 L78.00,488.41 L77.75,488.10 L77.50,487.75 L77.35,487.50 L77.22,487.25 L77.02,486.75 L76.93,486.50 L76.82,486.00 L76.76,485.50 L76.76,485.00 L76.80,484.50 L76.91,484.00 L77.00,483.71 L77.18,483.25 L77.31,483.00 L77.50,482.69 L77.75,482.34 L78.00,482.05 L78.25,481.81 L78.50,481.60 L78.75,481.42 L79.04,481.25 L79.50,481.03 L79.75,480.93 L80.25,480.79 L80.50,480.74 L81.00,480.68 L81.50,480.66 L82.00,480.68 L82.50,480.72 L82.75,480.75 L83.25,480.80 L83.75,480.83 L84.25,480.84 L84.75,480.81 L85.25,480.76 L85.50,480.72 L86.00,480.65 L86.50,480.58 L87.00,480.53 L87.49,480.50 L87.75,480.49 L88.25,480.49 L88.50,480.50 L89.00,480.53 L89.50,480.58 L90.00,480.64 L90.50,480.72 L90.75,480.77 L91.25,480.86 L91.75,480.98 L92.00,481.04 L92.50,481.18 L92.75,481.27 L93.25,481.45 L93.50,481.56 L93.89,481.75 L94.25,481.95 L94.50,482.10 L94.75,482.27 L95.06,482.50 L95.37,482.75 L95.65,483.00 L95.93,483.25 L96.20,483.50 L96.50,483.75 L96.75,483.92 L97.00,484.05 L97.50,484.18 L98.00,484.15 L98.50,484.05 L98.81,484.00 L99.25,483.96 L99.63,484.00 L100.00,484.09 L100.34,484.25 L100.69,484.50 L100.94,484.75 L101.13,485.00 L101.28,485.25 L101.48,485.75 L101.55,486.00 L101.63,486.50 L101.64,487.00 L101.61,487.50 L101.54,488.00 L101.50,488.25 L101.42,488.75 L101.37,489.25 L101.35,489.75 L101.36,490.25 L101.39,490.75 L101.41,491.25 L101.41,491.75 L101.38,492.25 L101.33,492.75 L101.25,493.25 L101.21,493.50 L101.11,494.00 L101.00,494.47 L100.95,494.75 L100.86,495.25 L100.79,495.75 L100.76,496.25 L100.76,496.75 L100.79,497.25 L100.83,497.75 L100.87,498.25 L100.91,498.75 L100.94,499.25 L100.95,499.75 L100.94,500.25 L100.92,500.75 L100.88,501.25 L100.82,501.75 L100.75,502.20 L100.69,502.50 L100.58,503.00 L100.50,503.29 L100.36,503.75 L100.25,504.07 L100.08,504.50 L99.97,504.75 L99.75,505.20 L99.58,505.50 L99.43,505.75 L99.25,506.01 L99.00,506.34 L98.75,506.63 L98.50,506.89 L98.25,507.11 L98.00,507.30 L97.69,507.50 L97.25,507.72 L97.00,507.82Z" fill="#2c38c0" />
<path d="M96.00,506.51 L95.75,506.49 L95.25,506.39 L94.89,506.25 L94.50,506.04 L94.25,505.86 L94.00,505.65 L93.75,505.40 L93.50,505.10 L93.25,504.75 L93.09,504.50 L92.95,504.25 L92.75,503.84 L92.60,503.50 L92.50,503.22 L92.35,502.75 L92.25,502.37 L92.17,502.00 L92.08,501.50 L92.02,501.00 L92.00,500.75 L91.97,500.25 L91.97,499.75 L92.00,499.25 L92.01,499.00 L92.07,498.50 L92.14,498.00 L92.24,497.50 L92.29,497.25 L92.40,496.75 L92.50,496.30 L92.55,496.00 L92.61,495.50 L92.58,495.00 L92.50,494.63 L92.35,494.25 L92.22,494.00 L92.00,493.68 L91.75,493.36 L91.50,493.08 L91.25,492.82 L91.00,492.59 L90.75,492.39 L90.50,492.21 L90.12,492.00 L89.75,491.87 L89.25,491.83 L88.75,491.91 L88.49,492.00 L88.00,492.21 L87.75,492.33 L87.36,492.50 L87.00,492.63 L86.60,492.75 L86.25,492.82 L85.75,492.86 L85.25,492.84 L84.75,492.75 L84.50,492.68 L84.10,492.50 L83.75,492.28 L83.50,492.05 L83.25,491.76 L83.09,491.50 L82.96,491.25 L82.75,490.75 L82.63,490.50 L82.48,490.25 L82.25,489.99 L81.95,489.75 L81.50,489.51 L81.25,489.40 L80.90,489.25 L80.50,489.08 L80.25,488.97 L79.84,488.75 L79.50,488.55 L79.25,488.38 L79.00,488.18 L78.75,487.95 L78.50,487.68 L78.25,487.35 L78.04,487.00 L77.91,486.75 L77.75,486.30 L77.67,486.00 L77.59,485.50 L77.59,485.00 L77.65,484.50 L77.75,484.11 L77.88,483.75 L78.00,483.50 L78.25,483.08 L78.50,482.76 L78.75,482.51 L79.00,482.29 L79.25,482.12 L79.50,481.97 L80.00,481.75 L80.25,481.67 L80.75,481.56 L81.25,481.51 L81.75,481.52 L82.25,481.56 L82.75,481.61 L83.25,481.68 L83.75,481.72 L84.25,481.72 L84.75,481.68 L85.25,481.61 L85.75,481.52 L86.00,481.48 L86.50,481.40 L87.00,481.33 L87.50,481.29 L88.00,481.27 L88.50,481.28 L89.00,481.31 L89.50,481.36 L90.00,481.42 L90.48,481.50 L90.75,481.55 L91.25,481.65 L91.66,481.75 L92.00,481.84 L92.49,482.00 L92.75,482.09 L93.13,482.25 L93.50,482.43 L93.75,482.56 L94.06,482.75 L94.42,483.00 L94.75,483.25 L95.00,483.46 L95.25,483.68 L95.50,483.92 L95.75,484.15 L96.00,484.38 L96.25,484.59 L96.50,484.78 L96.87,485.00 L97.25,485.14 L97.75,485.18 L98.25,485.08 L98.55,485.00 L99.00,484.91 L99.50,484.91 L99.81,485.00 L100.22,485.25 L100.46,485.50 L100.62,485.75 L100.75,486.06 L100.85,486.50 L100.88,487.00 L100.84,487.50 L100.75,487.99 L100.70,488.25 L100.61,488.75 L100.56,489.25 L100.55,489.75 L100.57,490.25 L100.60,490.75 L100.62,491.25 L100.62,491.75 L100.59,492.25 L100.52,492.75 L100.47,493.00 L100.36,493.50 L100.25,493.93 L100.16,494.25 L100.03,494.75 L99.97,495.00 L99.87,495.50 L99.81,496.00 L99.80,496.50 L99.82,497.00 L99.86,497.50 L99.92,498.00 L99.96,498.50 L100.00,498.96 L100.02,499.25 L100.03,499.75 L100.03,500.25 L100.00,500.75 L99.98,501.00 L99.92,501.50 L99.83,502.00 L99.75,502.37 L99.65,502.75 L99.50,503.22 L99.40,503.50 L99.25,503.84 L99.05,504.25 L98.91,504.50 L98.75,504.75 L98.50,505.10 L98.25,505.40 L98.00,505.65 L97.75,505.86 L97.50,506.04 L97.11,506.25 L96.75,506.39 L96.25,506.49 L96.00,506.51Z" fill="#4a90e0" />
<path d="M96.75,504.85 L96.25,504.98 L95.75,504.98 L95.25,504.85 L95.00,504.73 L94.66,504.50 L94.38,504.25 L94.15,504.00 L93.96,503.75 L93.75,503.42 L93.53,503.00 L93.42,502.75 L93.25,502.28 L93.17,502.00 L93.05,501.50 L93.00,501.21 L92.94,500.75 L92.91,500.25 L92.91,499.75 L92.94,499.25 L92.99,498.75 L93.03,498.50 L93.13,498.00 L93.25,497.50 L93.32,497.25 L93.46,496.75 L93.52,496.50 L93.63,496.00 L93.68,495.50 L93.63,495.00 L93.50,494.59 L93.33,494.25 L93.17,494.00 L92.98,493.75 L92.75,493.47 L92.50,493.19 L92.25,492.92 L92.00,492.66 L91.75,492.39 L91.50,492.13 L91.25,491.87 L91.00,491.62 L90.75,491.39 L90.50,491.18 L90.25,490.99 L89.83,490.75 L89.50,490.62 L89.00,490.50 L88.75,490.48 L88.25,490.46 L87.75,490.49 L87.50,490.51 L87.00,490.56 L86.50,490.56 L86.16,490.50 L85.75,490.33 L85.50,490.15 L85.25,489.92 L85.00,489.67 L84.75,489.42 L84.50,489.20 L84.24,489.00 L83.80,488.75 L83.50,488.63 L83.04,488.50 L82.75,488.45 L82.25,488.39 L81.75,488.33 L81.31,488.25 L81.00,488.18 L80.50,488.02 L80.25,487.92 L79.94,487.75 L79.58,487.50 L79.30,487.25 L79.08,487.00 L78.90,486.75 L78.75,486.48 L78.56,486.00 L78.50,485.74 L78.45,485.25 L78.49,484.75 L78.54,484.50 L78.72,484.00 L78.86,483.75 L79.03,483.50 L79.25,483.24 L79.52,483.00 L79.91,482.75 L80.25,482.59 L80.53,482.50 L81.00,482.41 L81.50,482.38 L82.00,482.41 L82.50,482.47 L82.75,482.51 L83.25,482.59 L83.75,482.64 L84.25,482.64 L84.75,482.58 L85.16,482.50 L85.50,482.42 L86.00,482.31 L86.27,482.25 L86.75,482.16 L87.25,482.09 L87.75,482.04 L88.25,482.03 L88.75,482.04 L89.25,482.08 L89.75,482.13 L90.25,482.21 L90.50,482.25 L91.00,482.35 L91.50,482.47 L91.75,482.54 L92.25,482.70 L92.50,482.79 L92.97,483.00 L93.25,483.14 L93.50,483.28 L93.84,483.50 L94.19,483.75 L94.50,484.00 L94.75,484.21 L95.00,484.43 L95.25,484.65 L95.50,484.88 L95.75,485.10 L96.00,485.31 L96.25,485.51 L96.60,485.75 L97.00,485.99 L97.25,486.10 L97.72,486.25 L98.00,486.29 L98.50,486.26 L98.75,486.23 L99.21,486.25 L99.50,486.40 L99.72,486.75 L99.78,487.00 L99.78,487.50 L99.75,487.82 L99.70,488.25 L99.68,488.75 L99.69,489.25 L99.73,489.75 L99.76,490.00 L99.81,490.50 L99.85,491.00 L99.86,491.50 L99.83,492.00 L99.76,492.50 L99.71,492.75 L99.58,493.25 L99.50,493.51 L99.33,494.00 L99.24,494.25 L99.06,494.75 L98.97,495.00 L98.84,495.50 L98.77,496.00 L98.76,496.50 L98.80,497.00 L98.86,497.50 L98.94,498.00 L99.00,498.46 L99.04,498.75 L99.08,499.25 L99.10,499.75 L99.09,500.25 L99.06,500.75 L99.00,501.21 L98.95,501.50 L98.83,502.00 L98.75,502.28 L98.58,502.75 L98.47,503.00 L98.25,503.42 L98.04,503.75 L97.85,504.00 L97.62,504.25 L97.34,504.50 L97.00,504.73 L96.75,504.85Z" fill="#70c8e8" />
<path d="M96.25,494.50 L96.00,494.46 L95.52,494.25 L95.25,494.10 L95.00,493.94 L94.73,493.75 L94.38,493.50 L94.03,493.25 L93.75,493.05 L93.50,492.85 L93.25,492.65 L93.00,492.43 L92.75,492.20 L92.50,491.95 L92.25,491.68 L92.00,491.39 L91.75,491.08 L91.50,490.76 L91.30,490.50 L91.10,490.25 L90.89,490.00 L90.65,489.75 L90.36,489.50 L90.00,489.25 L89.75,489.12 L89.49,489.00 L89.00,488.83 L88.74,488.75 L88.25,488.61 L87.86,488.50 L87.50,488.38 L87.14,488.25 L86.75,488.08 L86.50,487.95 L86.16,487.75 L85.78,487.50 L85.50,487.30 L85.25,487.10 L85.00,486.90 L84.75,486.70 L84.49,486.50 L84.12,486.25 L83.75,486.08 L83.25,486.06 L82.75,486.18 L82.50,486.25 L82.00,486.34 L81.50,486.35 L81.08,486.25 L80.75,486.07 L80.50,485.81 L80.35,485.50 L80.34,485.00 L80.50,484.65 L80.75,484.40 L81.04,484.25 L81.50,484.17 L82.00,484.23 L82.25,484.30 L82.75,484.49 L83.00,484.61 L83.41,484.75 L83.75,484.81 L84.05,484.75 L84.50,484.58 L84.75,484.44 L85.09,484.25 L85.50,484.03 L85.75,483.90 L86.08,483.75 L86.50,483.59 L86.76,483.50 L87.25,483.38 L87.75,483.29 L88.25,483.26 L88.50,483.25 L88.75,483.25 L89.25,483.28 L89.75,483.33 L90.25,483.40 L90.75,483.50 L91.00,483.55 L91.50,483.69 L91.75,483.77 L92.25,483.96 L92.50,484.08 L92.83,484.25 L93.25,484.50 L93.50,484.66 L93.75,484.84 L94.00,485.02 L94.31,485.25 L94.65,485.50 L94.98,485.75 L95.25,485.95 L95.50,486.13 L95.75,486.32 L96.00,486.51 L96.32,486.75 L96.63,487.00 L96.93,487.25 L97.20,487.50 L97.45,487.75 L97.67,488.00 L97.86,488.25 L98.01,488.50 L98.25,489.00 L98.34,489.25 L98.49,489.75 L98.54,490.00 L98.62,490.50 L98.66,491.00 L98.64,491.50 L98.57,492.00 L98.50,492.26 L98.32,492.75 L98.20,493.00 L98.00,493.33 L97.75,493.66 L97.50,493.92 L97.25,494.14 L97.00,494.31 L96.50,494.49 L96.25,494.50Z M96.25,501.84 L95.75,501.84 L95.50,501.70 L95.25,501.44 L95.01,501.00 L94.93,500.75 L94.84,500.25 L94.83,499.75 L94.90,499.25 L95.00,498.89 L95.17,498.50 L95.33,498.25 L95.55,498.00 L96.00,497.77 L96.50,497.97 L96.74,498.25 L96.87,498.50 L97.00,498.80 L97.12,499.25 L97.18,499.75 L97.16,500.25 L97.07,500.75 L96.99,501.00 L96.75,501.45 L96.50,501.70 L96.25,501.84Z" fill="#7cc660" />
<path d="M96.00,492.27 L95.50,492.33 L95.00,492.28 L94.75,492.21 L94.25,492.02 L94.00,491.89 L93.75,491.73 L93.45,491.50 L93.17,491.25 L92.94,491.00 L92.74,490.75 L92.50,490.40 L92.27,490.00 L92.15,489.75 L92.00,489.42 L91.82,489.00 L91.72,488.75 L91.50,488.25 L91.37,488.00 L91.23,487.75 L91.00,487.43 L90.75,487.16 L90.50,486.95 L90.22,486.75 L89.87,486.50 L89.59,486.25 L89.50,486.00 L89.75,485.81 L90.00,485.74 L90.50,485.74 L90.75,485.77 L91.25,485.86 L91.75,485.98 L92.00,486.04 L92.50,486.18 L92.75,486.25 L93.25,486.40 L93.56,486.50 L94.00,486.65 L94.25,486.75 L94.75,486.99 L95.00,487.12 L95.25,487.27 L95.58,487.50 L95.89,487.75 L96.15,488.00 L96.38,488.25 L96.57,488.50 L96.75,488.78 L96.98,489.25 L97.07,489.50 L97.19,490.00 L97.22,490.50 L97.16,491.00 L97.00,491.45 L96.80,491.75 L96.55,492.00 L96.25,492.18 L96.00,492.27Z" fill="#ece43c" />
<path d="M95.25,491.53 L94.81,491.50 L94.50,491.42 L94.12,491.25 L93.75,491.00 L93.50,490.78 L93.26,490.50 L93.09,490.25 L92.95,490.00 L92.75,489.51 L92.68,489.25 L92.61,488.75 L92.65,488.25 L92.75,487.97 L93.00,487.69 L93.47,487.50 L93.75,487.48 L94.01,487.50 L94.50,487.62 L94.82,487.75 L95.25,488.00 L95.50,488.19 L95.75,488.43 L96.00,488.73 L96.17,489.00 L96.29,489.25 L96.44,489.75 L96.47,490.25 L96.35,490.75 L96.22,491.00 L95.99,491.25 L95.50,491.49 L95.25,491.53Z" fill="#f2a02a" />
<path d="M95.25,490.82 L94.75,490.86 L94.36,490.75 L94.00,490.53 L93.75,490.28 L93.55,490.00 L93.43,489.75 L93.31,489.25 L93.37,488.75 L93.51,488.50 L93.93,488.25 L94.25,488.22 L94.50,488.26 L95.00,488.48 L95.25,488.68 L95.50,488.95 L95.68,489.25 L95.78,489.50 L95.83,490.00 L95.75,490.34 L95.50,490.68 L95.25,490.82Z" fill="#e03020" />
<path d="M163.00,511.83 L162.50,511.95 L162.00,511.98 L161.50,511.96 L161.00,511.91 L160.50,511.85 L160.00,511.81 L159.50,511.78 L159.00,511.76 L158.75,511.74 L158.25,511.68 L157.75,511.57 L157.50,511.48 L157.00,511.26 L156.75,511.13 L156.50,510.96 L156.24,510.75 L155.96,510.50 L155.72,510.25 L155.50,509.98 L155.25,509.63 L155.02,509.25 L154.88,509.00 L154.75,508.71 L154.56,508.25 L154.48,508.00 L154.33,507.50 L154.25,507.10 L154.18,506.75 L154.12,506.25 L154.09,505.75 L154.09,505.25 L154.11,504.75 L154.17,504.25 L154.25,503.81 L154.31,503.50 L154.43,503.00 L154.50,502.75 L154.64,502.25 L154.75,501.90 L154.85,501.50 L154.96,501.00 L155.00,500.64 L155.00,500.29 L154.97,500.00 L154.85,499.50 L154.75,499.19 L154.57,498.75 L154.47,498.50 L154.25,498.00 L154.14,497.75 L154.00,497.39 L153.85,497.00 L153.75,496.70 L153.60,496.25 L153.50,495.85 L153.41,495.50 L153.30,495.00 L153.25,494.71 L153.17,494.25 L153.09,493.75 L153.02,493.25 L152.97,493.00 L152.85,492.50 L152.75,492.22 L152.50,491.81 L152.25,491.57 L152.00,491.41 L151.66,491.25 L151.25,491.11 L150.87,491.00 L150.50,490.90 L150.00,490.75 L149.75,490.68 L149.25,490.51 L149.00,490.41 L148.61,490.25 L148.25,490.09 L148.00,489.97 L147.60,489.75 L147.25,489.55 L147.00,489.40 L146.75,489.23 L146.42,489.00 L146.08,488.75 L145.77,488.50 L145.50,488.27 L145.25,488.04 L145.00,487.79 L144.75,487.52 L144.52,487.25 L144.33,487.00 L144.16,486.75 L144.00,486.50 L143.75,486.03 L143.62,485.75 L143.50,485.42 L143.37,485.00 L143.27,484.50 L143.25,484.25 L143.22,483.75 L143.25,483.32 L143.29,483.00 L143.40,482.50 L143.50,482.21 L143.69,481.75 L143.82,481.50 L144.00,481.23 L144.25,480.89 L144.50,480.61 L144.75,480.37 L145.00,480.17 L145.25,480.00 L145.69,479.75 L146.00,479.60 L146.30,479.50 L146.75,479.37 L147.25,479.29 L147.75,479.26 L148.25,479.27 L148.75,479.31 L149.25,479.39 L149.75,479.48 L150.00,479.53 L150.50,479.62 L151.00,479.69 L151.50,479.75 L151.75,479.76 L152.25,479.79 L152.75,479.80 L153.25,479.83 L153.75,479.86 L154.25,479.91 L154.75,479.98 L155.00,480.02 L155.50,480.11 L156.00,480.23 L156.25,480.30 L156.75,480.45 L157.00,480.54 L157.50,480.72 L157.75,480.82 L158.18,481.00 L158.50,481.14 L158.75,481.26 L159.22,481.50 L159.50,481.65 L159.75,481.79 L160.12,482.00 L160.50,482.24 L160.75,482.40 L161.00,482.57 L161.25,482.75 L161.59,483.00 L161.89,483.25 L162.18,483.50 L162.45,483.75 L162.70,484.00 L162.94,484.25 L163.16,484.50 L163.37,484.75 L163.58,485.00 L163.77,485.25 L164.00,485.57 L164.25,485.92 L164.48,486.25 L164.65,486.50 L164.82,486.75 L165.00,487.01 L165.25,487.35 L165.50,487.68 L165.75,487.99 L165.97,488.25 L166.19,488.50 L166.42,488.75 L166.64,489.00 L166.87,489.25 L167.08,489.50 L167.28,489.75 L167.50,490.03 L167.75,490.38 L167.99,490.75 L168.14,491.00 L168.28,491.25 L168.50,491.71 L168.63,492.00 L168.75,492.31 L168.91,492.75 L169.00,493.07 L169.13,493.50 L169.25,493.91 L169.39,494.25 L169.52,494.50 L169.75,494.76 L170.18,495.00 L170.50,495.09 L171.00,495.17 L171.50,495.22 L171.83,495.25 L172.25,495.29 L172.75,495.34 L173.25,495.42 L173.66,495.50 L174.00,495.57 L174.50,495.72 L174.75,495.81 L175.20,496.00 L175.50,496.17 L175.75,496.36 L176.00,496.65 L176.11,497.00 L176.00,497.35 L175.75,497.64 L175.50,497.83 L175.20,498.00 L174.75,498.19 L174.50,498.28 L174.00,498.43 L173.66,498.50 L173.25,498.58 L172.75,498.66 L172.25,498.71 L171.76,498.75 L171.50,498.77 L171.00,498.81 L170.50,498.86 L170.00,498.95 L169.75,499.02 L169.32,499.25 L169.04,499.50 L168.84,499.75 L168.68,500.00 L168.50,500.31 L168.25,500.75 L168.12,501.00 L167.96,501.25 L167.75,501.59 L167.50,501.97 L167.33,502.25 L167.19,502.50 L167.00,502.86 L166.85,503.25 L166.75,503.52 L166.63,504.00 L166.53,504.50 L166.48,504.75 L166.41,505.25 L166.34,505.75 L166.25,506.21 L166.21,506.50 L166.11,507.00 L166.00,507.45 L165.93,507.75 L165.78,508.25 L165.70,508.50 L165.52,509.00 L165.41,509.25 L165.25,509.59 L165.03,510.00 L164.88,510.25 L164.71,510.50 L164.50,510.76 L164.25,511.04 L164.00,511.26 L163.68,511.50 L163.25,511.73 L163.00,511.83Z" fill="#1c1c86" />
<path d="M162.50,509.79 L162.00,509.91 L161.50,509.95 L161.00,509.94 L160.50,509.92 L160.00,509.91 L159.50,509.90 L159.00,509.87 L158.50,509.81 L158.23,509.75 L157.75,509.59 L157.50,509.47 L157.16,509.25 L156.86,509.00 L156.61,508.75 L156.41,508.50 L156.24,508.25 L156.00,507.80 L155.86,507.50 L155.75,507.16 L155.63,506.75 L155.54,506.25 L155.50,505.75 L155.49,505.50 L155.50,505.17 L155.53,504.75 L155.60,504.25 L155.72,503.75 L155.78,503.50 L155.94,503.00 L156.03,502.75 L156.20,502.25 L156.28,502.00 L156.42,501.50 L156.50,501.10 L156.54,500.75 L156.55,500.25 L156.52,499.75 L156.49,499.50 L156.39,499.00 L156.26,498.50 L156.17,498.25 L156.00,497.76 L155.89,497.50 L155.75,497.13 L155.59,496.75 L155.50,496.49 L155.32,496.00 L155.24,495.75 L155.09,495.25 L155.00,494.88 L154.91,494.50 L154.83,494.00 L154.76,493.50 L154.74,493.25 L154.70,492.75 L154.67,492.25 L154.64,491.75 L154.60,491.25 L154.52,490.75 L154.45,490.50 L154.25,490.08 L154.00,489.80 L153.75,489.63 L153.48,489.50 L153.00,489.36 L152.53,489.25 L152.25,489.20 L151.75,489.09 L151.38,489.00 L151.00,488.90 L150.55,488.75 L150.25,488.64 L149.91,488.50 L149.50,488.31 L149.25,488.18 L148.92,488.00 L148.50,487.75 L148.25,487.60 L148.00,487.44 L147.71,487.25 L147.35,487.00 L147.01,486.75 L146.75,486.55 L146.50,486.33 L146.25,486.08 L146.00,485.80 L145.78,485.50 L145.62,485.25 L145.50,485.00 L145.31,484.50 L145.25,484.18 L145.21,483.75 L145.25,483.35 L145.33,483.00 L145.50,482.58 L145.70,482.25 L145.91,482.00 L146.19,481.75 L146.50,481.54 L146.75,481.42 L147.25,481.25 L147.50,481.21 L148.00,481.18 L148.50,481.21 L148.75,481.25 L149.25,481.35 L149.75,481.47 L150.00,481.53 L150.50,481.64 L151.00,481.71 L151.48,481.75 L151.75,481.76 L152.25,481.78 L152.75,481.79 L153.25,481.82 L153.75,481.86 L154.25,481.94 L154.57,482.00 L155.00,482.10 L155.48,482.25 L155.75,482.35 L156.13,482.50 L156.50,482.67 L156.75,482.80 L157.11,483.00 L157.50,483.23 L157.75,483.39 L158.00,483.55 L158.31,483.75 L158.69,484.00 L159.00,484.20 L159.25,484.35 L159.50,484.51 L159.88,484.75 L160.25,484.98 L160.50,485.14 L160.75,485.32 L161.00,485.50 L161.32,485.75 L161.61,486.00 L161.88,486.25 L162.13,486.50 L162.35,486.75 L162.57,487.00 L162.77,487.25 L163.00,487.56 L163.25,487.90 L163.49,488.25 L163.67,488.50 L163.84,488.75 L164.02,489.00 L164.25,489.31 L164.50,489.61 L164.75,489.90 L165.00,490.16 L165.25,490.42 L165.50,490.67 L165.75,490.92 L166.00,491.18 L166.25,491.47 L166.47,491.75 L166.66,492.00 L166.82,492.25 L167.00,492.56 L167.22,493.00 L167.33,493.25 L167.50,493.73 L167.59,494.00 L167.73,494.50 L167.81,494.75 L167.97,495.25 L168.06,495.50 L168.25,495.93 L168.42,496.25 L168.53,496.50 L168.62,497.00 L168.50,497.30 L168.25,497.67 L168.00,498.00 L167.81,498.25 L167.63,498.50 L167.46,498.75 L167.25,499.07 L167.00,499.46 L166.82,499.75 L166.66,500.00 L166.50,500.25 L166.25,500.67 L166.08,501.00 L165.96,501.25 L165.79,501.75 L165.72,502.00 L165.61,502.50 L165.53,503.00 L165.49,503.25 L165.43,503.75 L165.37,504.25 L165.30,504.75 L165.25,505.05 L165.18,505.50 L165.08,506.00 L165.00,506.29 L164.88,506.75 L164.75,507.13 L164.61,507.50 L164.50,507.75 L164.25,508.23 L164.09,508.50 L163.91,508.75 L163.70,509.00 L163.44,509.25 L163.11,509.50 L162.75,509.70 L162.50,509.79Z" fill="#2c38c0" />
<path d="M161.50,509.02 L161.00,509.03 L160.50,509.01 L160.19,509.00 L159.75,508.98 L159.25,508.96 L158.75,508.90 L158.25,508.77 L158.00,508.68 L157.68,508.50 L157.35,508.25 L157.10,508.00 L156.90,507.75 L156.74,507.50 L156.50,507.00 L156.41,506.75 L156.29,506.25 L156.25,505.97 L156.21,505.50 L156.23,505.00 L156.25,504.75 L156.33,504.25 L156.46,503.75 L156.53,503.50 L156.69,503.00 L156.77,502.75 L156.92,502.25 L157.00,501.94 L157.08,501.50 L157.14,501.00 L157.16,500.50 L157.15,500.00 L157.11,499.50 L157.05,499.00 L157.00,498.70 L156.90,498.25 L156.77,497.75 L156.69,497.50 L156.52,497.00 L156.43,496.75 L156.25,496.25 L156.16,496.00 L156.00,495.50 L155.92,495.25 L155.79,494.75 L155.73,494.50 L155.63,494.00 L155.56,493.50 L155.52,493.00 L155.50,492.58 L155.49,492.25 L155.50,491.75 L155.50,491.50 L155.52,491.00 L155.53,490.50 L155.53,490.00 L155.50,489.62 L155.43,489.25 L155.25,488.85 L155.00,488.59 L154.75,488.44 L154.25,488.29 L154.00,488.24 L153.50,488.18 L153.00,488.13 L152.50,488.06 L152.17,488.00 L151.75,487.90 L151.25,487.75 L151.00,487.66 L150.64,487.50 L150.25,487.30 L150.00,487.16 L149.73,487.00 L149.33,486.75 L149.00,486.53 L148.75,486.37 L148.50,486.20 L148.20,486.00 L147.84,485.75 L147.52,485.50 L147.25,485.25 L147.03,485.00 L146.85,484.75 L146.72,484.50 L146.59,484.00 L146.63,483.50 L146.75,483.19 L147.00,482.87 L147.25,482.68 L147.73,482.50 L148.00,482.46 L148.50,482.48 L148.75,482.52 L149.25,482.63 L149.75,482.75 L150.00,482.81 L150.50,482.88 L151.00,482.92 L151.50,482.93 L152.00,482.92 L152.50,482.92 L153.00,482.93 L153.50,482.97 L153.75,483.01 L154.25,483.11 L154.73,483.25 L155.00,483.35 L155.34,483.50 L155.75,483.72 L156.00,483.88 L156.25,484.05 L156.52,484.25 L156.82,484.50 L157.12,484.75 L157.42,485.00 L157.75,485.24 L158.00,485.40 L158.25,485.54 L158.70,485.75 L159.00,485.87 L159.30,486.00 L159.75,486.19 L160.00,486.31 L160.35,486.50 L160.75,486.74 L161.00,486.92 L161.25,487.12 L161.50,487.34 L161.75,487.58 L162.00,487.85 L162.25,488.15 L162.50,488.47 L162.70,488.75 L162.87,489.00 L163.04,489.25 L163.25,489.56 L163.50,489.93 L163.73,490.25 L163.93,490.50 L164.14,490.75 L164.38,491.00 L164.62,491.25 L164.88,491.50 L165.14,491.75 L165.39,492.00 L165.63,492.25 L165.84,492.50 L166.03,492.75 L166.25,493.09 L166.47,493.50 L166.59,493.75 L166.75,494.17 L166.86,494.50 L167.00,495.00 L167.06,495.25 L167.18,495.75 L167.25,496.14 L167.29,496.50 L167.26,497.00 L167.20,497.25 L167.00,497.74 L166.86,498.00 L166.72,498.25 L166.50,498.60 L166.25,498.98 L166.08,499.25 L165.93,499.50 L165.75,499.80 L165.53,500.25 L165.44,500.50 L165.28,501.00 L165.22,501.25 L165.14,501.75 L165.07,502.25 L165.01,502.75 L164.98,503.00 L164.93,503.50 L164.88,504.00 L164.81,504.50 L164.75,504.83 L164.67,505.25 L164.56,505.75 L164.49,506.00 L164.33,506.50 L164.23,506.75 L164.00,507.25 L163.87,507.50 L163.71,507.75 L163.50,508.02 L163.25,508.29 L163.00,508.50 L162.60,508.75 L162.25,508.89 L161.75,509.00 L161.50,509.02Z" fill="#4a90e0" />
<path d="M154.00,486.28 L153.50,486.42 L153.00,486.44 L152.50,486.35 L152.20,486.25 L151.78,486.00 L151.54,485.75 L151.42,485.50 L151.50,485.07 L151.75,484.85 L152.00,484.72 L152.50,484.60 L153.00,484.58 L153.50,484.66 L153.77,484.75 L154.17,485.00 L154.39,485.25 L154.50,485.50 L154.50,485.76 L154.25,486.12 L154.00,486.28Z M162.00,508.07 L161.50,508.16 L161.00,508.18 L160.50,508.15 L160.00,508.11 L159.50,508.05 L159.17,508.00 L158.75,507.91 L158.34,507.75 L158.00,507.55 L157.75,507.34 L157.50,507.04 L157.32,506.75 L157.21,506.50 L157.06,506.00 L157.00,505.59 L156.98,505.25 L157.00,504.90 L157.05,504.50 L157.14,504.00 L157.25,503.58 L157.33,503.25 L157.45,502.75 L157.51,502.50 L157.59,502.00 L157.65,501.50 L157.68,501.00 L157.69,500.50 L157.68,500.00 L157.65,499.50 L157.61,499.00 L157.55,498.50 L157.50,498.17 L157.42,497.75 L157.31,497.25 L157.24,497.00 L157.10,496.50 L157.00,496.17 L156.86,495.75 L156.75,495.36 L156.64,495.00 L156.52,494.50 L156.46,494.25 L156.38,493.75 L156.32,493.25 L156.29,492.75 L156.29,492.25 L156.31,491.75 L156.36,491.25 L156.44,490.75 L156.50,490.43 L156.60,490.00 L156.73,489.50 L156.81,489.25 L157.00,488.78 L157.14,488.50 L157.30,488.25 L157.52,488.00 L157.85,487.75 L158.25,487.58 L158.69,487.50 L159.00,487.49 L159.25,487.51 L159.75,487.61 L160.13,487.75 L160.50,487.93 L160.75,488.09 L161.00,488.28 L161.25,488.50 L161.50,488.75 L161.75,489.04 L162.00,489.37 L162.25,489.72 L162.43,490.00 L162.59,490.25 L162.75,490.51 L163.00,490.91 L163.23,491.25 L163.41,491.50 L163.61,491.75 L163.83,492.00 L164.07,492.25 L164.33,492.50 L164.59,492.75 L164.85,493.00 L165.08,493.25 L165.29,493.50 L165.50,493.80 L165.75,494.25 L165.86,494.50 L166.00,494.89 L166.10,495.25 L166.20,495.75 L166.25,496.25 L166.22,496.75 L166.10,497.25 L166.00,497.50 L165.75,497.98 L165.59,498.25 L165.44,498.50 L165.25,498.85 L165.07,499.25 L164.97,499.50 L164.83,500.00 L164.75,500.39 L164.70,500.75 L164.65,501.25 L164.60,501.75 L164.56,502.25 L164.52,502.75 L164.50,503.00 L164.45,503.50 L164.39,504.00 L164.31,504.50 L164.25,504.80 L164.15,505.25 L164.00,505.74 L163.91,506.00 L163.75,506.38 L163.56,506.75 L163.40,507.00 L163.21,507.25 L162.98,507.50 L162.67,507.75 L162.25,507.98 L162.00,508.07Z" fill="#70c8e8" />
<path d="M161.75,506.82 L161.25,506.89 L160.75,506.86 L160.25,506.75 L160.00,506.68 L159.56,506.50 L159.25,506.33 L159.00,506.14 L158.75,505.87 L158.54,505.50 L158.44,505.25 L158.35,504.75 L158.32,504.25 L158.33,503.75 L158.35,503.25 L158.38,502.75 L158.40,502.25 L158.41,501.75 L158.41,501.25 L158.41,500.75 L158.40,500.25 L158.40,499.75 L158.38,499.25 L158.37,498.75 L158.35,498.25 L158.32,497.75 L158.28,497.25 L158.25,496.93 L158.19,496.50 L158.11,496.00 L158.01,495.50 L157.95,495.25 L157.84,494.75 L157.75,494.31 L157.70,494.00 L157.63,493.50 L157.60,493.00 L157.61,492.50 L157.66,492.00 L157.75,491.58 L157.85,491.25 L158.00,490.89 L158.23,490.50 L158.44,490.25 L158.74,490.00 L159.00,489.87 L159.50,489.78 L160.00,489.88 L160.25,490.00 L160.60,490.25 L160.85,490.50 L161.06,490.75 L161.25,491.02 L161.50,491.44 L161.67,491.75 L161.79,492.00 L162.00,492.44 L162.14,492.75 L162.26,493.00 L162.50,493.47 L162.66,493.75 L162.80,494.00 L163.00,494.32 L163.25,494.70 L163.45,495.00 L163.59,495.25 L163.75,495.57 L163.91,496.00 L163.99,496.50 L164.00,496.75 L164.00,497.07 L163.98,497.50 L163.94,498.00 L163.92,498.50 L163.90,499.00 L163.90,499.50 L163.89,500.00 L163.90,500.50 L163.90,501.00 L163.89,501.50 L163.88,502.00 L163.86,502.50 L163.81,503.00 L163.75,503.50 L163.72,503.75 L163.62,504.25 L163.50,504.70 L163.40,505.00 L163.25,505.37 L163.05,505.75 L162.89,506.00 L162.68,506.25 L162.40,506.50 L162.00,506.74 L161.75,506.82Z" fill="#7cc660" />
<path d="M161.25,505.25 L161.00,505.22 L160.50,505.01 L160.25,504.81 L160.00,504.52 L159.83,504.25 L159.72,504.00 L159.55,503.50 L159.49,503.25 L159.40,502.75 L159.34,502.25 L159.30,501.75 L159.27,501.25 L159.26,500.75 L159.25,500.25 L159.27,499.75 L159.29,499.25 L159.34,498.75 L159.40,498.25 L159.48,497.75 L159.53,497.50 L159.66,497.00 L159.75,496.70 L159.96,496.25 L160.17,496.00 L160.50,495.86 L160.91,496.00 L161.25,496.25 L161.50,496.50 L161.71,496.75 L161.89,497.00 L162.05,497.25 L162.25,497.62 L162.42,498.00 L162.51,498.25 L162.67,498.75 L162.75,499.05 L162.85,499.50 L162.93,500.00 L162.99,500.50 L163.02,500.75 L163.05,501.25 L163.06,501.75 L163.04,502.25 L163.00,502.68 L162.96,503.00 L162.85,503.50 L162.75,503.84 L162.58,504.25 L162.44,504.50 L162.25,504.77 L162.00,505.00 L161.50,505.23 L161.25,505.25Z" fill="#ece43c" />
<path d="M161.75,504.09 L161.25,504.24 L160.75,504.05 L160.50,503.81 L160.29,503.50 L160.17,503.25 L160.00,502.77 L159.93,502.50 L159.84,502.00 L159.78,501.50 L159.75,501.00 L159.75,500.75 L159.75,500.50 L159.77,500.00 L159.83,499.50 L159.93,499.00 L160.00,498.71 L160.20,498.25 L160.37,498.00 L160.75,497.75 L160.76,497.75 L161.25,497.88 L161.50,498.09 L161.75,498.40 L161.95,498.75 L162.07,499.00 L162.25,499.48 L162.33,499.75 L162.44,500.25 L162.50,500.62 L162.54,501.00 L162.57,501.50 L162.56,502.00 L162.51,502.50 L162.46,502.75 L162.32,503.25 L162.21,503.50 L162.00,503.85 L161.75,504.09Z" fill="#f2a02a" />
<path d="M161.25,503.29 L161.00,503.21 L160.75,502.99 L160.50,502.56 L160.40,502.25 L160.28,501.75 L160.24,501.50 L160.21,501.00 L160.22,500.50 L160.25,500.17 L160.34,499.75 L160.50,499.33 L160.75,499.04 L161.00,498.97 L161.25,499.06 L161.50,499.29 L161.75,499.70 L161.86,500.00 L162.00,500.45 L162.06,500.75 L162.11,501.25 L162.11,501.75 L162.05,502.25 L161.99,502.50 L161.76,503.00 L161.50,503.23 L161.25,503.29Z" fill="#e03020" />
</g>
<rect x="63.5" y="419.5" width="16.0" height="8.0" fill="none" stroke="#111" stroke-width="0.9"/>
<rect x="79.5" y="419.5" width="6.0" height="8.0" fill="none" stroke="#111" stroke-width="0.9"/>
<rect x="85.5" y="419.5" width="11.0" height="8.0" fill="none" stroke="#111" stroke-width="0.9"/>
<rect x="88.5" y="427.5" width="13.0" height="6.0" fill="none" stroke="#111" stroke-width="0.9"/>
<rect x="91.5" y="433.5" width="11.0" height="15.0" fill="none" stroke="#111" stroke-width="0.9"/>
<rect x="128.5" y="418.5" width="17.0" height="8.0" fill="none" stroke="#111" stroke-width="0.9"/>
<rect x="145.5" y="418.5" width="5.0" height="8.0" fill="none" stroke="#111" stroke-width="0.9"/>
<rect x="150.5" y="418.5" width="11.0" height="8.0" fill="none" stroke="#111" stroke-width="0.9"/>
<rect x="156.5" y="426.5" width="11.0" height="7.0" fill="none" stroke="#111" stroke-width="0.9"/>
<rect x="156.5" y="433.5" width="11.0" height="15.0" fill="none" stroke="#111" stroke-width="0.9"/>
<rect x="62.5" y="480.5" width="17.0" height="10.0" fill="none" stroke="#111" stroke-width="0.9"/>
<rect x="79.5" y="480.5" width="5.0" height="10.0" fill="none" stroke="#111" stroke-width="0.9"/>
<rect x="84.5" y="480.5" width="11.0" height="10.0" fill="none" stroke="#111" stroke-width="0.9"/>
<rect x="88.5" y="490.5" width="12.0" height="7.0" fill="none" stroke="#111" stroke-width="0.9"/>
<rect x="90.5" y="497.5" width="11.0" height="18.0" fill="none" stroke="#111" stroke-width="0.9"/>
<rect x="128.5" y="480.5" width="16.0" height="9.0" fill="none" stroke="#111" stroke-width="0.9"/>
<rect x="144.5" y="480.5" width="6.0" height="9.0" fill="none" stroke="#111" stroke-width="0.9"/>
<rect x="150.5" y="480.5" width="11.0" height="9.0" fill="none" stroke="#111" stroke-width="0.9"/>
<rect x="154.5" y="489.5" width="12.0" height="7.0" fill="none" stroke="#111" stroke-width="0.9"/>
<rect x="156.5" y="496.5" width="11.0" height="18.0" fill="none" stroke="#111" stroke-width="0.9"/>
<text x="70.80" y="418.60" font-size="2.8" text-anchor="middle" fill="#333" textLength="4.01" lengthAdjust="spacingAndGlyphs" stroke="#333" stroke-width="0.05">Pro</text>
<text x="81.50" y="418.60" font-size="2.8" text-anchor="middle" fill="#333" textLength="3.44" lengthAdjust="spacingAndGlyphs" stroke="#333" stroke-width="0.05">EB</text>
<text x="90.80" y="418.60" font-size="2.8" text-anchor="middle" fill="#333" textLength="3.15" lengthAdjust="spacingAndGlyphs" stroke="#333" stroke-width="0.05">LB</text>
<text x="103.00" y="432.60" font-size="2.8" fill="#333" textLength="5.01" lengthAdjust="spacingAndGlyphs" stroke="#333" stroke-width="0.05">Poly</text>
<text x="103.00" y="443.70" font-size="2.8" fill="#333" textLength="6.44" lengthAdjust="spacingAndGlyphs" stroke="#333" stroke-width="0.05">Ortho</text>
<rect x="62.5" y="405.5" width="51.0" height="45.0" fill="none" stroke="#111" stroke-width="0.9"/>
<rect x="127.5" y="404.5" width="51.0" height="46.0" fill="none" stroke="#111" stroke-width="0.9"/>
<rect x="62.5" y="464.5" width="51.0" height="51.0" fill="none" stroke="#111" stroke-width="0.9"/>
<rect x="127.5" y="464.5" width="52.0" height="50.0" fill="none" stroke="#111" stroke-width="0.9"/>
<text x="196.72" y="396.70" font-size="11.2" textLength="5.21" lengthAdjust="spacingAndGlyphs" stroke="#111" stroke-width="0.1">J</text>
<line x1="237.50" y1="404.20" x2="237.50" y2="498.20" stroke="#111" stroke-width="1"/>
<line x1="234.50" y1="497.50" x2="237.50" y2="497.50" stroke="#111" stroke-width="1"/>
<text x="231.60" y="500.20" font-size="7.4" text-anchor="end" textLength="4.00" lengthAdjust="spacingAndGlyphs" stroke="#111" stroke-width="0.08">0</text>
<line x1="234.50" y1="482.50" x2="237.50" y2="482.50" stroke="#111" stroke-width="1"/>
<text x="231.60" y="485.02" font-size="7.4" text-anchor="end" textLength="8.00" lengthAdjust="spacingAndGlyphs" stroke="#111" stroke-width="0.08">20</text>
<line x1="234.50" y1="467.50" x2="237.50" y2="467.50" stroke="#111" stroke-width="1"/>
<text x="231.60" y="469.83" font-size="7.4" text-anchor="end" textLength="8.00" lengthAdjust="spacingAndGlyphs" stroke="#111" stroke-width="0.08">40</text>
<line x1="234.50" y1="452.50" x2="237.50" y2="452.50" stroke="#111" stroke-width="1"/>
<text x="231.60" y="454.65" font-size="7.4" text-anchor="end" textLength="8.00" lengthAdjust="spacingAndGlyphs" stroke="#111" stroke-width="0.08">60</text>
<line x1="234.50" y1="436.50" x2="237.50" y2="436.50" stroke="#111" stroke-width="1"/>
<text x="231.60" y="439.46" font-size="7.4" text-anchor="end" textLength="8.00" lengthAdjust="spacingAndGlyphs" stroke="#111" stroke-width="0.08">80</text>
<line x1="234.50" y1="421.50" x2="237.50" y2="421.50" stroke="#111" stroke-width="1"/>
<text x="231.60" y="424.28" font-size="7.4" text-anchor="end" textLength="12.00" lengthAdjust="spacingAndGlyphs" stroke="#111" stroke-width="0.08">100</text>
<line x1="234.50" y1="406.50" x2="237.50" y2="406.50" stroke="#111" stroke-width="1"/>
<text x="231.60" y="409.10" font-size="7.4" text-anchor="end" textLength="12.00" lengthAdjust="spacingAndGlyphs" stroke="#111" stroke-width="0.08">120</text>
<line x1="236.00" y1="497.50" x2="309.80" y2="497.50" stroke="#111" stroke-width="1"/>
<text x="214.30" y="450.50" font-size="8.6" text-anchor="middle" transform="rotate(-90 214.30 450.50)" textLength="118.00" lengthAdjust="spacingAndGlyphs" stroke="#111" stroke-width="0.08">Percentage of each stage cells</text>
<rect x="243.20" y="495.42" width="10.90" height="2.28" fill="#e3921a"/>
<rect x="243.20" y="485.93" width="10.90" height="9.49" fill="#8c80c8"/>
<rect x="243.20" y="426.18" width="10.90" height="59.75" fill="#4a5268"/>
<line x1="248.50" y1="495.42" x2="248.50" y2="494.66" stroke="#111" stroke-width="1.0"/>
<line x1="245.65" y1="494.50" x2="251.65" y2="494.50" stroke="#111" stroke-width="1.0"/>
<line x1="248.50" y1="485.93" x2="248.50" y2="482.52" stroke="#111" stroke-width="1.0"/>
<line x1="245.65" y1="482.50" x2="251.65" y2="482.50" stroke="#111" stroke-width="1.0"/>
<line x1="248.50" y1="426.18" x2="248.50" y2="423.60" stroke="#111" stroke-width="1.0"/>
<line x1="245.65" y1="423.50" x2="251.65" y2="423.50" stroke="#111" stroke-width="1.0"/>
<line x1="248.50" y1="497.70" x2="248.50" y2="500.20" stroke="#111" stroke-width="1"/>
<rect x="260.10" y="492.39" width="10.90" height="5.31" fill="#561a6e"/>
<rect x="260.10" y="481.38" width="10.90" height="11.01" fill="#306a55"/>
<rect x="260.10" y="457.08" width="10.90" height="24.29" fill="#e3921a"/>
<rect x="260.10" y="441.14" width="10.90" height="15.94" fill="#8c80c8"/>
<rect x="260.10" y="432.79" width="10.90" height="8.35" fill="#4a5268"/>
<line x1="265.50" y1="492.39" x2="265.50" y2="487.60" stroke="#111" stroke-width="1.0"/>
<line x1="262.55" y1="487.50" x2="268.55" y2="487.50" stroke="#111" stroke-width="1.0"/>
<line x1="265.50" y1="481.38" x2="265.50" y2="475.68" stroke="#111" stroke-width="1.0"/>
<line x1="262.55" y1="475.50" x2="268.55" y2="475.50" stroke="#111" stroke-width="1.0"/>
<line x1="265.50" y1="457.08" x2="265.50" y2="451.62" stroke="#111" stroke-width="1.0"/>
<line x1="262.55" y1="451.50" x2="268.55" y2="451.50" stroke="#111" stroke-width="1.0"/>
<line x1="265.50" y1="441.14" x2="265.50" y2="434.31" stroke="#111" stroke-width="1.0"/>
<line x1="262.55" y1="434.50" x2="268.55" y2="434.50" stroke="#111" stroke-width="1.0"/>
<line x1="265.50" y1="432.79" x2="265.50" y2="429.37" stroke="#111" stroke-width="1.0"/>
<line x1="262.55" y1="429.50" x2="268.55" y2="429.50" stroke="#111" stroke-width="1.0"/>
<line x1="265.50" y1="497.70" x2="265.50" y2="500.20" stroke="#111" stroke-width="1"/>
<rect x="277.00" y="491.25" width="10.90" height="6.45" fill="#8c80c8"/>
<rect x="277.00" y="425.20" width="10.90" height="66.05" fill="#4a5268"/>
<line x1="282.50" y1="491.25" x2="282.50" y2="488.67" stroke="#111" stroke-width="1.0"/>
<line x1="279.45" y1="488.50" x2="285.45" y2="488.50" stroke="#111" stroke-width="1.0"/>
<line x1="282.50" y1="425.20" x2="282.50" y2="420.49" stroke="#111" stroke-width="1.0"/>
<line x1="279.45" y1="420.50" x2="285.45" y2="420.50" stroke="#111" stroke-width="1.0"/>
<line x1="282.50" y1="497.70" x2="282.50" y2="500.20" stroke="#111" stroke-width="1"/>
<rect x="293.90" y="496.18" width="10.90" height="1.52" fill="#561a6e"/>
<rect x="293.90" y="493.90" width="10.90" height="2.28" fill="#306a55"/>
<rect x="293.90" y="486.31" width="10.90" height="7.59" fill="#e3921a"/>
<rect x="293.90" y="470.37" width="10.90" height="15.94" fill="#8c80c8"/>
<rect x="293.90" y="426.71" width="10.90" height="43.65" fill="#4a5268"/>
<line x1="299.50" y1="496.18" x2="299.50" y2="495.04" stroke="#111" stroke-width="1.0"/>
<line x1="296.35" y1="495.50" x2="302.35" y2="495.50" stroke="#111" stroke-width="1.0"/>
<line x1="299.50" y1="493.90" x2="299.50" y2="492.46" stroke="#111" stroke-width="1.0"/>
<line x1="296.35" y1="492.50" x2="302.35" y2="492.50" stroke="#111" stroke-width="1.0"/>
<line x1="299.50" y1="486.31" x2="299.50" y2="483.58" stroke="#111" stroke-width="1.0"/>
<line x1="296.35" y1="483.50" x2="302.35" y2="483.50" stroke="#111" stroke-width="1.0"/>
<line x1="299.50" y1="470.37" x2="299.50" y2="464.75" stroke="#111" stroke-width="1.0"/>
<line x1="296.35" y1="464.50" x2="302.35" y2="464.50" stroke="#111" stroke-width="1.0"/>
<line x1="299.50" y1="426.71" x2="299.50" y2="419.73" stroke="#111" stroke-width="1.0"/>
<line x1="296.35" y1="419.50" x2="302.35" y2="419.50" stroke="#111" stroke-width="1.0"/>
<line x1="299.50" y1="497.70" x2="299.50" y2="500.20" stroke="#111" stroke-width="1"/>
<rect x="310.50" y="431.00" width="6.20" height="5.80" fill="#561a6e"/>
<text x="319.60" y="436.40" font-size="8.2" textLength="12.12" lengthAdjust="spacingAndGlyphs" stroke="#111" stroke-width="0.08">Pro</text>
<rect x="310.50" y="443.15" width="6.20" height="5.80" fill="#306a55"/>
<text x="319.60" y="448.55" font-size="8.2" textLength="10.39" lengthAdjust="spacingAndGlyphs" stroke="#111" stroke-width="0.08">EB</text>
<rect x="310.50" y="455.30" width="6.20" height="5.80" fill="#e3921a"/>
<text x="319.60" y="460.70" font-size="8.2" textLength="9.53" lengthAdjust="spacingAndGlyphs" stroke="#111" stroke-width="0.08">LB</text>
<rect x="310.50" y="467.45" width="6.20" height="5.80" fill="#8c80c8"/>
<text x="319.60" y="472.85" font-size="8.2" textLength="15.15" lengthAdjust="spacingAndGlyphs" stroke="#111" stroke-width="0.08">Poly</text>
<rect x="310.50" y="479.60" width="6.20" height="5.80" fill="#4a5268"/>
<text x="319.60" y="485.00" font-size="8.2" textLength="19.48" lengthAdjust="spacingAndGlyphs" stroke="#111" stroke-width="0.08">Ortho</text>
<text x="251.00" y="506.50" font-size="7.8" text-anchor="end" transform="rotate(-45 251.00 506.50)" textLength="76.95" lengthAdjust="spacingAndGlyphs" stroke="#111" stroke-width="0.08">Luciferase-CFU-E-DMSO</text>
<text x="267.80" y="506.50" font-size="7.8" text-anchor="end" transform="rotate(-45 267.80 506.50)" textLength="73.55" lengthAdjust="spacingAndGlyphs" stroke="#111" stroke-width="0.08">TET2 KD-CFU-E-DMSO</text>
<text x="284.70" y="506.50" font-size="7.8" text-anchor="end" transform="rotate(-45 284.70 506.50)" textLength="72.82" lengthAdjust="spacingAndGlyphs" stroke="#111" stroke-width="0.08">Luciferase-CFU-E-R428</text>
<text x="301.60" y="506.50" font-size="7.8" text-anchor="end" transform="rotate(-45 301.60 506.50)" textLength="69.41" lengthAdjust="spacingAndGlyphs" stroke="#111" stroke-width="0.08">TET2 KD-CFU-E-R428</text>
<defs><filter id="cb2" x="-50%" y="-50%" width="200%" height="200%"><feGaussianBlur stdDeviation="0.4"/></filter><filter id="cb3" x="-50%" y="-50%" width="200%" height="200%"><feGaussianBlur stdDeviation="1.2"/></filter></defs>
<text x="343.04" y="396.80" font-size="11.2" textLength="6.95" lengthAdjust="spacingAndGlyphs" stroke="#111" stroke-width="0.1">K</text>
<text x="412.20" y="411.00" font-size="7.4" text-anchor="middle" textLength="20.00" lengthAdjust="spacingAndGlyphs" stroke="#111" stroke-width="0.08">DMSO</text>
<text x="470.90" y="411.00" font-size="7.4" text-anchor="middle" textLength="16.00" lengthAdjust="spacingAndGlyphs" stroke="#111" stroke-width="0.08">R428</text>
<text x="344.40" y="438.10" font-size="7.6" textLength="31.40" lengthAdjust="spacingAndGlyphs" stroke="#111" stroke-width="0.08">Luciferase</text>
<text x="344.40" y="446.40" font-size="7.6" textLength="21.30" lengthAdjust="spacingAndGlyphs" stroke="#111" stroke-width="0.08">-CFU-E</text>
<text x="344.40" y="495.10" font-size="7.6" textLength="25.80" lengthAdjust="spacingAndGlyphs" stroke="#111" stroke-width="0.08">TET2 KD</text>
<text x="344.40" y="503.20" font-size="7.6" textLength="21.30" lengthAdjust="spacingAndGlyphs" stroke="#111" stroke-width="0.08">-CFU-E</text>
<rect x="384.00" y="415.00" width="55.20" height="41.00" fill="#dcdcdb"/>
<rect x="442.80" y="415.00" width="55.20" height="41.00" fill="#eeebe5"/>
<rect x="383.60" y="473.90" width="55.20" height="41.00" fill="#e0e0e0"/>
<rect x="442.80" y="473.90" width="55.20" height="41.00" fill="#e5e3e3"/>
<ellipse cx="418.6" cy="450.6" rx="4.6" ry="5.6" fill="#c9a6cc" filter="url(#cb3)"/>
<circle cx="392.0" cy="449.7" r="4.4" fill="#e2d2d8" stroke="#cda8b8" stroke-width="0.7" filter="url(#cb2)"/>
<circle cx="393.4" cy="449.1" r="2.7" fill="#5e40a0" filter="url(#cb2)"/>
<circle cx="399.1" cy="446.4" r="3.9" fill="#e2d2d8" stroke="#cda8b8" stroke-width="0.7" filter="url(#cb2)"/>
<circle cx="400.1" cy="446.0" r="2.4" fill="#6040a0" filter="url(#cb2)"/>
<circle cx="406.0" cy="441.8" r="3.5" fill="#e2d2d8" stroke="#cda8b8" stroke-width="0.7" filter="url(#cb2)"/>
<circle cx="404.9" cy="442.7" r="1.95" fill="#4a2a88" filter="url(#cb2)"/>
<circle cx="423.9" cy="425.6" r="3.5" fill="#e2d2d8" stroke="#cda8b8" stroke-width="0.7" filter="url(#cb2)"/>
<circle cx="423.6" cy="426.6" r="1.85" fill="#5a38a0" filter="url(#cb2)"/>
<circle cx="429.6" cy="428.3" r="3.0" fill="#e2d2d8" stroke="#cda8b8" stroke-width="0.7" filter="url(#cb2)"/>
<circle cx="429.4" cy="428.4" r="1.6" fill="#4a2a90" filter="url(#cb2)"/>
<circle cx="425.9" cy="435.8" r="4.9" fill="#e2d2d8" stroke="#cda8b8" stroke-width="0.7" filter="url(#cb2)"/>
<circle cx="425.8" cy="434.4" r="2.7" fill="#5a3ca0" filter="url(#cb2)"/>
<circle cx="416.4" cy="431.3" r="3.5" fill="#d8d4e6" stroke="#8a84c4" stroke-width="0.8" filter="url(#cb2)"/>
<circle cx="417.2" cy="432.1" r="2.2" fill="#7050a8" filter="url(#cb2)"/>
<ellipse cx="466" cy="420.7" rx="3.0" ry="3.6" fill="#d8b4c2" filter="url(#cb2)"/>
<circle cx="471.5" cy="444.0" r="3.2" fill="#e0c6cc" stroke="#d4b0bc" stroke-width="0.7" filter="url(#cb2)"/>
<circle cx="469.5" cy="444.4" r="1.5" fill="#3a2a78" filter="url(#cb2)"/>
<circle cx="460.0" cy="443.0" r="3.1" fill="#cbb4d0" stroke="#b8a0c8" stroke-width="0.7" filter="url(#cb2)"/>
<circle cx="460.6" cy="444.1" r="1.6" fill="#3a2a78" filter="url(#cb2)"/>
<circle cx="465.6" cy="440.0" r="3.3" fill="#dcc2cc" stroke="#d0acbc" stroke-width="0.7" filter="url(#cb2)"/>
<circle cx="465.4" cy="441.5" r="1.6" fill="#3a2a78" filter="url(#cb2)"/>
<circle cx="465.4" cy="447.0" r="2.7" fill="#dcc2cc" stroke="#d0acbc" stroke-width="0.7" filter="url(#cb2)"/>
<circle cx="464.6" cy="446.4" r="1.6" fill="#3a2a78" filter="url(#cb2)"/>
<circle cx="461.1" cy="447.9" r="1.2" fill="#1a1030" filter="url(#cb2)"/>
<circle cx="386.3" cy="480.5" r="0.9" fill="#4a48a8" filter="url(#cb2)"/>
<ellipse cx="387.5" cy="514.2" rx="3.5" ry="1.4" fill="#c8a4d4" filter="url(#cb2)"/>
<circle cx="393.9" cy="479.6" r="5.2" fill="#a890cc" stroke="#5a5cb8" stroke-width="0.9" filter="url(#cb2)"/>
<circle cx="392.87" cy="480.63" r="2.86" fill="#7c4cac" filter="url(#cb2)"/>
<circle cx="395.44" cy="478.06" r="1.87" fill="#e6e6f4" filter="url(#cb2)"/>
<circle cx="402.3" cy="482.5" r="3.0" fill="#a890cc" stroke="#5a5cb8" stroke-width="0.9" filter="url(#cb2)"/>
<circle cx="401.71" cy="483.09" r="1.65" fill="#7c4cac" filter="url(#cb2)"/>
<circle cx="403.19" cy="481.61" r="1.08" fill="#e6e6f4" filter="url(#cb2)"/>
<circle cx="413.8" cy="482.7" r="2.6" fill="#a890cc" stroke="#5a5cb8" stroke-width="0.9" filter="url(#cb2)"/>
<circle cx="413.29" cy="483.21" r="1.43" fill="#7c4cac" filter="url(#cb2)"/>
<circle cx="414.57" cy="481.93" r="0.94" fill="#e6e6f4" filter="url(#cb2)"/>
<circle cx="408.6" cy="488.2" r="4.2" fill="#a890cc" stroke="#5a5cb8" stroke-width="0.9" filter="url(#cb2)"/>
<circle cx="407.77" cy="489.03" r="2.31" fill="#7c4cac" filter="url(#cb2)"/>
<circle cx="409.85" cy="486.95" r="1.51" fill="#e6e6f4" filter="url(#cb2)"/>
<circle cx="416.6" cy="488.9" r="3.0" fill="#a890cc" stroke="#5a5cb8" stroke-width="0.9" filter="url(#cb2)"/>
<circle cx="416.01" cy="489.49" r="1.65" fill="#7c4cac" filter="url(#cb2)"/>
<circle cx="417.49" cy="488.01" r="1.08" fill="#e6e6f4" filter="url(#cb2)"/>
<circle cx="412.5" cy="495.4" r="2.8" fill="#a890cc" stroke="#5a5cb8" stroke-width="0.9" filter="url(#cb2)"/>
<circle cx="411.95" cy="495.95" r="1.54" fill="#7c4cac" filter="url(#cb2)"/>
<circle cx="413.33" cy="494.57" r="1.01" fill="#e6e6f4" filter="url(#cb2)"/>
<circle cx="419.9" cy="494.8" r="3.1" fill="#a890cc" stroke="#5a5cb8" stroke-width="0.9" filter="url(#cb2)"/>
<circle cx="419.29" cy="495.41" r="1.71" fill="#7c4cac" filter="url(#cb2)"/>
<circle cx="420.82" cy="493.88" r="1.12" fill="#e6e6f4" filter="url(#cb2)"/>
<circle cx="407.3" cy="501.4" r="3.5" fill="#a890cc" stroke="#5a5cb8" stroke-width="0.9" filter="url(#cb2)"/>
<circle cx="406.61" cy="502.09" r="1.93" fill="#7c4cac" filter="url(#cb2)"/>
<circle cx="408.34" cy="500.36" r="1.26" fill="#e6e6f4" filter="url(#cb2)"/>
<circle cx="416.1" cy="502.0" r="4.2" fill="#a890cc" stroke="#5a5cb8" stroke-width="0.9" filter="url(#cb2)"/>
<circle cx="415.27" cy="502.83" r="2.31" fill="#7c4cac" filter="url(#cb2)"/>
<circle cx="417.35" cy="500.75" r="1.51" fill="#e6e6f4" filter="url(#cb2)"/>
<circle cx="423.0" cy="500.0" r="2.6" fill="#a890cc" stroke="#5a5cb8" stroke-width="0.9" filter="url(#cb2)"/>
<circle cx="422.49" cy="500.51" r="1.43" fill="#7c4cac" filter="url(#cb2)"/>
<circle cx="423.77" cy="499.23" r="0.94" fill="#e6e6f4" filter="url(#cb2)"/>
<circle cx="428.0" cy="503.3" r="3.0" fill="#a890cc" stroke="#5a5cb8" stroke-width="0.9" filter="url(#cb2)"/>
<circle cx="427.41" cy="503.89" r="1.65" fill="#7c4cac" filter="url(#cb2)"/>
<circle cx="428.89" cy="502.41" r="1.08" fill="#e6e6f4" filter="url(#cb2)"/>
<circle cx="421.6" cy="507.6" r="3.6" fill="#a890cc" stroke="#5a5cb8" stroke-width="0.9" filter="url(#cb2)"/>
<circle cx="420.89" cy="508.31" r="1.98" fill="#7c4cac" filter="url(#cb2)"/>
<circle cx="422.67" cy="506.53" r="1.30" fill="#e6e6f4" filter="url(#cb2)"/>
<circle cx="415.5" cy="510.2" r="2.2" fill="#a890cc" stroke="#5a5cb8" stroke-width="0.9" filter="url(#cb2)"/>
<circle cx="415.06" cy="510.64" r="1.21" fill="#7c4cac" filter="url(#cb2)"/>
<circle cx="416.15" cy="509.55" r="0.79" fill="#e6e6f4" filter="url(#cb2)"/>
<circle cx="427.3" cy="512.2" r="2.5" fill="#a890cc" stroke="#5a5cb8" stroke-width="0.9" filter="url(#cb2)"/>
<circle cx="426.81" cy="512.69" r="1.38" fill="#7c4cac" filter="url(#cb2)"/>
<circle cx="428.04" cy="511.46" r="0.90" fill="#e6e6f4" filter="url(#cb2)"/>
<ellipse cx="480.5" cy="490.5" rx="7.5" ry="7.0" fill="#d6bcd6" filter="url(#cb3)"/>
<ellipse cx="444.8" cy="484.7" rx="2.4" ry="3.8" fill="#b088c4" filter="url(#cb2)"/>
<circle cx="459.7" cy="489.1" r="3.1" fill="#dcbfcc" stroke="#c8a8c0" stroke-width="0.7" filter="url(#cb2)"/>
<circle cx="460.5" cy="488.2" r="1.5" fill="#4a3080" filter="url(#cb2)"/>
<circle cx="472.2" cy="492.2" r="2.2" fill="#d4bcd0" stroke="#c0a8c8" stroke-width="0.7" filter="url(#cb2)"/>
<circle cx="472.2" cy="492.2" r="1.0" fill="#9c80b8" filter="url(#cb2)"/>
<circle cx="467.0" cy="498.6" r="3.4" fill="#dcbfcc" stroke="#c8a8c0" stroke-width="0.7" filter="url(#cb2)"/>
<circle cx="467.0" cy="498.6" r="1.5" fill="#4a3080" filter="url(#cb2)"/>
<circle cx="472.5" cy="498.4" r="2.8" fill="#dcbfcc" stroke="#c8a8c0" stroke-width="0.7" filter="url(#cb2)"/>
<circle cx="471.6" cy="497.5" r="1.3" fill="#4a3080" filter="url(#cb2)"/>
<circle cx="483.9" cy="508.4" r="2.6" fill="#dcbfcc" stroke="#c8a8c0" stroke-width="0.7" filter="url(#cb2)"/>
<circle cx="483.2" cy="506.7" r="1.4" fill="#4a3080" filter="url(#cb2)"/>
<circle cx="466.0" cy="480.8" r="4.0" fill="#9a7cc0" stroke="#7a70b8" stroke-width="0.9" filter="url(#cb2)"/>
<circle cx="465.44" cy="481.77" r="2.20" fill="#6c4aa0" filter="url(#cb2)"/>
<circle cx="466.84" cy="479.35" r="1.44" fill="#dcd6ec" filter="url(#cb2)"/>
<circle cx="467.2" cy="488.2" r="3.8" fill="#9a7cc0" stroke="#7a70b8" stroke-width="0.9" filter="url(#cb2)"/>
<circle cx="466.67" cy="489.12" r="2.09" fill="#6c4aa0" filter="url(#cb2)"/>
<circle cx="468.00" cy="486.82" r="1.37" fill="#dcd6ec" filter="url(#cb2)"/>
<circle cx="478.5" cy="503.2" r="3.6" fill="#9a7cc0" stroke="#7a70b8" stroke-width="0.9" filter="url(#cb2)"/>
<circle cx="478.00" cy="504.07" r="1.98" fill="#6c4aa0" filter="url(#cb2)"/>
<circle cx="479.26" cy="501.89" r="1.30" fill="#dcd6ec" filter="url(#cb2)"/>
<circle cx="486.4" cy="500.6" r="4.1" fill="#9a7cc0" stroke="#7a70b8" stroke-width="0.9" filter="url(#cb2)"/>
<circle cx="485.83" cy="501.59" r="2.25" fill="#6c4aa0" filter="url(#cb2)"/>
<circle cx="487.26" cy="499.11" r="1.48" fill="#dcd6ec" filter="url(#cb2)"/>
<circle cx="468.7" cy="494.0" r="1.3" fill="#2a2050" filter="url(#cb2)"/>
<text x="489.50" y="510.50" font-size="3.8" text-anchor="middle" textLength="8.82" lengthAdjust="spacingAndGlyphs" stroke="#111" stroke-width="0.15" font-weight="bold">10μm</text>
<line x1="487.20" y1="512.90" x2="494.60" y2="512.90" stroke="#111" stroke-width="1.3"/>
<rect x="0.5" y="0.5" width="519" height="576" fill="none" stroke="#000" stroke-width="1.2"/>
</svg></body></html>
